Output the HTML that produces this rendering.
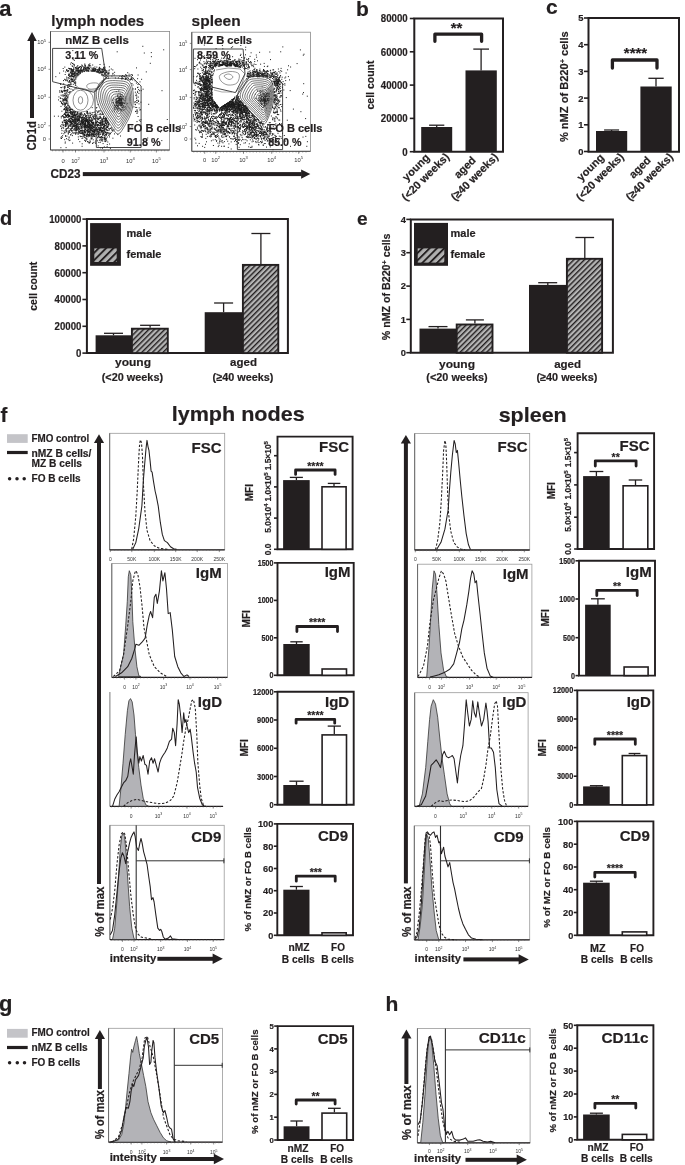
<!DOCTYPE html>
<html><head><meta charset="utf-8"><title>Figure</title>
<style>html,body{margin:0;padding:0;background:#fff;}svg{display:block;}text{stroke:#231f20;stroke-width:0.2px;stroke-linejoin:round;}text[font-weight=normal]{stroke:none;}</style>
</head><body>
<svg width="685" height="1165" viewBox="0 0 685 1165">
<defs><pattern id="hatch" patternUnits="userSpaceOnUse" width="3.75" height="3.75" patternTransform="rotate(45)"><rect width="3.75" height="3.75" fill="#b4b4b4"/><rect x="0" y="0" width="1.4" height="3.75" fill="#231f20"/></pattern><pattern id="hatchL" patternUnits="userSpaceOnUse" width="5.2" height="5.2" patternTransform="rotate(45)"><rect width="5.2" height="5.2" fill="#b0b0b0"/><rect x="0" y="0" width="1.9" height="5.2" fill="#231f20"/></pattern></defs>
<rect width="685" height="1165" fill="#fff"/>
<g font-family="Liberation Sans, Arial, Helvetica, sans-serif" font-weight="bold" fill="#231f20">
<text x="-0.8" y="16" font-size="22">a</text>
<text x="51.2" y="25.9" font-size="15" textLength="93" lengthAdjust="spacingAndGlyphs">lymph nodes</text>
<text x="191.6" y="25.9" font-size="15.5" textLength="49" lengthAdjust="spacingAndGlyphs">spleen</text>
<rect x="30" y="40.5" width="4" height="77.5" fill="#231f20"/>
<path d="M32 32 L36.8 41 L27.2 41Z" fill="#231f20"/>
<text x="36.5" y="150.6" font-size="12" textLength="29.5" lengthAdjust="spacingAndGlyphs" transform="rotate(-90 36.5 150.6)">CD1d</text>
<rect x="82.8" y="172.1" width="218.8" height="4" fill="#231f20"/>
<path d="M310.3 174.1 L301.1 169.5 L301.1 178.7Z" fill="#231f20"/>
<text x="50.6" y="177.6" font-size="12.5" textLength="30" lengthAdjust="spacingAndGlyphs">CD23</text>
<rect x="50.5" y="31.5" width="119.1" height="118.5" fill="none" stroke="#8a8a8a" stroke-width="0.8"/>
<line x1="50.5" y1="31.5" x2="50.5" y2="150" stroke="#333" stroke-width="0.8"/>
<line x1="50.5" y1="150" x2="169.6" y2="150" stroke="#333" stroke-width="0.8"/>
<line x1="52.5" y1="150" x2="52.5" y2="151.3" stroke="#555" stroke-width="0.5"/>
<line x1="55.8" y1="150" x2="55.8" y2="151.3" stroke="#555" stroke-width="0.5"/>
<line x1="59.1" y1="150" x2="59.1" y2="151.3" stroke="#555" stroke-width="0.5"/>
<line x1="62.4" y1="150" x2="62.4" y2="151.3" stroke="#555" stroke-width="0.5"/>
<line x1="65.7" y1="150" x2="65.7" y2="151.3" stroke="#555" stroke-width="0.5"/>
<line x1="69" y1="150" x2="69" y2="151.3" stroke="#555" stroke-width="0.5"/>
<line x1="72.3" y1="150" x2="72.3" y2="151.3" stroke="#555" stroke-width="0.5"/>
<line x1="75.6" y1="150" x2="75.6" y2="151.3" stroke="#555" stroke-width="0.5"/>
<line x1="78.9" y1="150" x2="78.9" y2="151.3" stroke="#555" stroke-width="0.5"/>
<line x1="82.2" y1="150" x2="82.2" y2="151.3" stroke="#555" stroke-width="0.5"/>
<line x1="85.5" y1="150" x2="85.5" y2="151.3" stroke="#555" stroke-width="0.5"/>
<line x1="88.8" y1="150" x2="88.8" y2="151.3" stroke="#555" stroke-width="0.5"/>
<line x1="92.1" y1="150" x2="92.1" y2="151.3" stroke="#555" stroke-width="0.5"/>
<line x1="95.4" y1="150" x2="95.4" y2="151.3" stroke="#555" stroke-width="0.5"/>
<line x1="98.7" y1="150" x2="98.7" y2="151.3" stroke="#555" stroke-width="0.5"/>
<line x1="102" y1="150" x2="102" y2="151.3" stroke="#555" stroke-width="0.5"/>
<line x1="105.3" y1="150" x2="105.3" y2="151.3" stroke="#555" stroke-width="0.5"/>
<line x1="108.6" y1="150" x2="108.6" y2="151.3" stroke="#555" stroke-width="0.5"/>
<line x1="111.9" y1="150" x2="111.9" y2="151.3" stroke="#555" stroke-width="0.5"/>
<line x1="115.2" y1="150" x2="115.2" y2="151.3" stroke="#555" stroke-width="0.5"/>
<line x1="118.5" y1="150" x2="118.5" y2="151.3" stroke="#555" stroke-width="0.5"/>
<line x1="121.8" y1="150" x2="121.8" y2="151.3" stroke="#555" stroke-width="0.5"/>
<line x1="125.1" y1="150" x2="125.1" y2="151.3" stroke="#555" stroke-width="0.5"/>
<line x1="128.4" y1="150" x2="128.4" y2="151.3" stroke="#555" stroke-width="0.5"/>
<line x1="131.7" y1="150" x2="131.7" y2="151.3" stroke="#555" stroke-width="0.5"/>
<line x1="135" y1="150" x2="135" y2="151.3" stroke="#555" stroke-width="0.5"/>
<line x1="138.3" y1="150" x2="138.3" y2="151.3" stroke="#555" stroke-width="0.5"/>
<line x1="141.6" y1="150" x2="141.6" y2="151.3" stroke="#555" stroke-width="0.5"/>
<line x1="144.9" y1="150" x2="144.9" y2="151.3" stroke="#555" stroke-width="0.5"/>
<line x1="148.2" y1="150" x2="148.2" y2="151.3" stroke="#555" stroke-width="0.5"/>
<line x1="151.5" y1="150" x2="151.5" y2="151.3" stroke="#555" stroke-width="0.5"/>
<line x1="154.8" y1="150" x2="154.8" y2="151.3" stroke="#555" stroke-width="0.5"/>
<line x1="158.1" y1="150" x2="158.1" y2="151.3" stroke="#555" stroke-width="0.5"/>
<line x1="161.4" y1="150" x2="161.4" y2="151.3" stroke="#555" stroke-width="0.5"/>
<line x1="164.7" y1="150" x2="164.7" y2="151.3" stroke="#555" stroke-width="0.5"/>
<line x1="168" y1="150" x2="168" y2="151.3" stroke="#555" stroke-width="0.5"/>
<line x1="48.5" y1="42.3" x2="50.5" y2="42.3" stroke="#444" stroke-width="0.6"/>
<text x="46.1" y="44.4" font-size="5.8" text-anchor="end" font-weight="normal" fill="#333">10<tspan font-size="4.1" dy="-2.6">5</tspan></text>
<line x1="48.5" y1="69.3" x2="50.5" y2="69.3" stroke="#444" stroke-width="0.6"/>
<text x="46.1" y="71.4" font-size="5.8" text-anchor="end" font-weight="normal" fill="#333">10<tspan font-size="4.1" dy="-2.6">4</tspan></text>
<line x1="48.5" y1="97.3" x2="50.5" y2="97.3" stroke="#444" stroke-width="0.6"/>
<text x="46.1" y="99.4" font-size="5.8" text-anchor="end" font-weight="normal" fill="#333">10<tspan font-size="4.1" dy="-2.6">3</tspan></text>
<line x1="48.5" y1="125.8" x2="50.5" y2="125.8" stroke="#444" stroke-width="0.6"/>
<text x="46.1" y="127.9" font-size="5.8" text-anchor="end" font-weight="normal" fill="#333">10<tspan font-size="4.1" dy="-2.6">2</tspan></text>
<line x1="48.5" y1="139" x2="50.5" y2="139" stroke="#444" stroke-width="0.6"/>
<text x="46.1" y="141.1" font-size="5.8" text-anchor="end" font-weight="normal" fill="#333">0</text>
<line x1="63" y1="150" x2="63" y2="152.5" stroke="#444" stroke-width="0.6"/>
<text x="63" y="163" font-size="5.8" text-anchor="middle" font-weight="normal" fill="#333">0</text>
<line x1="75.5" y1="150" x2="75.5" y2="152.5" stroke="#444" stroke-width="0.6"/>
<text x="75.5" y="163" font-size="5.8" text-anchor="middle" font-weight="normal" fill="#333">10<tspan font-size="4.1" dy="-2.6">2</tspan></text>
<line x1="104" y1="150" x2="104" y2="152.5" stroke="#444" stroke-width="0.6"/>
<text x="104" y="163" font-size="5.8" text-anchor="middle" font-weight="normal" fill="#333">10<tspan font-size="4.1" dy="-2.6">3</tspan></text>
<line x1="130.3" y1="150" x2="130.3" y2="152.5" stroke="#444" stroke-width="0.6"/>
<text x="130.3" y="163" font-size="5.8" text-anchor="middle" font-weight="normal" fill="#333">10<tspan font-size="4.1" dy="-2.6">4</tspan></text>
<line x1="156.4" y1="150" x2="156.4" y2="152.5" stroke="#444" stroke-width="0.6"/>
<text x="156.4" y="163" font-size="5.8" text-anchor="middle" font-weight="normal" fill="#333">10<tspan font-size="4.1" dy="-2.6">5</tspan></text>
<path d="M94.1 126.1h1.0M64.6 91.1h1.0M98.1 69.2h1.0M85.4 126.3h1.0M63.2 99.7h1.0M72.6 121.0h1.0M83.0 115.1h1.0M67.6 77.6h1.0M84.3 64.0h1.0M65.8 128.8h1.0M78.7 117.6h1.0M99.4 122.3h1.0M94.0 69.0h1.0M66.3 100.6h1.0M104.4 139.2h1.0M93.7 70.8h1.0M114.0 133.9h1.0M74.4 75.6h1.0M88.8 128.9h1.0M77.9 122.7h1.0M96.3 67.1h1.0M96.5 114.1h1.0M91.3 136.8h1.0M136.2 95.2h1.0M77.3 73.4h1.0M84.5 123.2h1.0M84.2 127.9h1.0M77.8 119.9h1.0M107.3 123.9h1.0M72.0 119.5h1.0M122.6 76.3h1.0M97.7 118.6h1.0M83.4 127.2h1.0M80.6 128.6h1.0M68.4 75.5h1.0M84.6 129.8h1.0M88.8 125.3h1.0M87.9 127.2h1.0M84.1 130.5h1.0M61.4 111.2h1.0M62.1 135.7h1.0M81.6 118.8h1.0M60.9 136.8h1.0M88.8 124.1h1.0M102.4 122.0h1.0M102.2 125.4h1.0M65.1 111.2h1.0M64.0 90.5h1.0M69.3 84.4h1.0M90.5 123.6h1.0M130.9 78.9h1.0M86.7 131.2h1.0M71.3 109.4h1.0M101.3 124.5h1.0M103.8 123.0h1.0M68.5 125.9h1.0M102.9 71.0h1.0M88.6 130.3h1.0M88.4 121.0h1.0M83.3 134.0h1.0M98.3 111.8h1.0M66.9 115.9h1.0M95.8 108.0h1.0M104.2 124.8h1.0M99.7 113.4h1.0M85.2 116.5h1.0M91.6 130.8h1.0M100.7 118.0h1.0M105.0 120.0h1.0M88.2 123.4h1.0M61.7 95.9h1.0M71.7 76.5h1.0M100.1 127.8h1.0M63.9 95.2h1.0M86.4 67.5h1.0M77.7 116.9h1.0M71.8 76.2h1.0M91.0 71.1h1.0M74.6 111.9h1.0M65.4 126.3h1.0M88.8 133.4h1.0M73.7 129.8h1.0M82.6 117.0h1.0M65.5 110.7h1.0M66.0 138.7h1.0M160.0 132.0h1.0M104.6 128.9h1.0M100.0 72.6h1.0M95.9 127.6h1.0M77.6 134.4h1.0M82.5 121.7h1.0M91.5 134.1h1.0M65.1 126.5h1.0M80.8 126.4h1.0M98.2 122.6h1.0M67.2 85.1h1.0M74.1 72.4h1.0M82.0 117.5h1.0M74.1 126.2h1.0M76.6 71.3h1.0M66.5 123.7h1.0M89.6 133.9h1.0M106.8 144.6h1.0M69.0 107.9h1.0M92.4 130.2h1.0M99.7 122.5h1.0M90.6 129.5h1.0M65.1 99.6h1.0M81.4 127.3h1.0M107.0 127.5h1.0M73.4 64.3h1.0M68.6 106.4h1.0M70.0 121.6h1.0M79.0 67.5h1.0M103.1 116.6h1.0M83.9 135.8h1.0M99.6 124.7h1.0M100.3 71.5h1.0M60.8 117.9h1.0M136.5 102.8h1.0M70.4 68.5h1.0M106.0 123.6h1.0M93.5 119.5h1.0M87.6 127.0h1.0M110.7 132.4h1.0M64.8 97.3h1.0M108.8 70.0h1.0M89.3 134.9h1.0M95.7 71.4h1.0M135.7 94.0h1.0M88.2 122.2h1.0M74.8 115.6h1.0M87.5 121.2h1.0M101.4 140.5h1.0M105.9 125.0h1.0M74.9 115.1h1.0M91.7 120.4h1.0M92.4 134.7h1.0M98.6 110.7h1.0M74.4 119.2h1.0M94.7 122.3h1.0M103.9 70.5h1.0M75.2 116.1h1.0M81.3 114.1h1.0M103.8 128.4h1.0M76.9 67.0h1.0M87.7 117.8h1.0M79.5 133.0h1.0M66.6 114.3h1.0M77.2 74.1h1.0M79.2 118.3h1.0M64.8 99.7h1.0M91.3 120.1h1.0M81.7 132.4h1.0M123.9 76.7h1.0M64.2 93.3h1.0M98.8 132.5h1.0M72.9 74.9h1.0M75.4 122.5h1.0M93.6 128.0h1.0M93.1 126.9h1.0M99.1 70.0h1.0M81.0 70.7h1.0M83.6 124.9h1.0M64.7 105.0h1.0M95.2 129.7h1.0M105.9 121.1h1.0M68.5 131.0h1.0M81.4 131.8h1.0M75.3 75.1h1.0M87.6 136.9h1.0M83.9 135.4h1.0M71.5 114.6h1.0M87.1 131.0h1.0M104.6 136.0h1.0M77.4 118.4h1.0M67.1 91.0h1.0M106.9 126.5h1.0M95.5 123.7h1.0M91.9 133.3h1.0M71.6 79.3h1.0M93.9 131.4h1.0M66.9 107.1h1.0M71.8 121.4h1.0M103.2 126.6h1.0M101.4 127.8h1.0M85.2 126.7h1.0M71.3 130.8h1.0M74.5 113.1h1.0M65.3 109.9h1.0M78.3 71.0h1.0M96.7 129.8h1.0M82.5 121.7h1.0M72.7 81.5h1.0M101.8 137.9h1.0M92.7 123.2h1.0M70.5 114.7h1.0M68.2 115.2h1.0M74.2 74.0h1.0M117.9 77.9h1.0M77.7 115.8h1.0M79.5 122.6h1.0M93.0 69.8h1.0M113.7 75.0h1.0M74.5 88.3h1.0M70.2 123.3h1.0M86.7 120.7h1.0M64.9 79.8h1.0M67.7 132.8h1.0M83.0 68.9h1.0M65.8 131.9h1.0M75.9 87.9h1.0M79.4 121.7h1.0M69.5 116.5h1.0M91.2 125.8h1.0M70.1 72.3h1.0M65.9 116.6h1.0M78.6 120.2h1.0M99.0 70.4h1.0M65.1 100.8h1.0M71.6 109.5h1.0M83.4 115.6h1.0M73.9 80.2h1.0M136.5 111.9h1.0M82.9 134.1h1.0M92.6 124.4h1.0M65.2 72.0h1.0M138.7 107.9h1.0M81.0 133.3h1.0M77.3 127.5h1.0M77.5 125.4h1.0M100.8 130.3h1.0M72.3 126.6h1.0M76.7 118.0h1.0M74.2 112.1h1.0M81.2 126.3h1.0M74.2 76.2h1.0M85.0 126.5h1.0M61.6 98.5h1.0M71.0 75.5h1.0M72.5 112.2h1.0M68.4 115.8h1.0M69.1 80.7h1.0M121.1 78.9h1.0M96.2 71.3h1.0M81.9 125.1h1.0M84.3 65.9h1.0M97.6 131.9h1.0M78.0 72.1h1.0M75.5 68.4h1.0M88.6 120.1h1.0M108.4 72.5h1.0M65.7 130.3h1.0M86.1 70.8h1.0M73.1 80.9h1.0M76.3 128.6h1.0M105.3 128.4h1.0M85.5 127.2h1.0M87.2 121.2h1.0M90.1 128.8h1.0M61.4 127.9h1.0M85.2 126.3h1.0M74.5 125.2h1.0M109.7 147.8h1.0M102.9 133.7h1.0M82.7 134.1h1.0M106.3 72.4h1.0M104.9 120.9h1.0M81.3 65.0h1.0M86.9 125.0h1.0M89.3 121.0h1.0M100.3 123.5h1.0M89.5 134.5h1.0M77.5 126.3h1.0M64.4 95.6h1.0M72.1 112.6h1.0M99.8 129.5h1.0M134.6 80.8h1.0M99.9 134.3h1.0M81.3 126.2h1.0M85.2 132.7h1.0M107.7 126.4h1.0M75.3 115.5h1.0M76.2 132.4h1.0M132.7 78.3h1.0M105.9 118.8h1.0M90.9 135.2h1.0M89.3 124.1h1.0M74.0 82.4h1.0M71.1 75.0h1.0M68.8 82.2h1.0M85.2 118.6h1.0M94.7 125.1h1.0M84.6 135.6h1.0M87.4 125.3h1.0M72.3 116.3h1.0M79.3 126.4h1.0M55.3 76.7h1.0M60.8 90.4h1.0M75.2 134.3h1.0M70.9 75.6h1.0M94.3 125.3h1.0M75.2 127.8h1.0M97.8 127.7h1.0M134.8 89.2h1.0M70.2 111.2h1.0M82.3 128.8h1.0M64.8 109.0h1.0M87.2 134.2h1.0M122.0 75.6h1.0M87.1 112.4h1.0M80.3 71.8h1.0M81.2 113.6h1.0M105.8 75.7h1.0M90.4 129.2h1.0M70.9 122.8h1.0M72.0 71.7h1.0M72.8 70.5h1.0M87.5 126.3h1.0M104.4 76.5h1.0M84.1 140.3h1.0M98.1 129.0h1.0M101.3 125.1h1.0M97.2 125.2h1.0M66.0 115.7h1.0M136.5 113.5h1.0M74.5 118.1h1.0M81.1 122.0h1.0M66.6 124.0h1.0M100.3 122.6h1.0M83.1 119.3h1.0M62.0 115.8h1.0M96.5 118.6h1.0M94.5 126.1h1.0M70.2 82.3h1.0M110.5 128.3h1.0M91.6 68.9h1.0M125.4 76.2h1.0M72.3 90.0h1.0M66.8 70.9h1.0M71.2 118.6h1.0M101.5 119.6h1.0M75.5 127.5h1.0M74.9 121.6h1.0M67.5 94.7h1.0M132.5 85.0h1.0M66.3 69.6h1.0M64.5 122.3h1.0M66.0 99.3h1.0M123.8 76.4h1.0M93.6 132.5h1.0M88.5 134.5h1.0M77.7 124.3h1.0M71.4 81.0h1.0M83.5 120.6h1.0M60.8 92.0h1.0M75.1 81.9h1.0M84.3 68.3h1.0M90.3 132.2h1.0M80.6 123.8h1.0M86.0 117.8h1.0M97.7 71.1h1.0M74.3 83.6h1.0M135.3 95.6h1.0M86.5 131.7h1.0M100.3 137.5h1.0M81.3 127.1h1.0M102.1 135.2h1.0M75.5 133.4h1.0M93.5 134.5h1.0M78.8 117.6h1.0M76.2 73.1h1.0M93.7 131.0h1.0M87.5 120.8h1.0M94.3 127.3h1.0M100.5 139.5h1.0M65.6 106.5h1.0M107.3 73.4h1.0M101.3 131.6h1.0M101.8 130.9h1.0M92.6 125.1h1.0M62.5 87.1h1.0M86.1 136.6h1.0M94.0 130.5h1.0M103.0 127.8h1.0M64.4 99.7h1.0M63.5 117.6h1.0M93.3 133.9h1.0M87.8 132.4h1.0M62.7 68.5h1.0M79.8 117.7h1.0M60.3 138.0h1.0M92.2 126.5h1.0M101.4 119.4h1.0M105.4 134.9h1.0M84.7 119.1h1.0M92.4 123.0h1.0M97.7 122.6h1.0M97.3 112.3h1.0M94.9 142.0h1.0M87.2 134.4h1.0M70.4 126.3h1.0M73.9 115.4h1.0M94.1 118.4h1.0M103.7 74.0h1.0M104.1 74.0h1.0M65.1 103.7h1.0M107.9 78.2h1.0M108.9 66.8h1.0M84.1 134.7h1.0M76.9 116.9h1.0M75.1 111.7h1.0M101.8 128.6h1.0M99.4 140.2h1.0M84.4 64.8h1.0M86.8 67.9h1.0M81.2 136.5h1.0M71.8 123.3h1.0M70.3 121.5h1.0M77.7 71.5h1.0M85.7 120.0h1.0M68.4 120.2h1.0M74.8 77.7h1.0M91.5 69.0h1.0M92.4 71.4h1.0M81.0 117.8h1.0M67.4 87.2h1.0M75.4 128.9h1.0M143.8 53.0h1.0M71.4 133.7h1.0M84.8 129.2h1.0M74.3 117.3h1.0M93.8 114.6h1.0M76.6 70.3h1.0M65.8 90.6h1.0M88.4 124.6h1.0M107.3 121.8h1.0M73.4 115.4h1.0M117.3 134.6h1.0M84.5 68.3h1.0M102.6 121.7h1.0M70.0 113.4h1.0M82.4 70.0h1.0M103.5 131.5h1.0M131.4 83.5h1.0M87.0 141.6h1.0M75.8 123.7h1.0M106.1 119.0h1.0M100.8 125.7h1.0M67.4 86.9h1.0M109.9 133.7h1.0M80.0 133.3h1.0M94.5 136.2h1.0M81.2 133.1h1.0M72.8 125.0h1.0M70.5 76.7h1.0M93.1 117.9h1.0M58.0 99.9h1.0M101.7 141.2h1.0M66.6 124.9h1.0M100.3 71.4h1.0M103.7 138.4h1.0M66.0 100.5h1.0M77.8 136.9h1.0M75.7 120.0h1.0M68.6 116.1h1.0M82.6 133.7h1.0M105.9 138.3h1.0M92.1 143.3h1.0M102.2 133.8h1.0M68.9 76.5h1.0M59.9 98.4h1.0M81.9 66.1h1.0M103.8 127.9h1.0M89.7 121.4h1.0M83.6 131.0h1.0M86.0 120.8h1.0M78.1 68.3h1.0M63.3 101.1h1.0M76.8 124.9h1.0M73.7 112.1h1.0M77.8 68.1h1.0M93.9 68.3h1.0M90.0 120.7h1.0M61.8 122.1h1.0M97.2 121.3h1.0M88.1 126.8h1.0M93.3 142.4h1.0M92.1 125.8h1.0M71.9 123.2h1.0M65.3 80.6h1.0M64.8 96.1h1.0M90.4 130.8h1.0M102.1 121.8h1.0M103.7 137.6h1.0M92.7 129.5h1.0M73.0 121.3h1.0M70.2 76.6h1.0M67.5 87.2h1.0M98.9 69.5h1.0M63.0 99.9h1.0M95.9 121.0h1.0M75.6 126.9h1.0M102.7 75.2h1.0M100.7 127.3h1.0M72.6 76.5h1.0M136.3 110.1h1.0M66.1 70.2h1.0M68.2 116.5h1.0M86.7 119.7h1.0M79.1 132.8h1.0M142.6 89.2h1.0M64.9 120.8h1.0M101.5 68.7h1.0M69.5 110.0h1.0M70.6 121.9h1.0M73.5 66.8h1.0M64.0 120.5h1.0M80.2 72.6h1.0M90.4 67.3h1.0M76.8 73.0h1.0M99.1 129.0h1.0M64.9 93.2h1.0M66.4 136.1h1.0M81.1 130.8h1.0M74.3 122.2h1.0M75.3 130.0h1.0M93.2 136.2h1.0M102.5 114.4h1.0M83.9 125.5h1.0M65.9 128.9h1.0M74.5 128.4h1.0M72.2 75.3h1.0M73.2 117.2h1.0M88.8 135.1h1.0M113.5 129.9h1.0M83.2 118.2h1.0M97.1 119.7h1.0M163.2 49.8h1.0M137.4 100.2h1.0M102.0 124.5h1.0M97.9 132.3h1.0M64.0 87.7h1.0M71.0 69.5h1.0M84.2 131.3h1.0M100.4 133.9h1.0M85.5 126.6h1.0M66.7 108.9h1.0M101.6 70.2h1.0M103.5 124.8h1.0M83.2 67.2h1.0M64.7 143.1h1.0M68.7 140.6h1.0M138.5 103.9h1.0M81.9 122.3h1.0M86.2 127.5h1.0M65.3 124.9h1.0M69.1 112.7h1.0M76.1 114.6h1.0M103.6 127.0h1.0M92.9 126.9h1.0M105.7 118.9h1.0M65.8 124.0h1.0M87.7 142.0h1.0M85.1 123.7h1.0M94.3 127.4h1.0M105.5 139.7h1.0M96.7 118.3h1.0M71.8 81.5h1.0M74.2 121.7h1.0M126.1 78.7h1.0M63.3 125.3h1.0M67.6 113.6h1.0M91.2 125.1h1.0M67.2 115.1h1.0M128.0 78.3h1.0M86.2 125.9h1.0M76.9 123.3h1.0M69.3 85.3h1.0M76.8 116.3h1.0M78.5 113.7h1.0M83.0 119.5h1.0M97.6 72.3h1.0M108.1 124.0h1.0M67.9 126.5h1.0M74.3 124.0h1.0M95.4 140.8h1.0M69.3 115.5h1.0M83.7 125.0h1.0M72.3 63.4h1.0M64.9 103.1h1.0M78.0 72.5h1.0M78.5 115.0h1.0M104.3 68.3h1.0M92.5 69.5h1.0M75.9 73.9h1.0M93.6 115.7h1.0M68.9 115.4h1.0M100.7 123.7h1.0M92.0 131.0h1.0M98.6 137.3h1.0M82.5 130.5h1.0M65.4 129.3h1.0M88.7 142.8h1.0M68.2 116.6h1.0M76.7 126.5h1.0M64.2 139.7h1.0M97.6 131.7h1.0M79.3 115.9h1.0M68.7 74.5h1.0M102.3 131.7h1.0M87.4 128.0h1.0M76.8 116.3h1.0M69.9 124.7h1.0M77.4 117.4h1.0M86.2 121.6h1.0M99.3 140.1h1.0M79.9 130.8h1.0M104.0 69.0h1.0M97.7 145.9h1.0M66.5 123.2h1.0M105.4 125.6h1.0M96.2 139.1h1.0M82.5 124.2h1.0M66.7 110.5h1.0M82.3 136.2h1.0M103.5 120.1h1.0M67.9 133.2h1.0M88.9 120.4h1.0M66.5 80.6h1.0M89.1 136.1h1.0M57.9 116.2h1.0M89.5 140.2h1.0M86.7 69.8h1.0M68.6 137.0h1.0M87.1 124.8h1.0M90.0 115.6h1.0M68.4 131.9h1.0M85.9 135.7h1.0M97.5 69.8h1.0M77.3 65.6h1.0M79.8 71.8h1.0M149.8 63.3h1.0M87.0 122.5h1.0M78.2 124.0h1.0M64.9 114.4h1.0M110.8 69.0h1.0M79.8 113.4h1.0M63.6 120.4h1.0M86.6 68.9h1.0M98.6 68.7h1.0M68.0 121.2h1.0M84.1 118.3h1.0M85.3 140.7h1.0M88.7 125.6h1.0M136.3 97.0h1.0M84.3 120.2h1.0M98.1 129.1h1.0M104.5 67.2h1.0M83.4 121.9h1.0M82.1 127.2h1.0M87.9 134.8h1.0M84.8 65.5h1.0M66.3 93.7h1.0M103.0 67.4h1.0M100.0 137.8h1.0M73.2 71.7h1.0M69.2 91.8h1.0M79.1 116.4h1.0M138.9 120.2h1.0M96.6 69.5h1.0M82.7 122.6h1.0M61.2 91.5h1.0M64.4 99.3h1.0M84.4 121.1h1.0M65.0 90.4h1.0M89.9 128.9h1.0M87.3 125.2h1.0M161.3 140.6h1.0M102.0 123.3h1.0M88.8 124.4h1.0M87.6 67.5h1.0M77.0 112.6h1.0M100.3 137.1h1.0M86.4 125.4h1.0M87.7 71.0h1.0M64.3 67.1h1.0M78.7 129.7h1.0M127.2 77.8h1.0M71.5 72.7h1.0M99.4 137.7h1.0M76.8 114.5h1.0M71.4 78.8h1.0M105.2 120.9h1.0M103.6 126.0h1.0M71.9 135.6h1.0M102.0 148.2h1.0M74.7 115.0h1.0M72.7 126.6h1.0M83.8 67.5h1.0M102.4 113.9h1.0M100.1 147.8h1.0M98.0 70.2h1.0M102.1 121.6h1.0M105.1 132.9h1.0M62.8 95.9h1.0M80.1 123.8h1.0M73.6 125.1h1.0M66.2 98.3h1.0M70.6 81.1h1.0M79.9 123.3h1.0M76.1 114.4h1.0M64.4 117.6h1.0M98.7 133.1h1.0M66.2 70.3h1.0M99.9 116.4h1.0M102.8 130.5h1.0M105.5 120.2h1.0M106.9 127.4h1.0M74.4 125.1h1.0M65.0 122.6h1.0M75.9 125.9h1.0M89.4 63.8h1.0M77.1 133.0h1.0M68.1 114.7h1.0M92.1 124.1h1.0M97.2 125.0h1.0M73.9 132.9h1.0M90.3 130.6h1.0M86.5 113.3h1.0M77.8 128.5h1.0M63.6 120.1h1.0M98.0 136.3h1.0M94.9 134.5h1.0M77.9 118.6h1.0M91.3 117.8h1.0M106.9 126.4h1.0M69.0 68.5h1.0M137.1 92.4h1.0M85.5 70.5h1.0M97.0 124.7h1.0M67.3 110.1h1.0M83.1 124.3h1.0M106.1 75.0h1.0M93.9 70.8h1.0M125.9 75.5h1.0M68.9 88.6h1.0M93.0 117.0h1.0M92.8 127.6h1.0M78.0 139.3h1.0M71.1 122.6h1.0M77.9 128.6h1.0M63.1 128.2h1.0M101.0 130.0h1.0M72.5 120.8h1.0M92.5 135.9h1.0M74.5 119.6h1.0M88.1 68.0h1.0M85.2 124.1h1.0M104.6 120.1h1.0M84.9 68.4h1.0M87.1 120.1h1.0M83.3 69.7h1.0M76.7 121.1h1.0M65.2 114.5h1.0M105.9 135.0h1.0M91.1 121.3h1.0M59.1 73.1h1.0M76.0 121.9h1.0M65.9 108.4h1.0M70.2 122.3h1.0M72.7 126.3h1.0M63.5 103.9h1.0M81.0 120.2h1.0M64.4 117.3h1.0M68.6 119.4h1.0M67.9 82.0h1.0M94.6 123.7h1.0M66.3 107.5h1.0M82.8 123.0h1.0M145.8 71.9h1.0M103.0 68.8h1.0M106.2 129.6h1.0M66.0 107.0h1.0M85.2 137.8h1.0M68.9 80.8h1.0M81.6 146.3h1.0M97.0 131.9h1.0M94.0 136.5h1.0M82.3 138.0h1.0M95.6 129.6h1.0M63.9 113.8h1.0M95.5 130.6h1.0M106.5 133.7h1.0M106.6 146.7h1.0M91.1 134.2h1.0M96.4 116.7h1.0M73.7 118.6h1.0M102.5 134.3h1.0M68.8 120.7h1.0M67.5 112.1h1.0M69.3 109.4h1.0M80.5 117.5h1.0M96.7 117.9h1.0M104.7 72.7h1.0M64.0 122.1h1.0M85.0 141.3h1.0M105.9 120.3h1.0M95.0 69.0h1.0M76.4 124.9h1.0M96.2 115.4h1.0M85.9 121.2h1.0M60.9 87.7h1.0M70.8 69.2h1.0M79.8 114.0h1.0M71.4 131.2h1.0M80.5 66.5h1.0M121.2 78.3h1.0M74.8 117.3h1.0M63.0 80.6h1.0M75.3 119.8h1.0M83.3 120.2h1.0M104.6 121.1h1.0M102.9 117.8h1.0M105.2 123.3h1.0M141.1 79.3h1.0M71.2 79.6h1.0M71.1 123.7h1.0M74.7 129.2h1.0M99.7 120.5h1.0M150.9 56.7h1.0M83.5 122.2h1.0M87.0 135.9h1.0M68.4 121.2h1.0M69.0 92.9h1.0M77.2 112.1h1.0M88.0 68.7h1.0M81.0 128.0h1.0M87.1 129.1h1.0M71.8 112.2h1.0M101.8 112.2h1.0M86.8 134.2h1.0M68.0 108.0h1.0M81.5 122.6h1.0M100.9 136.5h1.0M97.2 137.8h1.0M97.3 125.1h1.0M87.4 134.8h1.0M70.8 114.0h1.0M88.9 68.3h1.0M105.3 127.1h1.0M147.2 138.0h1.0M84.5 123.5h1.0M100.5 114.7h1.0M63.5 91.2h1.0M105.3 132.5h1.0M105.8 134.9h1.0M97.0 129.1h1.0M103.5 126.4h1.0M84.8 120.7h1.0M87.2 113.0h1.0M86.8 113.3h1.0M65.6 147.6h1.0M88.4 122.6h1.0M75.7 129.3h1.0M80.1 130.5h1.0M102.2 128.5h1.0M90.2 126.2h1.0M85.6 68.5h1.0M92.5 123.0h1.0M63.9 108.8h1.0M66.2 119.5h1.0M106.8 137.0h1.0M70.9 118.3h1.0M102.2 134.6h1.0M65.1 136.3h1.0M64.9 124.8h1.0M131.9 75.4h1.0M79.3 72.4h1.0M81.7 130.2h1.0M71.9 128.3h1.0M129.8 79.4h1.0M88.8 131.2h1.0M89.4 127.3h1.0M103.3 69.3h1.0M94.8 125.6h1.0M73.2 73.8h1.0M60.5 106.4h1.0M85.6 69.9h1.0M86.2 119.4h1.0M81.1 122.3h1.0M88.6 142.1h1.0M60.9 102.5h1.0M67.4 89.9h1.0M69.3 69.2h1.0M103.9 135.4h1.0M98.3 118.2h1.0M81.3 120.8h1.0M91.7 107.6h1.0M108.1 128.2h1.0M97.1 140.8h1.0M66.3 98.3h1.0M72.8 120.0h1.0M137.1 91.3h1.0M84.7 70.1h1.0M103.0 127.1h1.0M99.7 122.8h1.0M71.9 117.5h1.0M64.3 100.4h1.0M60.8 116.4h1.0M74.6 115.1h1.0M89.4 142.6h1.0M104.4 131.3h1.0M96.6 71.6h1.0M83.2 132.8h1.0M85.0 123.6h1.0M80.4 69.5h1.0M83.6 71.6h1.0M120.0 136.0h1.0M66.5 117.3h1.0M81.5 114.5h1.0M76.7 120.2h1.0M109.0 136.9h1.0M82.5 118.3h1.0M104.6 72.8h1.0M82.2 124.2h1.0M64.2 88.3h1.0M70.6 111.6h1.0M131.1 78.3h1.0M70.5 109.4h1.0M103.3 134.9h1.0M61.8 91.5h1.0M67.4 127.3h1.0M109.0 129.9h1.0M89.1 126.2h1.0M94.3 70.7h1.0M99.4 68.8h1.0M92.4 134.1h1.0M87.2 67.9h1.0M106.1 71.2h1.0M122.7 78.4h1.0M87.0 130.9h1.0M101.0 72.1h1.0M99.9 68.8h1.0M86.0 134.7h1.0M103.7 133.1h1.0M88.1 71.0h1.0M88.5 119.4h1.0M114.1 72.3h1.0M63.2 117.9h1.0M104.3 129.7h1.0M99.6 118.2h1.0M107.1 130.6h1.0M73.7 123.5h1.0M85.2 126.1h1.0M74.6 115.5h1.0M99.3 69.8h1.0M88.3 65.2h1.0M64.5 119.9h1.0M67.2 123.6h1.0M65.9 109.5h1.0M72.9 81.9h1.0M137.5 84.5h1.0M78.8 131.8h1.0M108.6 73.8h1.0M64.7 117.6h1.0M71.7 73.5h1.0M79.0 119.3h1.0M108.1 73.4h1.0M102.9 118.4h1.0M100.9 138.9h1.0M99.2 123.5h1.0M74.2 120.1h1.0M69.6 112.1h1.0M84.8 127.2h1.0M111.3 129.8h1.0M99.0 67.3h1.0M61.5 130.6h1.0M86.4 125.3h1.0M67.2 110.5h1.0M63.2 125.0h1.0M82.3 123.5h1.0M103.4 127.0h1.0M80.8 130.5h1.0M87.6 70.4h1.0M99.9 117.5h1.0M63.9 90.4h1.0M73.8 65.4h1.0M125.3 78.7h1.0M92.5 123.8h1.0M68.2 75.4h1.0M76.4 70.2h1.0M98.8 118.2h1.0M91.9 70.7h1.0M138.0 101.4h1.0M66.8 104.0h1.0M89.1 126.7h1.0M84.3 127.1h1.0M89.2 128.7h1.0M72.1 143.1h1.0M103.0 71.9h1.0M138.1 101.0h1.0M87.1 67.9h1.0M68.4 119.2h1.0M75.8 75.9h1.0M66.8 128.5h1.0M67.8 71.3h1.0M100.4 114.2h1.0M70.3 134.7h1.0M66.3 95.2h1.0M102.3 133.0h1.0M75.3 73.8h1.0M70.7 78.1h1.0M73.3 77.2h1.0M67.4 115.4h1.0M103.6 64.3h1.0M67.7 139.4h1.0M96.1 135.8h1.0M70.8 62.7h1.0M65.4 110.1h1.0M70.7 73.3h1.0M102.0 69.5h1.0M125.0 78.7h1.0M78.6 122.0h1.0M89.0 68.4h1.0M65.6 111.8h1.0M69.2 78.2h1.0M74.7 118.4h1.0M74.5 126.8h1.0M81.7 121.3h1.0M74.6 115.4h1.0M94.8 130.1h1.0M87.6 115.6h1.0M101.3 130.5h1.0M97.0 71.0h1.0M63.2 83.8h1.0M137.2 111.9h1.0M77.6 126.3h1.0M129.9 79.9h1.0M92.0 128.4h1.0M89.5 112.3h1.0M96.1 122.9h1.0M67.2 120.6h1.0M89.8 141.7h1.0M74.3 115.1h1.0M103.8 130.7h1.0M102.7 75.7h1.0M80.9 121.2h1.0M85.9 119.8h1.0M72.5 110.9h1.0M86.5 125.5h1.0M93.4 124.7h1.0M70.7 113.4h1.0M87.0 123.7h1.0M85.2 123.7h1.0M85.0 119.2h1.0M76.2 77.1h1.0M103.3 124.2h1.0M93.6 54.4h1.0M107.7 133.3h1.0M68.0 74.8h1.0M93.1 122.6h1.0M77.5 73.1h1.0M70.9 130.3h1.0M66.3 115.9h1.0M80.9 128.0h1.0M70.1 134.9h1.0M78.2 120.8h1.0M106.0 133.9h1.0M133.4 106.9h1.0M80.0 114.4h1.0M86.9 127.7h1.0M72.2 76.7h1.0M80.4 68.3h1.0M58.4 96.9h1.0M69.8 121.1h1.0M104.7 119.4h1.0M75.2 82.8h1.0M66.5 122.5h1.0M90.2 130.3h1.0M93.0 70.5h1.0M68.6 119.1h1.0M88.7 131.3h1.0M85.6 128.1h1.0M101.5 140.1h1.0M83.4 66.9h1.0M68.6 137.9h1.0M85.7 138.2h1.0M82.4 116.3h1.0M79.8 114.3h1.0M89.3 117.0h1.0M105.6 77.9h1.0M86.9 122.5h1.0M64.8 122.2h1.0M63.1 71.0h1.0M86.0 116.0h1.0M66.1 115.6h1.0M95.5 130.7h1.0M100.8 127.9h1.0M86.2 120.2h1.0M63.2 109.7h1.0M69.5 140.2h1.0M93.0 68.1h1.0M86.5 134.0h1.0M112.6 73.3h1.0M99.0 128.1h1.0M84.7 134.9h1.0M67.5 87.2h1.0M66.9 121.1h1.0M70.5 83.1h1.0M72.3 113.1h1.0M84.2 126.8h1.0M96.0 122.4h1.0M82.0 119.6h1.0M71.1 128.8h1.0M60.1 84.4h1.0M101.6 130.5h1.0M70.1 109.6h1.0M66.6 91.6h1.0M69.2 107.6h1.0M121.7 77.4h1.0M74.1 126.8h1.0M94.6 124.5h1.0M72.7 59.6h1.0M91.6 134.8h1.0M99.7 70.8h1.0M98.8 70.9h1.0M106.8 122.2h1.0M107.1 120.7h1.0M84.6 131.8h1.0M80.8 70.1h1.0M112.4 131.0h1.0M89.8 113.7h1.0M72.5 116.8h1.0M106.4 71.1h1.0M94.1 130.0h1.0M94.7 128.5h1.0M73.2 125.4h1.0M95.2 68.6h1.0M138.4 93.4h1.0M105.1 71.0h1.0M79.0 124.3h1.0M103.9 137.7h1.0M78.0 120.1h1.0M80.6 70.1h1.0M68.1 121.6h1.0M79.5 120.9h1.0M97.1 137.2h1.0M70.2 84.0h1.0M66.0 131.1h1.0M68.1 115.4h1.0M136.1 98.3h1.0M79.1 120.6h1.0M83.8 120.2h1.0M64.8 124.5h1.0M90.6 121.2h1.0M101.8 122.6h1.0M65.6 116.5h1.0M77.7 69.9h1.0M69.3 132.4h1.0M61.1 103.3h1.0M84.8 114.7h1.0M61.4 124.6h1.0M88.9 122.3h1.0M77.2 120.7h1.0M67.1 105.2h1.0M74.0 121.1h1.0M135.0 111.4h1.0M102.4 137.3h1.0M71.3 71.0h1.0M62.0 92.3h1.0M64.0 109.6h1.0M92.2 143.4h1.0M72.1 120.0h1.0M101.1 75.0h1.0M73.3 73.9h1.0M69.0 121.6h1.0M84.0 134.5h1.0M98.7 73.1h1.0M103.9 126.1h1.0M93.4 130.9h1.0M67.1 71.3h1.0M76.9 129.8h1.0M94.0 132.6h1.0M62.6 125.7h1.0M80.9 118.7h1.0M85.8 130.6h1.0M66.2 109.4h1.0M72.8 111.9h1.0M91.1 133.3h1.0M75.1 132.2h1.0M74.8 122.9h1.0M69.0 116.0h1.0M63.4 96.0h1.0M87.7 66.2h1.0M79.9 127.1h1.0M75.1 83.8h1.0M71.9 109.8h1.0M82.0 123.0h1.0M81.1 67.8h1.0M74.1 114.7h1.0M107.9 122.7h1.0M66.8 89.6h1.0M96.1 128.8h1.0M80.9 121.3h1.0M94.2 71.4h1.0M78.7 114.1h1.0M83.9 117.6h1.0M78.3 130.2h1.0M77.8 130.0h1.0M97.0 121.4h1.0M69.1 86.3h1.0M91.9 119.8h1.0M84.7 128.8h1.0M72.6 116.6h1.0M77.4 128.5h1.0M101.7 74.5h1.0M89.3 132.3h1.0M105.1 141.1h1.0M76.2 124.8h1.0M86.1 118.4h1.0M67.2 108.7h1.0M64.7 126.6h1.0M98.4 71.6h1.0M102.5 71.4h1.0M96.6 134.8h1.0M71.3 116.1h1.0M72.6 115.0h1.0M79.6 73.5h1.0M67.8 125.2h1.0M95.1 69.5h1.0M73.2 71.3h1.0M60.4 87.5h1.0M82.1 123.5h1.0M74.5 73.2h1.0M74.8 76.0h1.0M90.8 138.2h1.0M63.5 100.0h1.0M93.8 135.7h1.0M65.0 87.0h1.0M80.9 120.1h1.0M75.6 120.7h1.0M69.1 116.3h1.0M72.1 121.4h1.0M71.7 71.8h1.0M85.0 117.0h1.0M89.3 122.9h1.0M85.7 121.7h1.0M88.9 125.1h1.0M93.9 112.1h1.0M75.9 130.8h1.0M91.8 128.9h1.0M102.5 130.6h1.0M93.1 123.5h1.0M64.8 98.7h1.0M101.6 137.1h1.0M66.9 97.3h1.0M60.1 83.6h1.0M87.0 111.5h1.0M95.2 122.5h1.0M63.9 108.8h1.0M98.4 134.9h1.0M75.6 68.0h1.0M65.0 107.8h1.0M74.4 69.2h1.0M77.6 71.2h1.0M142.3 46.3h1.0M69.7 70.9h1.0M92.2 136.8h1.0M96.9 126.7h1.0M74.4 74.5h1.0M81.7 65.8h1.0M63.5 131.1h1.0M69.7 109.9h1.0M107.3 122.5h1.0M62.5 100.6h1.0M70.2 72.8h1.0M101.7 71.9h1.0M103.5 124.0h1.0M81.9 71.4h1.0M97.7 125.0h1.0M91.3 126.8h1.0M69.9 122.4h1.0M70.7 120.1h1.0M136.5 121.6h1.0M90.6 70.5h1.0M88.0 127.6h1.0M105.3 139.4h1.0M111.4 76.0h1.0M76.1 127.3h1.0M80.2 71.1h1.0M71.7 114.6h1.0M90.9 122.5h1.0M68.7 115.6h1.0M127.3 79.8h1.0M73.0 69.0h1.0M101.8 70.1h1.0M98.9 118.7h1.0M68.1 68.3h1.0M76.8 70.0h1.0M77.2 120.5h1.0M95.7 124.4h1.0M78.2 119.7h1.0M97.8 127.6h1.0M97.7 71.7h1.0M95.4 129.5h1.0M89.3 131.2h1.0M75.9 68.0h1.0M79.6 70.9h1.0M86.4 119.9h1.0M83.4 117.7h1.0M71.6 65.9h1.0M71.8 125.0h1.0M106.1 130.0h1.0M70.5 126.2h1.0M103.2 117.7h1.0M68.9 122.8h1.0M85.0 129.6h1.0M128.7 79.8h1.0M73.9 75.6h1.0M102.3 123.2h1.0M67.6 112.7h1.0M66.4 103.0h1.0M134.9 92.2h1.0M98.8 116.8h1.0M108.4 132.7h1.0M71.1 123.5h1.0M87.0 122.1h1.0M71.3 112.1h1.0M95.6 117.9h1.0M102.2 120.1h1.0M108.8 128.7h1.0M105.5 118.1h1.0M65.8 96.0h1.0M95.3 129.3h1.0M125.3 74.5h1.0M96.6 134.3h1.0M102.4 128.8h1.0M65.5 116.0h1.0M85.9 111.9h1.0M101.8 147.5h1.0M64.7 98.0h1.0M108.3 135.4h1.0M104.2 130.0h1.0M72.2 126.0h1.0M100.7 122.3h1.0M69.0 81.7h1.0M63.4 102.6h1.0M65.0 104.2h1.0M78.5 72.7h1.0M81.7 72.3h1.0M93.9 132.0h1.0M72.5 72.2h1.0M75.8 126.0h1.0M80.1 136.6h1.0M75.2 116.8h1.0M92.2 131.2h1.0M77.6 119.2h1.0M73.5 111.2h1.0M84.2 124.5h1.0M67.4 79.1h1.0M79.6 136.1h1.0M105.2 117.9h1.0M77.2 121.6h1.0M68.2 78.0h1.0M80.9 67.5h1.0M81.8 70.9h1.0M99.8 130.4h1.0M96.7 130.6h1.0M82.0 120.4h1.0M94.0 70.4h1.0M64.1 114.3h1.0M76.3 66.9h1.0M70.1 69.1h1.0M76.5 70.5h1.0M74.4 73.0h1.0M65.9 121.8h1.0M68.9 132.0h1.0M73.0 69.3h1.0M101.2 69.7h1.0M132.7 88.9h1.0M61.0 138.5h1.0M77.7 120.1h1.0M61.6 103.6h1.0M105.5 129.0h1.0M70.3 111.5h1.0M79.3 132.7h1.0M81.2 124.7h1.0M100.2 121.8h1.0M70.3 130.0h1.0M84.4 69.5h1.0M82.3 122.4h1.0M72.4 119.2h1.0M74.4 120.5h1.0M61.3 133.3h1.0M78.1 132.8h1.0M88.5 122.3h1.0M101.2 131.7h1.0M79.3 66.7h1.0M97.6 130.9h1.0M75.8 68.9h1.0M73.5 122.6h1.0M62.1 103.4h1.0M98.0 119.6h1.0M69.8 112.5h1.0M83.1 131.0h1.0M87.6 126.9h1.0M73.3 67.8h1.0M70.5 130.2h1.0M71.1 119.0h1.0M100.2 124.9h1.0M102.6 143.6h1.0M75.2 121.6h1.0M124.8 79.5h1.0M62.6 121.9h1.0M79.3 70.0h1.0M92.1 134.8h1.0M90.9 121.3h1.0M67.1 110.8h1.0M77.3 116.1h1.0M96.5 132.7h1.0M59.9 97.9h1.0M83.0 126.2h1.0M70.2 91.8h1.0M139.9 109.7h1.0M73.2 78.1h1.0M77.9 69.1h1.0M75.0 125.4h1.0M84.5 124.3h1.0M99.2 68.7h1.0M79.8 116.0h1.0M148.2 104.3h1.0M70.1 120.4h1.0M88.7 143.0h1.0M65.3 120.2h1.0M104.1 73.9h1.0M86.9 132.7h1.0M102.2 124.5h1.0M72.7 111.9h1.0M73.1 133.1h1.0M110.0 148.2h1.0M73.2 115.6h1.0M72.2 124.1h1.0M60.4 147.7h1.0M70.5 84.5h1.0M128.7 76.0h1.0M90.8 125.3h1.0M88.2 135.5h1.0M100.5 132.1h1.0M90.9 134.1h1.0M112.3 69.9h1.0M109.7 133.7h1.0M70.8 118.6h1.0M69.1 125.9h1.0M97.9 133.4h1.0M78.0 68.5h1.0M93.3 134.5h1.0M91.1 128.2h1.0M87.7 130.1h1.0M89.1 65.2h1.0M121.9 78.7h1.0M106.3 124.6h1.0M106.2 127.9h1.0M73.3 114.0h1.0M82.2 117.8h1.0M76.6 74.6h1.0M91.1 128.2h1.0M72.2 71.2h1.0M79.8 73.2h1.0M150.8 52.6h1.0M87.3 130.6h1.0M92.5 112.5h1.0M68.8 119.2h1.0M63.4 114.5h1.0M103.6 121.2h1.0M78.3 74.8h1.0M87.9 121.6h1.0M93.0 122.3h1.0M92.0 122.7h1.0M83.9 131.6h1.0M107.1 75.0h1.0M108.5 125.0h1.0M99.2 127.9h1.0M86.5 125.1h1.0M72.3 50.6h1.0M106.2 140.8h1.0M70.8 124.9h1.0M70.6 122.7h1.0M85.0 122.3h1.0M70.8 116.4h1.0M74.1 114.3h1.0M67.2 85.5h1.0M97.1 72.0h1.0M71.1 70.8h1.0M98.4 142.5h1.0M102.1 127.9h1.0M103.8 141.1h1.0M88.0 131.4h1.0M101.4 72.3h1.0M76.1 129.4h1.0M84.0 71.1h1.0M96.3 72.1h1.0M70.5 89.1h1.0M134.7 101.5h1.0M104.4 69.8h1.0M77.2 112.9h1.0M88.9 65.8h1.0M105.8 132.3h1.0M76.8 120.3h1.0M86.8 70.9h1.0M104.2 125.9h1.0M66.3 92.4h1.0M89.3 134.1h1.0M71.3 73.3h1.0M99.5 64.5h1.0M100.9 122.1h1.0M84.4 131.7h1.0M72.8 84.3h1.0M107.8 74.2h1.0M53.9 116.2h1.0M110.8 127.8h1.0M78.1 70.7h1.0M79.9 124.6h1.0M101.7 120.3h1.0M161.5 90.7h1.0M99.5 129.7h1.0M112.1 74.0h1.0M93.1 52.7h1.0M75.0 120.2h1.0M66.4 109.1h1.0M119.3 76.2h1.0M92.8 131.9h1.0M81.1 70.6h1.0M63.3 133.8h1.0M92.2 70.0h1.0M104.3 125.3h1.0M99.6 127.2h1.0M78.9 71.6h1.0M87.2 126.5h1.0M70.1 64.1h1.0M92.6 132.0h1.0M99.1 137.0h1.0M78.3 116.4h1.0M104.3 138.3h1.0M88.8 127.5h1.0M99.1 69.6h1.0M59.8 101.3h1.0M84.1 129.1h1.0M130.8 79.4h1.0M90.4 127.5h1.0M112.1 130.8h1.0M63.8 98.3h1.0M84.3 123.6h1.0M132.1 79.9h1.0M92.7 139.8h1.0M112.4 138.2h1.0M88.2 123.2h1.0M102.7 118.8h1.0M60.2 126.0h1.0M67.5 131.1h1.0M91.6 112.9h1.0M72.2 112.9h1.0M104.5 121.4h1.0M85.5 125.4h1.0M91.4 120.7h1.0M78.6 115.2h1.0M64.8 107.6h1.0M79.6 124.1h1.0M92.5 68.0h1.0M72.6 73.2h1.0M89.2 131.3h1.0M72.7 90.1h1.0M96.6 129.2h1.0M91.0 122.6h1.0M71.8 73.6h1.0M98.3 133.7h1.0M101.3 73.8h1.0M140.8 90.7h1.0M102.4 72.1h1.0M85.0 121.0h1.0M70.9 68.9h1.0M72.4 114.8h1.0M78.2 127.4h1.0M77.7 74.6h1.0M92.9 69.0h1.0M73.7 122.4h1.0M97.9 136.1h1.0M66.0 79.0h1.0M65.0 125.7h1.0M110.0 128.4h1.0M91.7 125.3h1.0M88.3 69.7h1.0M76.6 118.9h1.0M135.0 88.9h1.0M139.1 90.7h1.0M66.0 95.9h1.0M64.7 105.0h1.0M86.1 70.8h1.0M96.5 121.8h1.0M69.7 125.6h1.0M80.2 131.7h1.0M111.6 130.0h1.0M68.8 106.8h1.0M93.9 134.1h1.0M85.5 69.9h1.0M98.9 130.7h1.0M75.4 119.4h1.0M92.7 70.9h1.0M70.5 86.5h1.0M91.1 138.8h1.0M74.0 119.7h1.0M95.0 70.6h1.0M95.0 130.9h1.0M105.1 123.2h1.0M75.1 111.7h1.0M121.1 76.4h1.0M71.5 79.3h1.0M64.1 79.3h1.0M89.6 113.9h1.0M84.2 126.8h1.0M65.9 121.3h1.0M78.8 118.9h1.0M75.0 72.2h1.0M68.1 84.6h1.0M64.8 94.7h1.0M68.5 128.7h1.0M90.8 118.3h1.0M88.2 132.0h1.0M92.6 69.4h1.0M59.1 90.9h1.0M96.4 133.6h1.0M72.3 70.5h1.0M72.9 115.4h1.0M88.5 129.3h1.0M78.3 70.4h1.0M100.0 128.0h1.0M71.0 124.0h1.0M60.6 95.2h1.0M74.9 125.8h1.0M72.2 121.2h1.0M71.8 127.3h1.0M73.9 60.3h1.0M67.2 97.2h1.0M87.4 114.7h1.0M72.9 74.1h1.0M136.8 110.1h1.0M75.2 70.2h1.0M78.7 131.5h1.0M134.5 104.2h1.0M77.5 75.7h1.0M79.9 66.7h1.0M83.7 127.3h1.0M73.6 112.9h1.0M87.8 123.6h1.0M69.6 118.9h1.0M104.3 129.8h1.0M74.6 71.4h1.0M71.6 127.6h1.0M85.1 116.7h1.0M81.5 138.4h1.0M83.9 137.4h1.0M84.2 131.7h1.0M74.5 126.2h1.0M99.2 123.0h1.0M137.6 75.0h1.0M79.8 124.0h1.0M108.1 124.3h1.0M72.1 80.9h1.0M88.4 113.6h1.0M88.7 125.7h1.0M64.4 91.0h1.0M65.1 123.6h1.0M136.2 107.5h1.0M72.1 63.6h1.0M84.9 67.3h1.0M106.1 119.7h1.0M64.3 132.4h1.0M72.4 70.3h1.0M86.6 121.1h1.0M88.0 131.6h1.0M99.3 131.2h1.0M90.3 125.5h1.0M88.2 67.6h1.0M105.8 122.0h1.0M78.9 70.6h1.0M92.5 127.9h1.0M99.3 72.8h1.0M98.7 67.9h1.0M102.8 129.1h1.0M75.1 133.3h1.0M93.2 70.8h1.0M106.1 72.5h1.0M85.2 123.9h1.0M106.3 123.4h1.0M64.0 86.6h1.0M98.5 72.5h1.0M70.2 124.8h1.0M84.7 124.5h1.0M60.4 101.4h1.0M91.2 122.4h1.0M90.9 122.0h1.0M86.3 121.6h1.0M72.8 119.9h1.0M74.8 130.3h1.0M76.9 68.5h1.0M82.7 70.6h1.0M92.9 117.3h1.0M108.7 134.8h1.0M94.5 133.4h1.0M71.0 86.4h1.0M68.3 116.6h1.0M85.8 136.0h1.0M74.1 116.9h1.0M74.8 111.8h1.0M87.1 119.3h1.0M70.1 112.4h1.0M109.1 144.0h1.0M69.1 110.3h1.0M71.4 113.3h1.0M80.1 116.0h1.0M71.9 116.6h1.0M130.8 77.2h1.0M80.7 112.5h1.0M92.3 121.0h1.0M104.9 134.6h1.0M96.4 122.9h1.0M135.9 83.1h1.0M108.2 124.2h1.0M80.1 70.9h1.0M70.0 108.8h1.0M86.9 130.1h1.0M89.5 135.9h1.0M91.5 118.8h1.0M67.1 122.2h1.0M65.2 113.2h1.0M90.6 137.0h1.0M89.6 127.1h1.0M62.3 101.1h1.0M70.6 72.9h1.0M90.3 125.0h1.0M61.9 115.8h1.0M94.0 130.1h1.0M71.8 79.5h1.0M84.0 71.3h1.0M77.7 127.3h1.0M67.9 114.8h1.0M70.5 121.3h1.0M75.6 122.2h1.0M92.6 127.3h1.0M95.3 119.7h1.0M97.9 72.1h1.0M86.2 139.8h1.0M70.9 74.7h1.0M60.4 126.3h1.0M107.1 121.9h1.0M104.8 69.9h1.0M62.6 99.6h1.0M101.6 72.4h1.0M69.1 130.7h1.0M136.1 100.4h1.0M88.7 117.8h1.0M82.8 122.6h1.0M97.5 131.4h1.0M96.9 129.6h1.0M95.6 116.2h1.0M97.8 135.0h1.0M100.1 128.6h1.0M99.9 129.6h1.0M92.9 135.4h1.0M84.0 114.2h1.0M83.1 136.0h1.0M81.7 132.1h1.0M66.1 101.9h1.0M75.5 78.9h1.0M98.6 129.4h1.0M64.2 90.9h1.0M96.3 107.5h1.0M87.6 126.5h1.0M84.7 122.9h1.0M64.4 132.8h1.0M108.8 133.8h1.0M67.3 114.5h1.0M72.0 74.4h1.0M88.1 129.6h1.0M135.2 107.4h1.0M65.2 112.6h1.0M76.8 73.9h1.0M139.5 81.9h1.0M105.0 138.2h1.0M75.8 71.0h1.0M82.0 132.3h1.0M81.6 121.9h1.0M77.5 120.0h1.0M93.4 116.0h1.0M137.6 116.5h1.0M89.9 124.3h1.0M90.9 127.5h1.0M64.5 104.7h1.0M65.5 120.7h1.0M92.6 122.7h1.0M93.0 131.5h1.0M71.0 75.7h1.0M100.5 137.4h1.0M84.9 66.3h1.0M98.4 125.7h1.0M140.4 102.2h1.0M89.7 132.2h1.0M102.2 119.0h1.0M72.7 122.3h1.0M104.9 141.6h1.0M91.3 130.7h1.0M98.9 130.8h1.0M99.2 67.7h1.0M84.1 133.1h1.0M81.3 117.3h1.0M69.9 109.9h1.0M103.0 127.0h1.0M99.7 130.5h1.0M65.4 123.9h1.0M95.0 114.8h1.0M99.3 125.5h1.0M75.9 117.2h1.0M73.0 126.2h1.0M74.5 79.2h1.0M105.3 70.5h1.0M64.8 142.0h1.0M62.7 90.7h1.0M102.0 72.7h1.0M93.7 129.4h1.0M65.8 103.2h1.0M76.3 113.1h1.0M86.8 130.4h1.0M70.6 79.1h1.0M62.8 116.3h1.0M65.4 112.5h1.0M68.3 92.4h1.0M80.6 117.3h1.0M73.2 124.3h1.0M98.4 111.2h1.0M76.1 130.6h1.0M72.9 76.5h1.0M92.0 122.9h1.0M106.5 126.5h1.0M100.7 121.2h1.0M88.0 70.9h1.0M86.6 67.1h1.0M72.0 66.3h1.0M73.8 128.3h1.0M102.6 71.3h1.0M96.3 131.4h1.0M76.0 127.1h1.0M73.5 115.4h1.0M70.9 70.8h1.0M104.8 118.5h1.0M88.9 120.6h1.0M89.2 124.2h1.0M84.6 131.1h1.0M85.0 124.5h1.0M62.1 122.6h1.0M96.9 71.2h1.0M98.5 72.7h1.0M59.3 92.2h1.0M96.2 110.9h1.0M62.8 116.2h1.0M83.1 121.8h1.0M86.6 139.0h1.0M97.4 125.6h1.0M71.5 116.7h1.0M93.5 131.8h1.0M93.0 133.8h1.0M83.1 69.2h1.0M66.2 112.5h1.0M94.4 116.6h1.0M79.3 141.7h1.0M87.6 136.2h1.0M85.6 119.1h1.0M76.1 124.4h1.0M63.9 104.1h1.0M78.6 128.8h1.0M100.3 110.8h1.0M128.6 74.2h1.0M87.8 116.8h1.0M95.8 125.3h1.0M67.4 117.5h1.0M88.4 64.7h1.0M137.0 87.6h1.0M95.1 143.3h1.0M137.1 78.7h1.0M82.3 125.8h1.0M89.0 117.8h1.0M96.8 125.7h1.0M85.0 132.8h1.0M75.8 115.0h1.0M96.0 127.9h1.0M79.4 128.5h1.0M91.6 138.3h1.0M98.8 134.9h1.0M85.6 138.8h1.0M65.7 125.6h1.0M64.0 106.2h1.0M101.9 114.1h1.0M81.2 123.2h1.0M107.8 130.2h1.0M97.0 112.0h1.0M92.2 128.5h1.0M70.0 129.2h1.0M64.1 103.2h1.0M78.2 133.2h1.0M98.7 114.6h1.0M76.0 127.7h1.0M77.1 113.4h1.0M77.9 120.0h1.0M84.0 126.7h1.0M92.2 116.4h1.0M74.9 85.4h1.0M64.7 130.8h1.0M138.1 89.6h1.0M88.4 119.0h1.0M106.3 129.8h1.0M66.1 123.1h1.0M95.6 69.9h1.0M88.3 135.4h1.0M85.1 68.8h1.0M66.6 96.2h1.0M86.1 69.1h1.0M107.3 142.0h1.0M92.5 70.7h1.0M130.3 79.1h1.0M91.6 122.9h1.0M104.3 75.7h1.0M67.2 112.0h1.0M79.3 116.5h1.0M105.1 122.5h1.0M88.8 132.2h1.0M92.1 131.9h1.0M76.0 125.3h1.0M90.1 129.2h1.0M75.3 119.4h1.0M77.4 123.8h1.0M89.3 128.7h1.0M106.2 134.1h1.0M65.0 135.7h1.0M84.7 125.8h1.0M67.0 80.9h1.0M92.9 130.1h1.0M72.0 113.7h1.0M88.3 124.1h1.0M99.3 129.7h1.0M104.7 125.5h1.0M76.4 126.6h1.0M61.8 137.3h1.0M87.1 133.1h1.0M92.2 65.0h1.0M63.7 116.9h1.0M68.1 121.4h1.0M88.2 124.3h1.0M71.0 128.4h1.0M67.6 124.0h1.0M84.9 122.3h1.0M78.3 131.5h1.0M86.2 120.7h1.0M84.8 125.9h1.0M82.5 71.2h1.0M137.8 97.1h1.0M71.2 112.3h1.0M89.4 69.2h1.0M99.4 128.8h1.0M76.8 129.7h1.0M99.9 126.0h1.0M105.2 132.5h1.0M102.5 124.6h1.0M64.7 74.5h1.0M140.4 119.7h1.0M97.5 124.5h1.0M90.5 132.1h1.0M80.6 71.6h1.0M103.8 146.9h1.0M83.8 119.0h1.0M67.2 115.1h1.0M81.4 130.1h1.0M83.7 123.9h1.0M104.5 132.0h1.0M85.4 115.5h1.0M76.6 74.0h1.0M102.8 132.3h1.0M100.5 132.2h1.0M78.2 120.2h1.0M86.6 117.3h1.0M73.6 64.6h1.0M80.3 125.5h1.0M76.0 128.1h1.0M107.2 126.0h1.0M86.4 120.5h1.0M135.4 111.6h1.0M75.1 123.4h1.0M69.2 116.4h1.0M79.7 124.7h1.0M85.2 120.5h1.0M81.3 115.3h1.0M88.5 118.0h1.0M82.0 130.9h1.0M126.3 75.9h1.0M90.8 124.8h1.0M108.4 70.9h1.0M101.4 72.4h1.0M107.7 76.9h1.0M89.7 126.3h1.0M84.5 120.9h1.0M104.4 136.9h1.0M74.3 125.9h1.0M85.5 125.7h1.0M103.2 133.1h1.0M93.1 118.1h1.0M84.1 113.6h1.0M87.3 122.3h1.0M68.6 110.8h1.0M72.2 132.3h1.0M103.8 124.7h1.0M136.0 67.9h1.0M62.7 99.3h1.0M71.9 109.4h1.0M85.3 121.4h1.0M72.5 79.6h1.0M71.2 117.1h1.0M99.9 142.2h1.0M92.5 71.0h1.0M131.5 126.1h1.0M61.0 128.7h1.0M85.3 115.9h1.0M91.1 114.7h1.0M70.4 128.7h1.0M76.8 119.5h1.0M67.8 105.5h1.0M72.9 117.4h1.0M80.5 68.7h1.0M65.2 115.6h1.0M82.3 123.2h1.0M68.4 117.0h1.0M65.1 123.4h1.0M81.4 119.9h1.0M91.4 127.3h1.0M68.6 73.3h1.0M101.8 131.9h1.0M74.4 123.8h1.0M135.0 104.7h1.0M93.8 69.7h1.0M84.0 127.1h1.0M69.9 118.5h1.0M84.1 127.8h1.0M74.6 130.6h1.0M85.8 127.8h1.0M107.0 132.6h1.0M72.4 130.4h1.0M65.9 122.3h1.0M75.4 123.8h1.0M73.8 114.1h1.0M72.0 109.6h1.0M96.3 133.6h1.0M81.7 143.8h1.0M102.6 69.8h1.0M137.5 87.2h1.0M66.3 103.2h1.0M75.5 118.7h1.0M89.9 125.8h1.0M104.9 139.9h1.0M74.8 123.7h1.0M101.1 127.1h1.0M84.6 125.4h1.0M98.1 133.7h1.0M79.3 129.7h1.0M63.8 89.0h1.0M100.2 123.5h1.0M79.2 74.0h1.0M97.8 124.4h1.0M72.8 120.8h1.0M83.0 68.9h1.0M92.5 122.9h1.0M73.8 80.0h1.0M136.5 102.3h1.0M75.9 118.8h1.0M127.2 72.7h1.0M90.5 119.7h1.0M81.8 133.5h1.0M114.9 78.0h1.0M70.8 121.8h1.0M102.6 75.2h1.0M69.1 75.0h1.0M74.2 113.3h1.0M97.8 134.3h1.0M90.6 138.9h1.0M78.1 119.5h1.0M62.4 124.1h1.0M70.4 79.7h1.0M65.9 112.7h1.0M87.1 70.4h1.0M95.7 122.3h1.0M166.8 119.5h1.0M64.1 113.3h1.0M107.9 125.1h1.0M131.9 75.0h1.0M88.0 121.3h1.0M66.7 90.4h1.0M89.9 117.2h1.0M73.4 76.7h1.0M75.7 127.7h1.0M104.2 139.7h1.0M76.9 75.8h1.0M68.2 109.0h1.0M70.3 75.6h1.0M81.5 70.5h1.0M73.4 129.3h1.0M62.5 94.7h1.0M62.5 104.6h1.0M76.5 69.7h1.0M82.6 69.5h1.0M85.0 126.7h1.0M134.4 102.4h1.0M139.4 110.0h1.0M104.9 119.0h1.0M89.7 127.6h1.0M103.6 68.8h1.0M91.8 114.9h1.0M97.6 104.6h1.0M101.9 137.7h1.0M90.9 126.0h1.0M86.3 130.0h1.0M90.1 117.0h1.0M94.2 118.8h1.0M74.4 75.2h1.0M130.7 74.5h1.0M67.8 134.1h1.0M78.5 127.3h1.0M139.9 121.3h1.0M79.2 117.0h1.0M74.0 73.5h1.0M71.5 81.1h1.0M83.7 121.0h1.0M103.2 133.2h1.0M90.6 135.6h1.0M76.1 124.7h1.0M72.2 114.8h1.0M100.0 125.0h1.0M101.4 130.9h1.0M77.9 67.4h1.0M66.1 77.1h1.0M70.2 117.3h1.0M104.6 132.1h1.0M94.4 67.0h1.0M83.1 122.0h1.0M87.9 123.3h1.0M102.3 139.5h1.0M62.2 104.8h1.0M89.2 135.6h1.0M101.4 120.3h1.0M87.6 128.7h1.0M86.5 112.1h1.0M89.4 120.0h1.0M88.7 66.1h1.0M77.2 124.2h1.0M95.2 69.6h1.0M70.6 71.7h1.0M106.4 72.9h1.0M88.5 119.0h1.0M103.8 118.5h1.0M84.4 132.4h1.0M80.0 70.2h1.0M75.0 67.5h1.0M90.1 65.8h1.0M106.1 127.3h1.0M88.6 115.7h1.0M66.7 101.2h1.0M95.1 122.8h1.0M88.1 127.3h1.0M80.6 123.8h1.0M62.6 127.3h1.0M71.6 119.1h1.0M87.9 127.5h1.0M91.0 130.2h1.0M88.4 135.6h1.0M69.5 124.6h1.0M103.4 72.2h1.0M83.6 132.4h1.0M72.1 69.6h1.0M103.3 71.2h1.0M92.1 131.5h1.0M116.7 51.8h1.0M83.7 135.8h1.0M93.0 123.5h1.0M97.1 70.0h1.0M72.1 116.3h1.0M86.2 115.7h1.0M76.6 70.8h1.0M81.9 133.9h1.0M68.0 127.7h1.0M67.3 110.0h1.0M80.6 121.5h1.0M100.5 118.3h1.0M125.4 77.6h1.0M65.2 115.4h1.0M67.9 70.5h1.0" stroke="#1c1c1c" stroke-width="1.0" fill="none"/>
<path d="M76.0 77.0C76.8 75.2 78.0 73.0 80.0 72.0C82.0 71.0 85.2 71.0 88.0 71.0C90.8 71.0 94.5 71.2 97.0 72.0C99.5 72.8 102.0 74.2 103.0 76.0C104.0 77.8 103.7 80.8 103.0 83.0C102.3 85.2 101.2 87.8 99.0 89.0C96.8 90.2 93.3 90.2 90.0 90.0C86.7 89.8 81.5 89.2 79.0 88.0C76.5 86.8 75.5 84.8 75.0 83.0C74.5 81.2 75.2 78.8 76.0 77.0Z" fill="none" stroke="#444" stroke-width="0.55"/>
<path d="M87.0 85.0C87.7 84.1 90.2 83.2 92.0 83.0C93.8 82.8 96.8 82.8 98.0 83.5C99.2 84.2 99.8 86.1 99.0 87.0C98.2 87.9 94.8 88.8 93.0 89.0C91.2 89.2 89.0 89.2 88.0 88.5C87.0 87.8 86.3 85.9 87.0 85.0Z" fill="none" stroke="#444" stroke-width="0.55"/>
<ellipse cx="80.5" cy="100.2" rx="2.2" ry="3.6" fill="none" stroke="#444" stroke-width="0.6"/>
<ellipse cx="80.5" cy="100.2" rx="7.5" ry="10" fill="none" stroke="#444" stroke-width="0.6"/>
<ellipse cx="80.5" cy="100.2" rx="13" ry="12" fill="none" stroke="#444" stroke-width="0.6"/>
<path d="M117.9 100.4C118.2 100.3 118.7 100.3 119.1 100.3C119.5 100.4 119.9 100.4 120.1 100.6C120.4 100.7 120.5 101.1 120.5 101.4C120.6 101.8 120.6 102.2 120.6 102.6C120.6 103.0 120.5 103.4 120.4 103.8C120.2 104.2 120.0 104.6 119.8 105.0C119.6 105.3 119.3 105.9 119.1 105.9C118.8 105.9 118.6 105.4 118.3 105.0C118.1 104.7 117.7 104.2 117.5 103.8C117.3 103.4 117.1 103.1 117.0 102.7C116.9 102.4 116.9 102.0 116.9 101.7C116.9 101.4 117.1 101.1 117.2 100.9C117.4 100.7 117.6 100.5 117.9 100.4Z" fill="none" stroke="#262626" stroke-width="0.65"/>
<path d="M116.8 98.5C117.4 98.3 118.3 98.3 119.0 98.4C119.7 98.4 120.4 98.5 120.9 98.8C121.3 99.1 121.5 99.7 121.6 100.3C121.7 100.9 121.8 101.8 121.7 102.5C121.7 103.2 121.6 103.9 121.3 104.6C121.1 105.3 120.7 106.1 120.3 106.7C119.9 107.3 119.4 108.4 119.0 108.4C118.5 108.4 118.1 107.4 117.6 106.8C117.2 106.2 116.6 105.3 116.2 104.6C115.8 103.9 115.5 103.3 115.3 102.7C115.1 102.0 115.0 101.4 115.1 100.9C115.1 100.3 115.4 99.7 115.7 99.3C115.9 98.9 116.3 98.6 116.8 98.5Z" fill="none" stroke="#262626" stroke-width="0.65"/>
<path d="M115.6 96.3C116.5 96.1 117.9 96.1 118.9 96.2C119.9 96.3 121.1 96.3 121.7 96.8C122.4 97.3 122.6 98.2 122.8 99.1C123.0 100.0 123.1 101.2 123.0 102.3C122.9 103.4 122.7 104.5 122.4 105.6C122.0 106.6 121.5 107.7 120.9 108.7C120.3 109.6 119.6 111.2 118.9 111.2C118.2 111.2 117.5 109.7 116.9 108.8C116.2 107.8 115.3 106.6 114.7 105.6C114.1 104.5 113.6 103.5 113.3 102.6C113.1 101.6 112.9 100.7 113.0 99.9C113.1 99.1 113.4 98.2 113.9 97.6C114.3 97.0 114.8 96.6 115.6 96.3Z" fill="none" stroke="#262626" stroke-width="0.65"/>
<path d="M114.4 94.2C115.6 93.8 117.4 93.9 118.8 94.0C120.1 94.1 121.7 94.1 122.5 94.8C123.4 95.4 123.7 96.6 124.0 97.8C124.3 99.1 124.4 100.7 124.3 102.2C124.2 103.6 123.9 105.1 123.4 106.5C123.0 107.9 122.2 109.4 121.5 110.6C120.7 111.9 119.7 114.0 118.8 114.0C117.9 114.1 117.0 112.1 116.1 110.8C115.1 109.5 114.0 107.9 113.2 106.5C112.4 105.1 111.8 103.8 111.4 102.5C111.0 101.3 110.8 100.0 111.0 98.9C111.1 97.8 111.5 96.6 112.1 95.9C112.7 95.1 113.3 94.5 114.4 94.2Z" fill="none" stroke="#262626" stroke-width="0.65"/>
<path d="M113.3 92.0C114.6 91.6 117.0 91.6 118.7 91.8C120.3 91.9 122.3 92.0 123.4 92.8C124.5 93.6 124.8 95.1 125.2 96.6C125.5 98.1 125.7 100.2 125.5 102.0C125.4 103.8 125.1 105.6 124.5 107.4C123.9 109.2 123.0 111.0 122.0 112.6C121.1 114.1 119.8 116.8 118.7 116.8C117.5 116.9 116.4 114.4 115.3 112.8C114.1 111.2 112.7 109.1 111.7 107.4C110.7 105.7 109.9 104.0 109.4 102.4C109.0 100.9 108.7 99.3 108.9 97.9C109.0 96.6 109.6 95.1 110.3 94.1C111.1 93.1 111.9 92.4 113.3 92.0Z" fill="none" stroke="#262626" stroke-width="0.65"/>
<path d="M112.1 89.8C113.7 89.4 116.5 89.4 118.6 89.6C120.6 89.7 122.9 89.8 124.2 90.8C125.5 91.7 126.0 93.5 126.4 95.3C126.8 97.2 126.9 99.7 126.8 101.8C126.7 104.0 126.3 106.2 125.6 108.3C124.9 110.4 123.8 112.6 122.6 114.5C121.4 116.4 119.9 119.6 118.6 119.6C117.2 119.7 115.9 116.7 114.5 114.8C113.1 112.9 111.4 110.4 110.2 108.3C109.0 106.2 108.0 104.3 107.5 102.4C106.9 100.5 106.7 98.6 106.8 97.0C107.0 95.3 107.7 93.6 108.6 92.4C109.4 91.2 110.4 90.3 112.1 89.8Z" fill="none" stroke="#262626" stroke-width="0.65"/>
<path d="M110.9 87.7C112.8 87.1 116.1 87.2 118.4 87.4C120.8 87.5 123.5 87.6 125.1 88.8C126.6 89.9 127.1 92.0 127.6 94.1C128.1 96.3 128.2 99.1 128.1 101.7C127.9 104.2 127.5 106.8 126.6 109.2C125.8 111.7 124.5 114.3 123.2 116.5C121.8 118.7 120.0 122.4 118.4 122.5C116.9 122.5 115.3 119.0 113.7 116.8C112.1 114.6 110.0 111.6 108.7 109.2C107.3 106.8 106.2 104.5 105.5 102.3C104.9 100.1 104.6 97.9 104.8 96.0C105.0 94.1 105.8 92.0 106.8 90.6C107.8 89.3 108.9 88.2 110.9 87.7Z" fill="none" stroke="#262626" stroke-width="0.65"/>
<path d="M109.7 85.5C111.9 84.9 115.6 85.0 118.3 85.2C121.0 85.4 124.2 85.5 125.9 86.7C127.6 88.0 128.2 90.4 128.8 92.9C129.4 95.3 129.5 98.6 129.4 101.5C129.2 104.4 128.6 107.3 127.7 110.1C126.8 113.0 125.3 115.9 123.7 118.4C122.2 120.9 120.1 125.2 118.3 125.3C116.5 125.3 114.8 121.3 112.9 118.8C111.1 116.3 108.7 112.9 107.2 110.1C105.6 107.4 104.3 104.7 103.6 102.2C102.8 99.7 102.5 97.2 102.7 95.0C103.0 92.8 103.9 90.5 105.0 88.9C106.2 87.3 107.5 86.1 109.7 85.5Z" fill="none" stroke="#262626" stroke-width="0.65"/>
<path d="M108.5 83.4C111.0 82.7 115.2 82.7 118.2 83.0C121.3 83.2 124.8 83.3 126.7 84.7C128.7 86.2 129.3 88.9 130.0 91.6C130.6 94.4 130.8 98.1 130.6 101.3C130.4 104.6 129.8 107.9 128.8 111.1C127.7 114.2 126.1 117.5 124.3 120.4C122.5 123.2 120.3 128.0 118.2 128.1C116.2 128.1 114.2 123.6 112.2 120.8C110.1 117.9 107.4 114.2 105.7 111.1C103.9 108.0 102.5 105.0 101.6 102.2C100.8 99.3 100.4 96.5 100.7 94.1C100.9 91.6 101.9 88.9 103.2 87.2C104.6 85.4 106.0 84.1 108.5 83.4Z" fill="none" stroke="#262626" stroke-width="0.65"/>
<path d="M107.3 81.2C110.1 80.4 114.7 80.5 118.1 80.8C121.5 81.0 125.4 81.1 127.6 82.7C129.7 84.3 130.4 87.3 131.2 90.4C131.9 93.5 132.1 97.6 131.9 101.2C131.7 104.8 131.0 108.5 129.8 112.0C128.6 115.5 126.8 119.2 124.9 122.3C122.9 125.5 120.4 130.8 118.1 130.9C115.9 131.0 113.7 125.9 111.4 122.8C109.0 119.6 106.1 115.4 104.2 112.0C102.2 108.5 100.6 105.2 99.7 102.1C98.7 98.9 98.3 95.9 98.6 93.1C98.9 90.3 100.0 87.4 101.5 85.4C102.9 83.5 104.5 82.0 107.3 81.2Z" fill="none" stroke="#262626" stroke-width="0.65"/>
<path d="M106.0 78.8C109.1 77.9 114.2 78.0 118.0 78.3C121.8 78.6 126.1 78.7 128.5 80.5C130.9 82.3 131.7 85.6 132.5 89.0C133.3 92.4 133.6 97.0 133.3 101.0C133.1 105.0 132.3 109.1 131.0 113.0C129.7 116.9 127.7 121.0 125.5 124.5C123.3 128.0 120.5 133.9 118.0 134.0C115.5 134.1 113.1 128.5 110.5 125.0C107.9 121.5 104.7 116.8 102.5 113.0C100.3 109.2 98.5 105.5 97.5 102.0C96.5 98.5 96.0 95.1 96.3 92.0C96.6 88.9 97.9 85.7 99.5 83.5C101.1 81.3 102.9 79.7 106.0 78.8Z" fill="none" stroke="#262626" stroke-width="0.65"/>
<path d="M118.9 102.8h.8M114.2 107.5h.8M118.8 101.8h.8M114.3 104.3h.8M118.7 108.6h.8M117.7 96.0h.8M119.3 97.6h.8M120.1 96.7h.8M118.5 100.9h.8M118.8 99.5h.8M116.5 101.7h.8M117.2 102.8h.8M118.1 91.1h.8M118.7 108.8h.8M119.8 104.9h.8M120.2 99.7h.8M115.0 105.9h.8M122.0 104.8h.8M120.1 103.9h.8M118.8 103.3h.8M118.9 103.6h.8M116.2 99.0h.8M120.6 100.4h.8M111.9 102.6h.8M112.3 111.2h.8M121.0 105.3h.8M117.0 96.6h.8M118.3 102.1h.8M116.7 102.8h.8M120.9 104.9h.8M115.9 91.6h.8M118.9 98.9h.8M120.2 109.9h.8M123.7 103.4h.8M122.1 109.9h.8M119.1 103.4h.8M121.4 101.9h.8M117.5 98.5h.8M119.0 99.1h.8M121.2 100.5h.8M123.1 107.9h.8M115.4 107.3h.8M117.8 108.6h.8M120.4 101.9h.8M120.9 99.4h.8M119.9 104.0h.8M118.5 104.0h.8M116.1 104.8h.8M115.5 105.1h.8M120.3 105.5h.8M117.4 116.6h.8M118.3 102.9h.8M116.8 109.0h.8M117.7 106.9h.8M116.3 103.7h.8M118.0 106.6h.8M118.2 98.1h.8M120.3 96.5h.8M116.3 105.9h.8M113.7 105.8h.8M117.9 97.9h.8M119.7 105.2h.8M117.4 101.4h.8M121.3 105.8h.8M118.9 98.6h.8M116.4 99.5h.8M121.0 105.0h.8M119.9 108.9h.8M118.2 100.5h.8M118.0 111.3h.8M113.3 103.7h.8M120.4 102.6h.8M125.7 107.9h.8M121.3 98.1h.8M120.5 100.6h.8M119.2 103.3h.8M117.8 105.3h.8M123.7 107.3h.8M119.7 93.3h.8M122.2 107.5h.8M118.6 100.2h.8M121.0 98.6h.8M121.4 97.3h.8M116.6 102.5h.8M115.0 102.4h.8M120.7 96.2h.8M121.8 99.8h.8M120.7 103.4h.8M117.9 100.0h.8M114.4 99.2h.8M117.0 110.2h.8M122.0 96.0h.8M121.4 103.5h.8M118.1 104.6h.8M121.4 99.8h.8M118.4 103.2h.8M116.4 103.3h.8M119.0 99.3h.8M116.8 103.9h.8M121.6 104.0h.8M116.8 106.0h.8M119.7 105.3h.8M122.5 98.3h.8M118.8 99.7h.8M116.7 111.9h.8M121.8 94.2h.8M120.4 99.9h.8M122.4 102.9h.8M118.7 103.2h.8M120.3 102.6h.8M118.6 101.8h.8M120.6 97.2h.8M119.2 101.9h.8M117.8 105.9h.8M115.6 100.8h.8M116.8 105.0h.8M117.9 102.7h.8M120.3 95.0h.8M120.5 99.0h.8M118.5 102.0h.8M121.5 105.9h.8M124.1 103.3h.8M117.9 100.2h.8M121.0 110.0h.8M120.2 99.8h.8M120.0 103.7h.8M119.3 99.0h.8M112.1 100.0h.8M122.1 103.5h.8M113.0 102.5h.8M114.0 111.8h.8M119.7 96.9h.8M121.4 98.8h.8M120.8 102.6h.8M115.9 105.6h.8M115.4 108.8h.8M119.4 97.7h.8M114.1 110.0h.8M123.3 96.6h.8M123.8 103.3h.8M118.6 102.1h.8M118.4 109.2h.8M119.6 93.9h.8M125.1 106.6h.8M116.1 100.8h.8M116.7 102.7h.8M120.3 103.6h.8M117.5 98.8h.8M121.6 102.0h.8M125.5 98.7h.8M121.4 102.7h.8M117.1 108.9h.8M119.5 98.3h.8M118.3 107.3h.8M115.8 108.9h.8M121.1 101.2h.8M123.0 110.7h.8M120.9 103.3h.8M124.4 109.5h.8M116.6 101.5h.8M118.6 100.6h.8M115.0 106.7h.8M119.4 103.0h.8M123.2 99.9h.8M119.0 103.8h.8M118.0 102.0h.8M121.4 102.5h.8M122.9 99.0h.8M119.8 95.8h.8M118.9 99.2h.8M123.0 106.0h.8M120.6 111.2h.8M123.3 105.9h.8M117.3 95.7h.8M119.1 100.8h.8M117.4 101.1h.8M114.5 109.5h.8M116.0 99.3h.8M120.8 94.8h.8M121.8 106.9h.8M118.3 97.4h.8M117.9 93.8h.8M123.1 102.8h.8M117.1 98.2h.8M120.8 109.6h.8M115.6 99.8h.8M114.2 105.7h.8M119.6 113.2h.8M118.9 100.4h.8M117.2 106.5h.8M114.6 106.0h.8M119.9 100.1h.8M116.6 107.5h.8M124.5 100.4h.8M120.7 110.8h.8M117.4 101.3h.8M115.7 101.8h.8M119.0 100.5h.8M117.1 95.0h.8M115.4 97.9h.8M121.0 100.1h.8M116.8 105.6h.8M120.8 98.9h.8M117.4 105.6h.8M120.2 98.5h.8M119.9 102.4h.8M122.4 98.4h.8M121.7 104.6h.8M116.3 107.5h.8M121.8 96.2h.8M124.9 97.0h.8M116.6 101.0h.8M121.4 105.3h.8M118.9 109.0h.8M120.4 109.2h.8M127.3 103.4h.8M111.8 100.3h.8M116.1 102.9h.8M119.5 96.6h.8M115.9 101.2h.8M118.6 90.0h.8M122.0 102.6h.8M119.2 103.9h.8M116.2 102.3h.8M122.2 107.7h.8M120.5 101.2h.8M116.8 108.9h.8M120.7 100.5h.8M112.9 98.3h.8M113.6 108.5h.8" stroke="#222" stroke-width="0.8" fill="none"/>
<path d="M52.6 48.4 L101.7 48.4 L106 77.3 L93.8 92.2 L52.6 81.7Z" fill="none" stroke="#333" stroke-width="0.9" stroke-linejoin="round"/>
<path d="M94.7 92.2 L107.8 75.9 L130.6 75.9 L141.1 86 L141.1 147.5 L96.4 147.5Z" fill="none" stroke="#333" stroke-width="0.9" stroke-linejoin="round"/>
<text x="65.3" y="44" font-size="10" textLength="63.5" lengthAdjust="spacingAndGlyphs">nMZ B cells</text>
<text x="65.3" y="58.6" font-size="11.5" textLength="33" lengthAdjust="spacingAndGlyphs">3.11 %</text>
<text x="127.1" y="131.8" font-size="11.5" textLength="54" lengthAdjust="spacingAndGlyphs">FO B cells</text>
<text x="126.8" y="146.2" font-size="11.5" textLength="33.8" lengthAdjust="spacingAndGlyphs">91.8 %</text>
<rect x="191.8" y="32.2" width="118.7" height="119.1" fill="none" stroke="#8a8a8a" stroke-width="0.8"/>
<line x1="191.8" y1="32.2" x2="191.8" y2="151.3" stroke="#333" stroke-width="0.8"/>
<line x1="191.8" y1="151.3" x2="310.5" y2="151.3" stroke="#333" stroke-width="0.8"/>
<line x1="193.8" y1="151.3" x2="193.8" y2="152.6" stroke="#555" stroke-width="0.5"/>
<line x1="197.1" y1="151.3" x2="197.1" y2="152.6" stroke="#555" stroke-width="0.5"/>
<line x1="200.4" y1="151.3" x2="200.4" y2="152.6" stroke="#555" stroke-width="0.5"/>
<line x1="203.7" y1="151.3" x2="203.7" y2="152.6" stroke="#555" stroke-width="0.5"/>
<line x1="207" y1="151.3" x2="207" y2="152.6" stroke="#555" stroke-width="0.5"/>
<line x1="210.3" y1="151.3" x2="210.3" y2="152.6" stroke="#555" stroke-width="0.5"/>
<line x1="213.6" y1="151.3" x2="213.6" y2="152.6" stroke="#555" stroke-width="0.5"/>
<line x1="216.9" y1="151.3" x2="216.9" y2="152.6" stroke="#555" stroke-width="0.5"/>
<line x1="220.2" y1="151.3" x2="220.2" y2="152.6" stroke="#555" stroke-width="0.5"/>
<line x1="223.5" y1="151.3" x2="223.5" y2="152.6" stroke="#555" stroke-width="0.5"/>
<line x1="226.8" y1="151.3" x2="226.8" y2="152.6" stroke="#555" stroke-width="0.5"/>
<line x1="230.1" y1="151.3" x2="230.1" y2="152.6" stroke="#555" stroke-width="0.5"/>
<line x1="233.4" y1="151.3" x2="233.4" y2="152.6" stroke="#555" stroke-width="0.5"/>
<line x1="236.7" y1="151.3" x2="236.7" y2="152.6" stroke="#555" stroke-width="0.5"/>
<line x1="240" y1="151.3" x2="240" y2="152.6" stroke="#555" stroke-width="0.5"/>
<line x1="243.3" y1="151.3" x2="243.3" y2="152.6" stroke="#555" stroke-width="0.5"/>
<line x1="246.6" y1="151.3" x2="246.6" y2="152.6" stroke="#555" stroke-width="0.5"/>
<line x1="249.9" y1="151.3" x2="249.9" y2="152.6" stroke="#555" stroke-width="0.5"/>
<line x1="253.2" y1="151.3" x2="253.2" y2="152.6" stroke="#555" stroke-width="0.5"/>
<line x1="256.5" y1="151.3" x2="256.5" y2="152.6" stroke="#555" stroke-width="0.5"/>
<line x1="259.8" y1="151.3" x2="259.8" y2="152.6" stroke="#555" stroke-width="0.5"/>
<line x1="263.1" y1="151.3" x2="263.1" y2="152.6" stroke="#555" stroke-width="0.5"/>
<line x1="266.4" y1="151.3" x2="266.4" y2="152.6" stroke="#555" stroke-width="0.5"/>
<line x1="269.7" y1="151.3" x2="269.7" y2="152.6" stroke="#555" stroke-width="0.5"/>
<line x1="273" y1="151.3" x2="273" y2="152.6" stroke="#555" stroke-width="0.5"/>
<line x1="276.3" y1="151.3" x2="276.3" y2="152.6" stroke="#555" stroke-width="0.5"/>
<line x1="279.6" y1="151.3" x2="279.6" y2="152.6" stroke="#555" stroke-width="0.5"/>
<line x1="282.9" y1="151.3" x2="282.9" y2="152.6" stroke="#555" stroke-width="0.5"/>
<line x1="286.2" y1="151.3" x2="286.2" y2="152.6" stroke="#555" stroke-width="0.5"/>
<line x1="289.5" y1="151.3" x2="289.5" y2="152.6" stroke="#555" stroke-width="0.5"/>
<line x1="292.8" y1="151.3" x2="292.8" y2="152.6" stroke="#555" stroke-width="0.5"/>
<line x1="296.1" y1="151.3" x2="296.1" y2="152.6" stroke="#555" stroke-width="0.5"/>
<line x1="299.4" y1="151.3" x2="299.4" y2="152.6" stroke="#555" stroke-width="0.5"/>
<line x1="302.7" y1="151.3" x2="302.7" y2="152.6" stroke="#555" stroke-width="0.5"/>
<line x1="306" y1="151.3" x2="306" y2="152.6" stroke="#555" stroke-width="0.5"/>
<line x1="189.8" y1="43.4" x2="191.8" y2="43.4" stroke="#444" stroke-width="0.6"/>
<text x="187.4" y="45.5" font-size="5.8" text-anchor="end" font-weight="normal" fill="#333">10<tspan font-size="4.1" dy="-2.6">5</tspan></text>
<line x1="189.8" y1="69.6" x2="191.8" y2="69.6" stroke="#444" stroke-width="0.6"/>
<text x="187.4" y="71.7" font-size="5.8" text-anchor="end" font-weight="normal" fill="#333">10<tspan font-size="4.1" dy="-2.6">4</tspan></text>
<line x1="189.8" y1="97.4" x2="191.8" y2="97.4" stroke="#444" stroke-width="0.6"/>
<text x="187.4" y="99.5" font-size="5.8" text-anchor="end" font-weight="normal" fill="#333">10<tspan font-size="4.1" dy="-2.6">3</tspan></text>
<line x1="189.8" y1="126.5" x2="191.8" y2="126.5" stroke="#444" stroke-width="0.6"/>
<text x="187.4" y="128.6" font-size="5.8" text-anchor="end" font-weight="normal" fill="#333">10<tspan font-size="4.1" dy="-2.6">2</tspan></text>
<line x1="189.8" y1="139" x2="191.8" y2="139" stroke="#444" stroke-width="0.6"/>
<text x="187.4" y="141.1" font-size="5.8" text-anchor="end" font-weight="normal" fill="#333">0</text>
<line x1="204.7" y1="151.3" x2="204.7" y2="153.8" stroke="#444" stroke-width="0.6"/>
<text x="204.7" y="161.5" font-size="5.8" text-anchor="middle" font-weight="normal" fill="#333">0</text>
<line x1="215.7" y1="151.3" x2="215.7" y2="153.8" stroke="#444" stroke-width="0.6"/>
<text x="215.7" y="161.5" font-size="5.8" text-anchor="middle" font-weight="normal" fill="#333">10<tspan font-size="4.1" dy="-2.6">2</tspan></text>
<line x1="243.5" y1="151.3" x2="243.5" y2="153.8" stroke="#444" stroke-width="0.6"/>
<text x="243.5" y="161.5" font-size="5.8" text-anchor="middle" font-weight="normal" fill="#333">10<tspan font-size="4.1" dy="-2.6">3</tspan></text>
<line x1="271.7" y1="151.3" x2="271.7" y2="153.8" stroke="#444" stroke-width="0.6"/>
<text x="271.7" y="161.5" font-size="5.8" text-anchor="middle" font-weight="normal" fill="#333">10<tspan font-size="4.1" dy="-2.6">4</tspan></text>
<line x1="298.7" y1="151.3" x2="298.7" y2="153.8" stroke="#444" stroke-width="0.6"/>
<text x="298.7" y="161.5" font-size="5.8" text-anchor="middle" font-weight="normal" fill="#333">10<tspan font-size="4.1" dy="-2.6">5</tspan></text>
<path d="M203.7 82.8h1.0M238.2 112.2h1.0M214.8 60.1h1.0M205.3 88.4h1.0M212.3 59.7h1.0M251.6 136.2h1.0M241.4 118.6h1.0M234.2 108.0h1.0M226.1 109.5h1.0M201.4 96.3h1.0M237.6 65.8h1.0M210.2 108.0h1.0M209.2 83.1h1.0M274.7 96.9h1.0M202.5 104.2h1.0M246.8 75.1h1.0M248.3 113.2h1.0M246.0 121.1h1.0M209.0 100.5h1.0M198.2 73.4h1.0M220.5 107.6h1.0M231.7 119.0h1.0M219.7 114.9h1.0M247.2 123.1h1.0M215.2 111.9h1.0M226.9 108.9h1.0M248.8 76.4h1.0M243.9 111.0h1.0M261.3 130.3h1.0M197.1 115.5h1.0M256.8 73.1h1.0M197.7 99.3h1.0M205.9 76.1h1.0M195.6 117.1h1.0M243.7 134.7h1.0M242.8 133.6h1.0M255.0 129.2h1.0M204.7 99.0h1.0M243.8 130.3h1.0M211.0 89.4h1.0M271.3 140.3h1.0M211.2 103.2h1.0M209.6 132.4h1.0M268.0 124.7h1.0M207.7 95.1h1.0M237.3 126.6h1.0M274.4 135.4h1.0M264.3 137.8h1.0M245.9 108.3h1.0M208.7 102.0h1.0M203.3 126.1h1.0M204.4 89.4h1.0M254.3 133.8h1.0M216.3 112.1h1.0M305.7 131.7h1.0M241.7 117.3h1.0M204.7 86.0h1.0M251.0 132.9h1.0M204.6 90.0h1.0M246.4 118.8h1.0M204.1 106.8h1.0M276.4 112.3h1.0M249.2 128.1h1.0M227.2 64.5h1.0M205.7 80.7h1.0M262.6 73.4h1.0M240.7 121.4h1.0M246.7 114.2h1.0M220.8 120.8h1.0M197.0 128.8h1.0M213.3 123.8h1.0M228.9 120.9h1.0M196.5 108.4h1.0M206.1 95.0h1.0M236.9 105.5h1.0M219.6 124.0h1.0M255.8 134.5h1.0M266.0 132.9h1.0M197.7 113.7h1.0M241.9 105.1h1.0M233.4 107.6h1.0M235.5 127.1h1.0M207.5 117.5h1.0M211.7 81.8h1.0M281.6 104.4h1.0M208.1 92.1h1.0M255.1 126.9h1.0M250.7 74.1h1.0M226.4 103.6h1.0M259.7 133.4h1.0M229.5 106.7h1.0M213.0 106.1h1.0M274.4 120.1h1.0M240.0 110.8h1.0M251.8 122.0h1.0M241.1 140.8h1.0M303.5 54.2h1.0M231.4 122.4h1.0M250.3 117.8h1.0M245.6 116.3h1.0M205.0 87.9h1.0M229.4 65.6h1.0M251.9 127.1h1.0M255.9 132.5h1.0M230.2 107.0h1.0M276.4 88.0h1.0M205.8 96.7h1.0M222.5 62.2h1.0M241.6 105.1h1.0M206.9 97.6h1.0M265.2 76.3h1.0M264.4 136.0h1.0M209.9 76.6h1.0M216.3 128.0h1.0M224.1 106.3h1.0M265.1 75.1h1.0M206.2 115.5h1.0M276.9 111.7h1.0M238.3 102.6h1.0M273.6 82.1h1.0M233.4 136.5h1.0M245.0 126.4h1.0M280.2 70.7h1.0M197.6 73.2h1.0M258.0 74.4h1.0M238.7 66.2h1.0M268.1 71.3h1.0M251.0 128.3h1.0M205.6 77.4h1.0M212.1 104.6h1.0M221.2 58.1h1.0M203.0 84.7h1.0M220.7 107.6h1.0M204.3 83.5h1.0M200.7 89.5h1.0M276.9 85.5h1.0M227.2 126.5h1.0M221.7 109.9h1.0M236.7 104.8h1.0M225.0 105.8h1.0M227.1 61.3h1.0M237.2 132.9h1.0M204.7 122.4h1.0M231.4 104.6h1.0M229.8 65.1h1.0M277.9 93.4h1.0M203.1 102.4h1.0M198.1 95.2h1.0M206.5 91.3h1.0M216.0 141.3h1.0M235.2 139.7h1.0M199.1 95.3h1.0M234.5 116.4h1.0M202.1 146.3h1.0M197.8 106.4h1.0M201.8 110.7h1.0M249.1 111.5h1.0M206.4 84.1h1.0M201.8 76.2h1.0M239.3 104.8h1.0M203.7 100.2h1.0M259.7 128.7h1.0M244.5 129.7h1.0M203.0 69.4h1.0M209.6 61.7h1.0M223.8 112.4h1.0M226.7 106.6h1.0M249.6 73.2h1.0M257.7 73.6h1.0M232.5 63.7h1.0M276.8 80.3h1.0M240.1 127.8h1.0M224.8 105.8h1.0M281.9 83.8h1.0M235.0 109.4h1.0M265.4 76.0h1.0M200.6 77.8h1.0M198.8 91.7h1.0M206.3 63.6h1.0M278.1 81.9h1.0M202.1 124.3h1.0M242.4 103.8h1.0M196.3 65.4h1.0M225.8 123.2h1.0M241.9 113.5h1.0M275.7 82.0h1.0M193.1 76.6h1.0M212.1 75.3h1.0M223.7 65.2h1.0M221.1 122.9h1.0M259.9 73.6h1.0M226.9 103.8h1.0M203.0 104.1h1.0M247.3 118.1h1.0M236.1 102.0h1.0M224.3 106.1h1.0M235.0 115.2h1.0M209.8 97.1h1.0M230.1 65.8h1.0M204.9 125.7h1.0M223.0 114.0h1.0M211.7 107.6h1.0M273.5 101.8h1.0M197.5 84.0h1.0M205.5 122.3h1.0M206.6 57.6h1.0M204.5 87.3h1.0M208.7 99.1h1.0M235.6 61.9h1.0M254.2 130.4h1.0M280.7 96.0h1.0M281.3 79.3h1.0M199.3 78.0h1.0M249.2 111.2h1.0M207.3 129.5h1.0M253.9 118.1h1.0M272.2 134.5h1.0M239.0 115.8h1.0M273.9 112.8h1.0M276.4 81.9h1.0M247.6 113.2h1.0M248.1 137.7h1.0M280.0 84.1h1.0M198.5 125.3h1.0M261.0 134.8h1.0M224.5 111.9h1.0M257.2 71.0h1.0M208.4 120.6h1.0M242.4 63.9h1.0M247.0 127.0h1.0M253.5 134.8h1.0M231.8 130.6h1.0M274.4 98.7h1.0M267.0 127.7h1.0M228.4 124.4h1.0M233.6 102.9h1.0M237.9 107.6h1.0M199.1 106.5h1.0M238.7 62.9h1.0M238.4 59.0h1.0M230.6 101.2h1.0M211.2 82.5h1.0M255.6 124.5h1.0M199.1 97.7h1.0M235.9 133.9h1.0M249.3 122.7h1.0M277.8 81.3h1.0M224.4 108.5h1.0M209.9 76.9h1.0M233.1 104.4h1.0M278.4 77.9h1.0M240.1 112.2h1.0M195.5 82.5h1.0M202.4 107.0h1.0M257.6 135.4h1.0M233.8 64.3h1.0M228.9 103.0h1.0M230.6 61.5h1.0M248.4 122.6h1.0M210.8 128.8h1.0M216.9 117.4h1.0M235.7 144.4h1.0M205.3 70.9h1.0M213.0 105.2h1.0M228.7 64.5h1.0M243.7 105.5h1.0M252.7 72.0h1.0M211.9 102.1h1.0M266.1 128.0h1.0M261.2 132.9h1.0M236.7 65.2h1.0M236.5 118.5h1.0M254.4 132.3h1.0M275.7 74.5h1.0M270.0 59.6h1.0M207.0 99.8h1.0M242.1 126.8h1.0M262.7 123.4h1.0M233.5 60.7h1.0M226.3 115.1h1.0M193.7 83.7h1.0M279.6 90.9h1.0M230.3 61.9h1.0M241.8 108.0h1.0M202.5 98.8h1.0M275.2 85.7h1.0M199.2 105.7h1.0M279.7 91.4h1.0M273.9 88.9h1.0M223.3 121.3h1.0M209.1 81.1h1.0M276.9 114.5h1.0M254.9 119.9h1.0M204.2 119.8h1.0M244.1 112.6h1.0M195.8 104.0h1.0M242.2 117.0h1.0M245.1 106.0h1.0M230.8 109.3h1.0M252.0 135.2h1.0M214.2 105.7h1.0M216.1 63.3h1.0M199.5 93.0h1.0M256.6 69.8h1.0M239.9 55.5h1.0M226.9 125.6h1.0M277.2 85.9h1.0M275.6 74.0h1.0M240.1 120.6h1.0M213.1 113.7h1.0M193.0 108.1h1.0M207.8 98.8h1.0M237.9 143.4h1.0M217.0 136.5h1.0M212.7 61.0h1.0M204.8 105.2h1.0M243.8 65.0h1.0M220.9 126.5h1.0M215.6 122.6h1.0M208.3 86.7h1.0M225.6 63.8h1.0M223.6 118.4h1.0M227.1 103.1h1.0M224.9 64.9h1.0M277.1 83.4h1.0M238.1 139.4h1.0M208.7 111.7h1.0M223.3 122.7h1.0M249.9 72.5h1.0M276.7 130.6h1.0M222.0 122.1h1.0M274.0 83.8h1.0M216.4 107.0h1.0M249.8 121.7h1.0M203.1 96.6h1.0M209.4 88.1h1.0M221.9 122.7h1.0M210.4 108.4h1.0M207.9 67.7h1.0M212.1 132.2h1.0M237.3 124.0h1.0M212.0 106.6h1.0M211.7 120.6h1.0M210.7 112.8h1.0M274.1 108.2h1.0M201.4 111.9h1.0M240.2 114.2h1.0M269.3 52.0h1.0M277.3 103.7h1.0M211.1 104.9h1.0M220.2 125.2h1.0M240.3 113.5h1.0M230.7 121.7h1.0M195.4 104.1h1.0M269.0 128.9h1.0M206.3 77.4h1.0M273.2 76.7h1.0M257.4 73.4h1.0M204.5 103.5h1.0M202.9 84.9h1.0M216.1 104.9h1.0M252.1 127.4h1.0M228.9 105.6h1.0M252.9 141.2h1.0M242.1 60.7h1.0M217.5 121.4h1.0M229.2 104.7h1.0M273.6 119.9h1.0M240.3 104.3h1.0M241.0 107.0h1.0M202.9 121.9h1.0M258.5 73.1h1.0M206.8 78.3h1.0M267.2 140.6h1.0M201.7 98.4h1.0M278.7 107.8h1.0M205.8 66.8h1.0M229.3 133.3h1.0M252.2 130.4h1.0M269.8 76.1h1.0M264.6 75.1h1.0M197.1 118.8h1.0M219.6 61.6h1.0M259.3 75.5h1.0M255.3 136.4h1.0M239.0 104.7h1.0M245.8 115.6h1.0M233.0 132.0h1.0M205.4 73.9h1.0M226.1 129.8h1.0M228.8 104.9h1.0M233.4 108.7h1.0M260.5 126.3h1.0M232.5 122.0h1.0M216.5 131.6h1.0M230.9 105.3h1.0M210.6 93.4h1.0M278.4 88.9h1.0M212.4 104.4h1.0M250.4 75.5h1.0M197.3 118.7h1.0M234.0 133.3h1.0M207.5 79.8h1.0M231.1 64.5h1.0M228.6 65.3h1.0M227.7 103.0h1.0M229.7 118.5h1.0M249.6 62.4h1.0M201.7 130.8h1.0M234.1 65.5h1.0M207.8 70.2h1.0M227.4 62.3h1.0M262.4 76.2h1.0M262.1 74.3h1.0M203.8 45.1h1.0M246.7 108.0h1.0M207.9 104.6h1.0M272.9 108.1h1.0M243.4 123.6h1.0M260.6 72.0h1.0M207.1 122.7h1.0M227.1 105.6h1.0M259.2 73.0h1.0M256.1 69.8h1.0M266.5 78.1h1.0M239.6 67.0h1.0M240.7 116.0h1.0M277.5 82.3h1.0M223.3 125.2h1.0M226.3 104.0h1.0M198.6 121.8h1.0M211.1 110.4h1.0M203.8 82.5h1.0M224.9 118.9h1.0M262.8 135.4h1.0M230.6 106.5h1.0M246.5 121.7h1.0M204.2 105.9h1.0M285.1 141.1h1.0M233.8 65.7h1.0M198.3 82.1h1.0M214.0 61.6h1.0M206.0 105.6h1.0M207.5 129.9h1.0M223.4 109.7h1.0M234.1 126.1h1.0M201.7 118.7h1.0M231.3 101.6h1.0M240.0 105.2h1.0M204.6 94.6h1.0M277.3 83.3h1.0M201.9 105.8h1.0M230.2 130.1h1.0M210.6 89.7h1.0M199.9 89.4h1.0M221.1 146.3h1.0M241.8 112.4h1.0M242.8 107.4h1.0M221.7 125.8h1.0M276.1 96.0h1.0M233.0 99.0h1.0M195.2 139.7h1.0M211.8 99.7h1.0M275.6 97.1h1.0M234.8 122.2h1.0M249.9 137.4h1.0M248.7 125.4h1.0M242.1 62.2h1.0M216.4 109.6h1.0M241.0 109.1h1.0M255.9 71.9h1.0M264.0 73.7h1.0M207.1 109.7h1.0M201.1 88.5h1.0M280.5 93.0h1.0M195.8 99.5h1.0M216.8 125.3h1.0M233.7 98.8h1.0M238.4 136.8h1.0M209.7 104.9h1.0M237.3 126.6h1.0M208.9 80.5h1.0M262.8 126.9h1.0M210.4 104.4h1.0M209.9 135.0h1.0M260.5 133.4h1.0M243.4 139.7h1.0M229.9 101.8h1.0M239.5 115.6h1.0M271.9 133.6h1.0M204.5 82.0h1.0M235.8 110.1h1.0M210.9 97.8h1.0M205.3 121.2h1.0M210.0 76.3h1.0M211.5 96.1h1.0M238.1 108.5h1.0M236.4 121.4h1.0M202.3 122.1h1.0M227.0 110.2h1.0M212.4 105.6h1.0M265.6 136.9h1.0M245.0 114.7h1.0M201.8 81.4h1.0M215.4 122.5h1.0M197.3 121.1h1.0M202.5 78.5h1.0M282.6 84.4h1.0M204.5 81.1h1.0M236.4 99.7h1.0M279.0 123.5h1.0M239.1 130.9h1.0M206.9 80.9h1.0M228.8 102.1h1.0M214.0 64.9h1.0M267.1 125.9h1.0M209.2 126.2h1.0M211.0 99.4h1.0M220.5 127.2h1.0M201.9 100.0h1.0M234.6 112.5h1.0M229.4 64.6h1.0M222.3 129.3h1.0M276.8 93.9h1.0M240.0 63.4h1.0M236.2 104.6h1.0M240.1 117.8h1.0M258.5 142.5h1.0M208.8 87.7h1.0M272.4 69.9h1.0M226.5 117.9h1.0M233.8 106.6h1.0M204.9 98.5h1.0M266.8 76.6h1.0M202.9 80.0h1.0M202.7 87.9h1.0M235.9 113.8h1.0M273.7 81.4h1.0M218.1 126.7h1.0M217.1 57.3h1.0M260.8 142.8h1.0M215.3 66.9h1.0M207.2 111.7h1.0M245.0 142.8h1.0M231.8 102.6h1.0M231.1 109.5h1.0M249.3 134.4h1.0M237.5 103.3h1.0M210.3 81.8h1.0M227.5 106.0h1.0M208.4 76.0h1.0M267.0 73.3h1.0M199.6 88.5h1.0M199.5 63.6h1.0M247.4 128.7h1.0M202.4 121.4h1.0M259.4 69.1h1.0M247.7 74.0h1.0M217.8 122.1h1.0M246.8 75.1h1.0M221.4 64.8h1.0M217.1 61.2h1.0M202.1 130.8h1.0M208.7 98.4h1.0M206.0 86.6h1.0M305.3 136.4h1.0M236.6 141.4h1.0M199.6 106.8h1.0M230.9 105.0h1.0M227.0 109.8h1.0M202.8 95.4h1.0M197.4 117.7h1.0M279.9 104.5h1.0M247.8 65.1h1.0M229.7 59.7h1.0M202.0 100.0h1.0M271.6 73.2h1.0M211.6 86.0h1.0M237.1 136.1h1.0M212.3 118.5h1.0M236.8 66.6h1.0M231.3 128.8h1.0M198.2 57.7h1.0M250.0 120.2h1.0M202.6 107.1h1.0M226.0 110.8h1.0M203.7 85.9h1.0M202.6 97.3h1.0M198.0 104.1h1.0M223.4 132.4h1.0M209.9 96.7h1.0M218.3 109.2h1.0M196.2 117.7h1.0M245.6 106.7h1.0M209.0 107.6h1.0M220.6 65.5h1.0M202.6 106.0h1.0M223.1 108.5h1.0M221.6 116.4h1.0M223.2 125.6h1.0M277.5 101.0h1.0M260.0 136.6h1.0M221.3 64.8h1.0M211.8 80.8h1.0M253.2 73.4h1.0M200.3 131.7h1.0M264.5 131.2h1.0M235.5 61.7h1.0M217.5 107.0h1.0M213.4 62.9h1.0M244.1 123.6h1.0M232.5 103.8h1.0M209.6 121.9h1.0M205.9 73.1h1.0M204.2 79.0h1.0M227.1 63.2h1.0M267.0 130.3h1.0M253.4 127.9h1.0M280.1 81.7h1.0M202.4 104.1h1.0M236.1 64.8h1.0M278.9 93.1h1.0M210.5 93.5h1.0M212.1 100.5h1.0M193.3 118.0h1.0M267.7 125.1h1.0M206.3 109.1h1.0M204.9 109.8h1.0M223.9 129.3h1.0M262.5 131.8h1.0M204.7 128.3h1.0M211.3 98.4h1.0M215.2 64.3h1.0M257.0 60.8h1.0M204.3 89.4h1.0M209.5 91.2h1.0M223.9 125.4h1.0M200.2 79.9h1.0M235.0 101.9h1.0M201.5 93.7h1.0M232.5 106.4h1.0M206.5 93.1h1.0M285.8 97.6h1.0M230.7 103.7h1.0M232.2 139.0h1.0M250.2 133.9h1.0M199.3 121.8h1.0M213.7 64.8h1.0M206.0 93.3h1.0M280.6 68.4h1.0M277.2 81.5h1.0M242.9 127.1h1.0M202.3 100.2h1.0M230.7 122.7h1.0M245.2 114.6h1.0M209.2 83.5h1.0M240.3 45.5h1.0M200.5 128.7h1.0M233.5 110.8h1.0M204.5 125.7h1.0M227.9 102.8h1.0M215.3 118.0h1.0M201.3 80.5h1.0M204.7 82.9h1.0M236.4 62.8h1.0M223.6 128.9h1.0M240.1 101.6h1.0M212.6 140.0h1.0M225.1 123.5h1.0M202.7 77.4h1.0M216.3 120.3h1.0M205.3 138.4h1.0M204.4 111.7h1.0M248.2 110.3h1.0M269.9 70.3h1.0M274.7 106.4h1.0M229.3 106.1h1.0M202.2 76.5h1.0M274.5 84.1h1.0M281.7 77.2h1.0M244.8 68.5h1.0M246.8 133.1h1.0M207.1 100.9h1.0M237.0 100.0h1.0M279.1 77.5h1.0M205.0 95.0h1.0M241.1 112.3h1.0M207.5 129.0h1.0M209.0 111.9h1.0M254.1 137.8h1.0M232.5 105.4h1.0M255.4 132.9h1.0M220.9 110.6h1.0M250.6 52.8h1.0M241.4 118.6h1.0M205.4 78.8h1.0M206.8 103.8h1.0M273.1 69.8h1.0M208.3 99.9h1.0M209.6 64.7h1.0M244.0 111.3h1.0M232.6 99.9h1.0M275.4 78.0h1.0M218.6 129.6h1.0M231.5 104.9h1.0M260.4 123.8h1.0M200.3 58.4h1.0M205.8 67.4h1.0M208.4 93.9h1.0M234.0 120.6h1.0M231.4 114.4h1.0M255.5 119.9h1.0M270.7 131.8h1.0M248.3 67.1h1.0M232.7 115.6h1.0M210.7 65.6h1.0M272.0 119.7h1.0M197.0 145.8h1.0M261.2 129.3h1.0M202.0 106.8h1.0M202.1 108.1h1.0M220.4 129.7h1.0M208.7 84.5h1.0M273.7 92.6h1.0M220.0 108.7h1.0M205.2 66.4h1.0M206.6 117.6h1.0M244.8 111.0h1.0M236.1 118.6h1.0M218.6 138.8h1.0M204.3 100.6h1.0M231.1 102.8h1.0M261.2 132.2h1.0M275.7 73.1h1.0M243.7 60.2h1.0M207.2 108.7h1.0M276.9 114.2h1.0M194.8 85.3h1.0M222.1 125.5h1.0M229.9 101.1h1.0M227.3 125.3h1.0M256.2 135.5h1.0M224.8 130.7h1.0M207.0 101.1h1.0M237.4 104.4h1.0M234.7 106.6h1.0M251.5 146.3h1.0M205.2 66.6h1.0M214.0 103.3h1.0M264.4 73.6h1.0M202.8 85.8h1.0M237.7 100.9h1.0M233.8 107.2h1.0M233.4 110.5h1.0M240.5 118.9h1.0M235.8 108.4h1.0M235.2 108.2h1.0M210.0 93.1h1.0M252.1 70.8h1.0M296.6 63.6h1.0M229.6 120.3h1.0M208.6 107.7h1.0M236.3 112.3h1.0M221.3 119.1h1.0M205.3 86.2h1.0M234.5 60.0h1.0M195.0 114.3h1.0M208.6 96.3h1.0M247.8 125.1h1.0M196.6 122.5h1.0M263.0 132.7h1.0M276.5 112.5h1.0M198.3 97.2h1.0M230.4 105.1h1.0M266.8 137.0h1.0M234.8 103.0h1.0M277.3 81.6h1.0M239.3 101.8h1.0M194.2 104.7h1.0M200.6 117.7h1.0M240.1 118.6h1.0M236.2 102.7h1.0M209.1 83.2h1.0M255.3 131.6h1.0M275.1 81.7h1.0M240.2 125.7h1.0M207.1 80.4h1.0M276.8 84.5h1.0M215.3 105.6h1.0M246.6 128.8h1.0M217.0 106.1h1.0M207.4 114.0h1.0M199.1 62.5h1.0M205.7 129.0h1.0M259.6 133.3h1.0M221.3 125.6h1.0M218.8 117.2h1.0M234.2 120.5h1.0M251.4 75.3h1.0M222.5 142.8h1.0M227.9 119.1h1.0M229.2 105.8h1.0M265.6 131.0h1.0M235.0 125.8h1.0M213.7 101.4h1.0M230.2 104.6h1.0M262.3 125.2h1.0M270.5 77.0h1.0M255.8 135.7h1.0M273.9 95.2h1.0M236.6 106.3h1.0M225.0 105.8h1.0M232.4 99.6h1.0M207.8 80.4h1.0M273.9 129.2h1.0M275.4 98.1h1.0M275.5 84.6h1.0M280.2 95.8h1.0M259.9 73.3h1.0M230.7 104.4h1.0M260.2 128.6h1.0M236.6 61.1h1.0M207.8 80.6h1.0M206.8 132.3h1.0M250.6 135.2h1.0M269.8 146.9h1.0M201.4 99.5h1.0M227.9 123.8h1.0M251.2 64.1h1.0M231.0 104.1h1.0M278.9 79.0h1.0M211.7 94.1h1.0M227.7 131.9h1.0M207.7 100.6h1.0M204.9 85.0h1.0M206.0 60.0h1.0M276.5 87.7h1.0M237.8 127.6h1.0M233.9 98.4h1.0M221.7 127.8h1.0M205.2 102.9h1.0M216.3 65.4h1.0M223.7 105.5h1.0M210.2 118.3h1.0M219.8 65.0h1.0M246.1 113.4h1.0M228.7 109.3h1.0M254.5 72.8h1.0M210.2 121.3h1.0M204.9 104.9h1.0M242.2 126.2h1.0M230.2 121.7h1.0M205.6 97.1h1.0M274.4 104.1h1.0M237.8 123.2h1.0M232.7 101.7h1.0M236.2 102.9h1.0M213.0 116.4h1.0M194.6 93.2h1.0M270.1 70.9h1.0M254.6 120.5h1.0M261.9 72.1h1.0M274.8 101.2h1.0M224.0 117.1h1.0M227.5 115.1h1.0M242.0 130.8h1.0M244.5 108.4h1.0M244.9 132.6h1.0M260.4 73.3h1.0M246.8 113.8h1.0M207.7 80.7h1.0M235.6 106.4h1.0M263.8 70.3h1.0M216.0 127.4h1.0M231.6 121.6h1.0M275.9 136.4h1.0M246.6 117.8h1.0M236.3 96.8h1.0M278.2 86.5h1.0M214.1 106.5h1.0M218.7 126.8h1.0M219.3 114.9h1.0M243.0 62.8h1.0M205.1 100.5h1.0M235.7 101.7h1.0M199.6 125.0h1.0M245.8 112.6h1.0M209.5 64.0h1.0M215.5 106.3h1.0M210.4 97.9h1.0M259.2 133.5h1.0M214.4 66.0h1.0M238.0 105.3h1.0M204.3 122.4h1.0M220.6 113.5h1.0M205.2 80.4h1.0M265.8 139.3h1.0M211.8 87.4h1.0M266.5 139.1h1.0M252.3 126.0h1.0M218.3 115.5h1.0M206.7 85.4h1.0M201.3 77.6h1.0M218.2 131.3h1.0M203.4 130.6h1.0M194.2 68.7h1.0M204.0 101.8h1.0M205.2 87.3h1.0M208.4 80.8h1.0M254.1 129.5h1.0M238.6 106.3h1.0M276.4 85.6h1.0M249.0 117.6h1.0M280.9 123.8h1.0M225.9 61.7h1.0M229.9 62.3h1.0M257.0 126.0h1.0M226.4 108.9h1.0M271.5 135.6h1.0M250.0 133.8h1.0M202.4 106.5h1.0M206.5 99.6h1.0M212.6 67.1h1.0M217.0 125.9h1.0M236.7 107.2h1.0M244.0 112.1h1.0M200.6 78.6h1.0M236.1 111.9h1.0M232.9 123.0h1.0M219.1 143.0h1.0M277.7 81.7h1.0M227.9 128.3h1.0M223.8 122.4h1.0M242.1 107.5h1.0M201.7 136.7h1.0M220.5 113.6h1.0M224.3 134.2h1.0M223.9 64.4h1.0M237.3 97.4h1.0M204.0 83.3h1.0M217.4 106.6h1.0M246.6 123.0h1.0M281.2 71.3h1.0M219.9 109.9h1.0M233.4 120.4h1.0M195.8 99.0h1.0M243.8 107.2h1.0M247.2 126.3h1.0M230.8 63.5h1.0M238.6 101.3h1.0M198.6 101.0h1.0M209.4 96.4h1.0M200.1 107.8h1.0M251.6 131.8h1.0M207.1 105.7h1.0M236.7 126.7h1.0M210.3 83.4h1.0M211.4 89.3h1.0M201.7 86.3h1.0M206.5 115.0h1.0M197.4 116.3h1.0M224.7 135.9h1.0M202.3 94.1h1.0M235.4 102.4h1.0M210.2 100.4h1.0M254.8 134.6h1.0M220.7 126.1h1.0M227.2 63.1h1.0M256.6 135.0h1.0M256.8 134.8h1.0M234.0 64.7h1.0M196.7 98.1h1.0M241.9 124.3h1.0M230.9 121.7h1.0M202.9 93.8h1.0M204.7 107.5h1.0M279.1 77.6h1.0M208.5 105.0h1.0M258.9 74.8h1.0M252.3 115.1h1.0M223.4 64.6h1.0M242.5 108.0h1.0M238.9 110.1h1.0M238.5 101.2h1.0M256.7 126.5h1.0M198.0 101.8h1.0M206.5 87.2h1.0M215.8 59.6h1.0M201.6 70.7h1.0M255.3 119.3h1.0M234.6 64.8h1.0M253.5 71.1h1.0M207.4 103.8h1.0M232.2 132.6h1.0M257.3 137.8h1.0M261.9 75.0h1.0M253.4 75.1h1.0M240.8 61.2h1.0M277.8 141.1h1.0M228.6 108.6h1.0M205.0 74.7h1.0M206.0 141.8h1.0M205.2 96.6h1.0M201.8 105.6h1.0M248.1 127.3h1.0M242.9 105.1h1.0M261.7 128.3h1.0M225.3 65.5h1.0M232.9 122.7h1.0M255.9 117.8h1.0M217.7 61.4h1.0M259.4 130.2h1.0M250.7 124.9h1.0M198.8 74.3h1.0M221.5 106.9h1.0M227.5 66.1h1.0M209.0 82.9h1.0M235.0 65.9h1.0M215.8 107.5h1.0M235.9 98.2h1.0M277.2 104.0h1.0M228.6 107.3h1.0M265.2 72.7h1.0M197.2 104.8h1.0M208.2 123.8h1.0M275.2 100.1h1.0M278.0 100.4h1.0M205.7 121.0h1.0M277.8 143.6h1.0M247.5 115.9h1.0M199.7 83.2h1.0M235.9 99.6h1.0M208.6 74.5h1.0M196.0 80.3h1.0M202.3 88.8h1.0M208.0 73.9h1.0M282.6 81.6h1.0M232.2 119.4h1.0M211.4 109.3h1.0M275.4 86.5h1.0M204.3 67.3h1.0M278.1 93.3h1.0M229.6 63.3h1.0M230.0 110.7h1.0M257.5 125.2h1.0M227.8 122.2h1.0M260.4 129.7h1.0M246.5 112.2h1.0M204.3 104.9h1.0M275.3 123.9h1.0M279.2 101.6h1.0M203.5 104.7h1.0M200.2 103.7h1.0M236.2 111.8h1.0M274.0 100.4h1.0M263.9 132.5h1.0M255.8 138.3h1.0M227.4 119.9h1.0M244.3 119.3h1.0M214.8 113.1h1.0M205.2 82.6h1.0M206.2 116.8h1.0M269.2 75.2h1.0M208.4 73.1h1.0M210.9 140.8h1.0M206.9 107.3h1.0M220.5 133.2h1.0M197.0 73.3h1.0M257.6 136.4h1.0M202.7 98.9h1.0M236.1 63.2h1.0M208.9 136.3h1.0M275.5 116.5h1.0M209.3 100.1h1.0M205.8 127.8h1.0M209.4 121.6h1.0M226.6 106.8h1.0M238.6 147.3h1.0M213.6 106.3h1.0M236.9 63.8h1.0M237.5 106.5h1.0M196.0 112.5h1.0M253.2 73.4h1.0M210.4 95.0h1.0M242.1 103.1h1.0M217.8 146.6h1.0M209.4 82.9h1.0M241.0 102.0h1.0M214.0 110.7h1.0M220.6 64.6h1.0M205.3 127.0h1.0M203.6 84.1h1.0M238.4 117.7h1.0M211.5 133.8h1.0M197.0 59.7h1.0M248.1 136.7h1.0M237.7 107.1h1.0M212.3 74.9h1.0M258.1 76.3h1.0M266.9 76.1h1.0M229.6 63.7h1.0M230.0 118.7h1.0M198.4 94.2h1.0M274.2 92.0h1.0M259.2 128.7h1.0M209.1 71.3h1.0M196.7 116.3h1.0M230.8 132.1h1.0M236.1 64.2h1.0M208.5 99.7h1.0M199.1 78.4h1.0M208.3 99.2h1.0M224.3 131.7h1.0M210.1 118.5h1.0M279.3 100.2h1.0M202.9 105.2h1.0M221.7 140.6h1.0M239.9 67.6h1.0M220.8 130.9h1.0M243.1 119.4h1.0M218.9 64.4h1.0M258.1 138.9h1.0M222.0 115.7h1.0M236.5 104.8h1.0M273.8 108.6h1.0M221.3 136.2h1.0M203.3 95.0h1.0M215.9 104.9h1.0M197.9 91.8h1.0M205.7 78.4h1.0M235.0 102.0h1.0M249.6 111.8h1.0M276.0 103.1h1.0M209.7 80.5h1.0M225.1 106.8h1.0M243.4 65.0h1.0M262.4 129.9h1.0M260.5 137.8h1.0M249.4 117.2h1.0M242.6 64.8h1.0M210.4 69.7h1.0M240.7 105.3h1.0M236.1 139.5h1.0M223.0 106.6h1.0M248.0 58.8h1.0M246.6 110.0h1.0M253.2 122.4h1.0M276.1 97.6h1.0M233.7 105.2h1.0M206.8 94.7h1.0M200.0 60.0h1.0M248.9 123.1h1.0M223.7 115.8h1.0M224.8 106.0h1.0M198.2 92.8h1.0M211.9 82.7h1.0M219.7 65.7h1.0M218.5 64.8h1.0M234.1 97.3h1.0M235.2 109.6h1.0M201.2 77.6h1.0M251.9 123.7h1.0M193.5 90.7h1.0M227.8 147.4h1.0M201.1 130.4h1.0M252.1 131.0h1.0M229.0 120.8h1.0M226.5 66.0h1.0M257.3 119.7h1.0M232.5 102.8h1.0M275.7 83.9h1.0M203.3 74.5h1.0M213.9 134.7h1.0M208.1 95.3h1.0M203.4 80.2h1.0M257.1 76.8h1.0M236.7 108.2h1.0M266.8 66.6h1.0M225.4 105.6h1.0M216.5 106.4h1.0M198.5 126.1h1.0M218.4 66.3h1.0M236.4 64.9h1.0M217.4 143.1h1.0M279.1 139.0h1.0M216.0 106.3h1.0M218.7 61.4h1.0M244.4 64.9h1.0M208.3 87.4h1.0M274.9 112.5h1.0M202.4 90.2h1.0M274.3 94.9h1.0M213.1 103.2h1.0M238.1 119.2h1.0M207.6 118.1h1.0M214.4 125.3h1.0M246.1 113.9h1.0M221.8 65.4h1.0M202.9 109.5h1.0M228.4 143.9h1.0M274.2 144.1h1.0M201.3 137.1h1.0M274.3 88.2h1.0M211.9 79.3h1.0M202.0 81.1h1.0M220.0 65.0h1.0M226.3 135.8h1.0M206.8 102.8h1.0M239.4 67.2h1.0M206.0 93.9h1.0M208.9 116.3h1.0M267.2 124.5h1.0M209.5 110.8h1.0M206.5 72.5h1.0M237.5 104.5h1.0M215.0 63.7h1.0M221.7 130.2h1.0M233.4 120.1h1.0M210.7 136.4h1.0M205.3 97.3h1.0M252.4 131.3h1.0M206.1 75.4h1.0M224.4 105.2h1.0M226.1 121.9h1.0M208.6 110.1h1.0M199.4 76.1h1.0M280.3 136.6h1.0M274.2 99.1h1.0M234.3 118.4h1.0M215.4 135.6h1.0M267.0 73.8h1.0M209.6 63.8h1.0M205.5 85.9h1.0M271.6 73.2h1.0M222.1 113.0h1.0M207.8 104.8h1.0M271.5 73.8h1.0M210.7 67.7h1.0M211.5 81.8h1.0M242.0 112.0h1.0M252.2 116.0h1.0M203.3 78.3h1.0M211.9 110.8h1.0M253.8 119.5h1.0M271.9 74.8h1.0M228.0 123.4h1.0M223.1 122.3h1.0M246.8 132.4h1.0M241.0 113.5h1.0M241.8 109.9h1.0M244.8 110.7h1.0M226.8 64.4h1.0M258.2 74.7h1.0M213.8 62.3h1.0M211.1 55.3h1.0M281.2 106.6h1.0M223.3 131.7h1.0M248.7 114.8h1.0M241.0 110.1h1.0M218.3 137.1h1.0M203.6 101.0h1.0M221.0 118.0h1.0M248.9 115.4h1.0M249.0 135.2h1.0M248.0 61.2h1.0M216.8 134.5h1.0M235.1 121.4h1.0M248.2 73.4h1.0M203.9 99.2h1.0M225.7 65.1h1.0M231.8 107.5h1.0M229.2 101.9h1.0M203.0 89.2h1.0M233.0 62.1h1.0M215.2 103.4h1.0M250.4 127.6h1.0M222.3 106.9h1.0M240.6 65.7h1.0M224.9 113.7h1.0M239.7 124.7h1.0M269.3 79.5h1.0M245.6 123.2h1.0M254.5 129.0h1.0M275.0 83.0h1.0M240.7 65.8h1.0M219.1 109.8h1.0M200.0 95.4h1.0M221.6 106.5h1.0M206.8 90.6h1.0M227.4 63.1h1.0M263.1 76.0h1.0M204.0 91.4h1.0M253.4 74.9h1.0M242.0 114.7h1.0M202.7 90.2h1.0M199.7 116.6h1.0M237.1 110.1h1.0M255.6 127.5h1.0M198.7 102.5h1.0M215.6 111.0h1.0M272.7 139.4h1.0M249.8 139.8h1.0M233.7 136.1h1.0M228.4 104.4h1.0M239.6 118.5h1.0M239.5 66.7h1.0M203.1 74.0h1.0M275.0 136.1h1.0M276.1 80.8h1.0M206.9 93.9h1.0M199.7 88.9h1.0M213.9 103.0h1.0M240.2 66.1h1.0M212.2 116.1h1.0M235.0 65.4h1.0M210.7 104.0h1.0M258.3 138.9h1.0M227.1 105.1h1.0M246.4 122.3h1.0M200.7 91.1h1.0M239.8 112.1h1.0M239.2 66.7h1.0M256.3 124.0h1.0M247.7 119.1h1.0M235.7 61.7h1.0M223.5 114.7h1.0M235.1 118.3h1.0M230.2 102.0h1.0M200.8 113.5h1.0M199.4 100.2h1.0M232.1 56.7h1.0M223.3 137.1h1.0M202.4 109.7h1.0M238.8 110.6h1.0M199.6 126.2h1.0M234.7 66.7h1.0M245.8 108.0h1.0M278.7 83.1h1.0M261.3 75.4h1.0M203.2 77.6h1.0M266.0 147.1h1.0M280.4 111.2h1.0M207.4 85.7h1.0M238.3 104.0h1.0M277.3 77.7h1.0M221.2 124.4h1.0M200.4 112.2h1.0M228.9 109.4h1.0M236.1 107.7h1.0M201.2 94.7h1.0M197.4 87.3h1.0M228.1 125.8h1.0M244.2 106.6h1.0M204.1 88.6h1.0M278.2 78.6h1.0M275.4 91.2h1.0M262.1 123.7h1.0M205.6 105.0h1.0M204.7 89.6h1.0M239.6 100.7h1.0M201.7 100.7h1.0M206.4 110.0h1.0M248.7 66.6h1.0M206.8 89.2h1.0M242.7 115.5h1.0M231.5 133.9h1.0M285.6 73.0h1.0M231.2 117.5h1.0M212.9 73.8h1.0M238.9 108.0h1.0M255.4 119.6h1.0M235.7 103.4h1.0M226.2 118.7h1.0M200.2 67.2h1.0M215.3 106.4h1.0M210.6 100.7h1.0M273.7 96.0h1.0M227.5 103.7h1.0M207.5 105.0h1.0M199.1 83.4h1.0M236.1 116.2h1.0M240.4 122.2h1.0M203.3 81.2h1.0M231.7 122.8h1.0M203.0 83.3h1.0M207.8 110.0h1.0M204.5 103.1h1.0M205.1 119.2h1.0M226.9 110.0h1.0M228.1 110.0h1.0M275.4 95.5h1.0M198.2 92.9h1.0M233.3 62.9h1.0M202.7 103.8h1.0M223.3 114.4h1.0M212.6 107.6h1.0M205.9 64.1h1.0M201.3 103.6h1.0M199.9 90.9h1.0M240.3 59.9h1.0M224.7 108.7h1.0M231.7 121.6h1.0M225.7 122.5h1.0M222.1 110.1h1.0M235.1 109.1h1.0M231.3 64.4h1.0M253.8 133.9h1.0M200.7 95.0h1.0M222.2 127.4h1.0M230.8 105.2h1.0M213.6 116.8h1.0M200.7 81.3h1.0M224.4 133.9h1.0M231.1 124.7h1.0M227.5 119.5h1.0M203.2 85.0h1.0M245.2 128.5h1.0M232.7 119.5h1.0M227.8 115.1h1.0M276.6 109.1h1.0M209.7 108.3h1.0M230.0 65.5h1.0M221.3 107.8h1.0M239.8 103.7h1.0M205.0 79.7h1.0M225.4 63.3h1.0M227.1 120.8h1.0M217.2 123.7h1.0M274.2 81.4h1.0M232.5 104.0h1.0M230.5 65.2h1.0M253.6 120.5h1.0M275.9 103.8h1.0M233.3 99.6h1.0M266.5 129.5h1.0M253.9 118.9h1.0M196.5 112.9h1.0M212.8 61.8h1.0M205.1 81.4h1.0M197.4 83.8h1.0M200.3 113.1h1.0M199.8 127.7h1.0M229.0 129.2h1.0M272.0 83.8h1.0M278.3 120.0h1.0M216.9 63.1h1.0M259.9 71.1h1.0M275.1 137.3h1.0M214.9 104.0h1.0M196.3 97.4h1.0M233.9 101.8h1.0M201.9 125.2h1.0M237.5 65.7h1.0M277.2 83.6h1.0M248.0 65.0h1.0M200.6 78.5h1.0M225.7 63.2h1.0M213.2 103.9h1.0M195.9 99.7h1.0M243.6 106.2h1.0M253.8 75.8h1.0M210.5 102.2h1.0M242.8 105.9h1.0M241.5 135.0h1.0M269.4 139.6h1.0M248.9 128.1h1.0M228.2 122.9h1.0M239.8 134.4h1.0M207.9 91.1h1.0M202.2 119.0h1.0M208.3 86.6h1.0M276.8 73.1h1.0M228.1 107.3h1.0M225.0 111.8h1.0M205.6 95.5h1.0M238.4 60.3h1.0M238.9 61.6h1.0M237.5 109.8h1.0M222.3 64.8h1.0M230.8 125.1h1.0M257.7 131.1h1.0M276.7 110.3h1.0M261.1 122.1h1.0M254.7 71.6h1.0M209.0 89.5h1.0M205.5 76.4h1.0M225.4 107.6h1.0M249.7 127.1h1.0M257.1 125.1h1.0M247.3 121.1h1.0M211.2 117.0h1.0M208.4 124.3h1.0M226.0 124.1h1.0M202.9 79.9h1.0M284.4 85.1h1.0M217.9 122.3h1.0M253.7 137.7h1.0M221.7 137.4h1.0M277.4 114.6h1.0M255.5 126.6h1.0M209.6 78.5h1.0M198.7 143.4h1.0M203.1 125.1h1.0M222.6 64.3h1.0M240.5 101.0h1.0M241.4 117.1h1.0M200.6 112.3h1.0M237.2 101.1h1.0M233.8 107.5h1.0M243.7 117.3h1.0M252.7 129.3h1.0M239.1 101.8h1.0M252.2 74.7h1.0M238.4 112.0h1.0M238.1 108.2h1.0M274.0 82.4h1.0M239.4 131.6h1.0M238.5 108.3h1.0M200.4 108.4h1.0M210.9 91.0h1.0M195.4 119.1h1.0M220.8 64.4h1.0M209.5 84.1h1.0M195.2 91.3h1.0M273.2 141.2h1.0M236.9 123.6h1.0M199.5 113.7h1.0M277.5 82.2h1.0M213.0 101.2h1.0M207.2 87.0h1.0M203.8 122.4h1.0M222.0 133.0h1.0M210.2 100.5h1.0M207.2 111.3h1.0M205.0 71.2h1.0M255.5 127.3h1.0M231.2 99.7h1.0M211.0 105.9h1.0M198.7 101.3h1.0M250.1 77.0h1.0M238.6 116.5h1.0M205.0 83.0h1.0M207.0 86.9h1.0M245.0 106.3h1.0M225.8 132.3h1.0M207.1 88.4h1.0M278.8 81.5h1.0M237.5 64.9h1.0M277.4 85.7h1.0M215.6 110.7h1.0M216.1 104.7h1.0M237.3 106.6h1.0M231.6 108.9h1.0M276.7 81.0h1.0M193.0 107.7h1.0M204.4 80.2h1.0M208.2 82.0h1.0M213.0 120.0h1.0M289.7 90.6h1.0M223.6 134.5h1.0M246.5 107.9h1.0M203.8 55.9h1.0M200.4 136.6h1.0M203.2 90.0h1.0M228.7 104.6h1.0M238.6 128.5h1.0M220.4 118.4h1.0M263.9 66.4h1.0M223.0 128.0h1.0M201.2 112.2h1.0M262.3 124.8h1.0M222.8 105.8h1.0M197.8 108.7h1.0M234.3 105.7h1.0M220.3 108.0h1.0M241.8 103.9h1.0M228.6 64.5h1.0M200.7 111.1h1.0M204.3 84.6h1.0M256.4 123.7h1.0M276.0 90.3h1.0M249.1 73.9h1.0M224.4 60.4h1.0M214.0 63.1h1.0M199.6 96.3h1.0M245.1 106.4h1.0M208.6 100.9h1.0M205.2 69.8h1.0M241.4 113.3h1.0M200.0 98.5h1.0M239.4 112.1h1.0M221.3 132.0h1.0M237.4 64.6h1.0M234.8 66.5h1.0M217.4 121.8h1.0M237.5 120.5h1.0M248.7 130.9h1.0M275.8 82.2h1.0M274.9 99.1h1.0M236.1 65.3h1.0M219.9 125.5h1.0M260.1 135.7h1.0M218.5 145.3h1.0M260.0 131.5h1.0M242.6 111.1h1.0M249.4 74.7h1.0M253.1 132.5h1.0M242.9 127.3h1.0M201.9 72.8h1.0M244.6 112.5h1.0M249.7 132.5h1.0M254.1 124.5h1.0M221.4 125.3h1.0M254.4 126.5h1.0M236.4 110.3h1.0M267.1 137.7h1.0M256.7 119.4h1.0M274.6 99.5h1.0M200.2 79.2h1.0M233.4 103.6h1.0M261.0 138.8h1.0M198.2 117.5h1.0M237.4 126.4h1.0M202.7 82.4h1.0M239.8 104.3h1.0M276.3 100.4h1.0M200.2 92.6h1.0M232.3 107.4h1.0M222.3 63.1h1.0M251.6 72.7h1.0M203.3 76.9h1.0M209.7 74.6h1.0M278.2 114.6h1.0M239.5 110.6h1.0M273.1 81.4h1.0M253.3 135.8h1.0M217.0 106.2h1.0M229.8 107.6h1.0M266.8 75.4h1.0M273.2 112.4h1.0M244.1 125.5h1.0M233.6 123.8h1.0M269.5 128.4h1.0M267.5 135.0h1.0M234.9 107.0h1.0M232.9 64.2h1.0M269.1 142.1h1.0M261.8 135.0h1.0M200.7 98.3h1.0M247.5 69.1h1.0M228.8 122.1h1.0M239.5 106.0h1.0M215.9 106.0h1.0M277.3 103.2h1.0M207.7 77.6h1.0M207.9 85.5h1.0M237.9 61.3h1.0M203.8 100.2h1.0M232.9 117.9h1.0M254.4 68.3h1.0M244.2 57.4h1.0M195.7 104.6h1.0M244.8 106.0h1.0M250.7 131.2h1.0M234.0 108.1h1.0M233.1 110.0h1.0M235.2 124.2h1.0M207.5 110.5h1.0M213.1 105.9h1.0M248.3 112.5h1.0M236.4 109.1h1.0M236.8 106.9h1.0M205.9 80.9h1.0M237.4 126.8h1.0M217.5 59.6h1.0M222.5 131.2h1.0M238.6 137.8h1.0M207.6 77.3h1.0M253.3 72.1h1.0M226.9 131.8h1.0M238.1 127.4h1.0M203.8 73.6h1.0M233.2 98.5h1.0M206.0 79.5h1.0M221.4 107.7h1.0M228.3 61.1h1.0M246.3 115.3h1.0M235.3 126.4h1.0M193.0 93.5h1.0M224.3 123.5h1.0M236.8 95.7h1.0M275.5 108.2h1.0M225.2 129.3h1.0M229.3 105.4h1.0M225.8 110.3h1.0M223.1 122.3h1.0M205.2 107.3h1.0M250.8 115.9h1.0M198.8 98.7h1.0M201.3 93.7h1.0M202.6 102.3h1.0M261.4 74.2h1.0M245.6 111.3h1.0M276.0 89.3h1.0M275.8 80.3h1.0M234.7 106.7h1.0M235.8 107.7h1.0M277.8 81.2h1.0M234.4 104.8h1.0M215.6 48.6h1.0M223.7 146.2h1.0M206.0 100.7h1.0M242.2 107.2h1.0M276.7 84.8h1.0M250.7 129.6h1.0M233.9 106.4h1.0M243.4 120.2h1.0M205.8 77.9h1.0M262.3 74.6h1.0M261.5 129.5h1.0M250.6 119.4h1.0M251.1 138.0h1.0M232.9 104.9h1.0M207.0 100.9h1.0M221.0 65.3h1.0M208.1 119.5h1.0M211.7 100.8h1.0M221.4 117.4h1.0M267.2 73.4h1.0M206.0 85.6h1.0M199.9 81.0h1.0M224.5 130.0h1.0M237.4 107.5h1.0M247.5 125.7h1.0M203.7 97.8h1.0M238.7 99.1h1.0M266.0 72.1h1.0M200.4 76.3h1.0M235.2 100.9h1.0M237.0 109.4h1.0M199.2 101.2h1.0M246.0 127.4h1.0M247.0 113.1h1.0M247.5 64.1h1.0M241.2 111.0h1.0M220.5 128.8h1.0M246.1 130.7h1.0M207.3 92.7h1.0M256.7 135.1h1.0M238.8 60.0h1.0M211.3 108.2h1.0M200.8 123.7h1.0M212.4 103.6h1.0M207.3 78.6h1.0M273.2 112.7h1.0M194.0 119.5h1.0M242.3 107.1h1.0M245.2 47.2h1.0M206.3 82.8h1.0M213.5 65.3h1.0M215.5 61.8h1.0M232.9 112.4h1.0M214.0 69.9h1.0M215.8 105.3h1.0M237.0 123.0h1.0M197.2 110.2h1.0M277.2 99.0h1.0M245.9 108.1h1.0M239.2 106.0h1.0M257.3 72.4h1.0M263.7 75.4h1.0M237.3 99.4h1.0M264.3 136.2h1.0M229.4 104.1h1.0M209.4 125.7h1.0M278.1 89.9h1.0M277.8 102.8h1.0M234.9 112.3h1.0M262.9 145.2h1.0M273.7 82.6h1.0M205.5 100.7h1.0M209.9 88.4h1.0M195.0 115.2h1.0M274.3 81.2h1.0M211.5 86.7h1.0M257.7 125.3h1.0M204.0 104.0h1.0M213.6 128.0h1.0M240.5 118.9h1.0M201.3 99.1h1.0M207.7 63.6h1.0M269.4 74.8h1.0M209.2 86.9h1.0M233.9 110.8h1.0M237.2 102.3h1.0M277.3 74.8h1.0M211.8 92.7h1.0M220.3 65.8h1.0M224.5 60.6h1.0M241.0 102.7h1.0M210.6 68.3h1.0M202.4 75.5h1.0M297.5 141.6h1.0M221.1 109.6h1.0M218.0 116.6h1.0M212.3 102.5h1.0M262.7 134.0h1.0M252.2 116.1h1.0M208.5 124.3h1.0M229.1 132.4h1.0M224.6 107.0h1.0M248.9 62.6h1.0M233.4 132.7h1.0M239.1 61.8h1.0M265.5 75.5h1.0M208.5 69.9h1.0M224.1 104.8h1.0M244.0 111.2h1.0M207.2 105.5h1.0M231.5 115.6h1.0M242.6 112.7h1.0M210.3 74.1h1.0M231.3 62.3h1.0M227.5 124.3h1.0M212.6 105.1h1.0M228.0 104.9h1.0M207.3 81.0h1.0M253.0 116.2h1.0M248.5 126.3h1.0M205.7 91.9h1.0M210.6 135.7h1.0M305.1 118.6h1.0M258.5 127.6h1.0M199.5 76.1h1.0M273.7 78.9h1.0M210.7 103.7h1.0M208.4 96.6h1.0M243.2 105.4h1.0M268.8 122.7h1.0M254.6 130.5h1.0M207.3 92.4h1.0M215.8 105.7h1.0M201.6 125.5h1.0M204.9 87.9h1.0M205.5 99.0h1.0M248.5 134.2h1.0M197.2 104.0h1.0M233.9 138.3h1.0M215.4 105.0h1.0M208.0 105.8h1.0M205.3 83.8h1.0M199.0 81.5h1.0M210.4 63.5h1.0M221.0 65.2h1.0M267.1 73.5h1.0M229.0 119.5h1.0M236.6 135.6h1.0M234.3 110.1h1.0M206.4 83.4h1.0M224.5 109.0h1.0M246.0 107.9h1.0M214.8 66.0h1.0M233.4 123.6h1.0M225.1 105.8h1.0M212.3 101.3h1.0M306.8 96.2h1.0M238.0 100.4h1.0M244.1 111.8h1.0M239.1 113.8h1.0M212.4 124.8h1.0M204.5 74.5h1.0M199.7 103.7h1.0M231.2 65.5h1.0M223.1 131.5h1.0M244.6 108.6h1.0M231.9 99.6h1.0M234.1 64.1h1.0M243.8 109.6h1.0M246.4 126.9h1.0M202.7 87.5h1.0M275.4 104.2h1.0M235.8 102.0h1.0M216.1 105.5h1.0M276.4 99.6h1.0M232.9 102.5h1.0M234.8 114.6h1.0M242.1 124.4h1.0M250.9 133.1h1.0M203.9 105.4h1.0M205.8 86.8h1.0M222.7 113.4h1.0M215.4 135.6h1.0M221.5 142.0h1.0M255.7 71.9h1.0M247.8 113.4h1.0M234.5 97.1h1.0M235.3 103.7h1.0M232.6 128.3h1.0M254.2 61.6h1.0M200.8 112.8h1.0M196.0 91.8h1.0M222.4 64.6h1.0M201.1 106.4h1.0M206.4 63.8h1.0M200.8 120.9h1.0M247.1 67.8h1.0M237.4 111.1h1.0M217.5 121.9h1.0M206.1 83.0h1.0M270.1 77.8h1.0M276.4 85.3h1.0M208.0 65.4h1.0M253.2 121.7h1.0M257.3 72.2h1.0M238.8 106.2h1.0M222.6 123.4h1.0M264.6 140.6h1.0M272.1 78.5h1.0M256.8 125.7h1.0M202.6 90.3h1.0M227.8 116.5h1.0M240.4 112.6h1.0M227.6 104.3h1.0M276.7 88.2h1.0M278.1 89.2h1.0M279.1 97.1h1.0M233.4 63.6h1.0M201.8 105.7h1.0M201.7 107.3h1.0M199.1 84.0h1.0M211.0 98.9h1.0M233.7 60.8h1.0M208.3 106.1h1.0M203.5 101.0h1.0M266.6 135.1h1.0M263.4 70.9h1.0M200.7 132.3h1.0M229.1 132.7h1.0M229.0 59.3h1.0M204.6 102.5h1.0M265.7 134.4h1.0M251.5 65.9h1.0M198.4 104.1h1.0M236.9 110.9h1.0M206.5 79.6h1.0M194.5 58.3h1.0M213.9 103.2h1.0M234.4 59.7h1.0M211.2 88.5h1.0M252.7 124.6h1.0M235.6 66.2h1.0M199.9 97.1h1.0M199.5 75.8h1.0M274.4 92.2h1.0M263.2 134.0h1.0M205.5 105.3h1.0M210.1 136.9h1.0M222.1 64.6h1.0M232.6 99.1h1.0M245.9 118.2h1.0M253.8 118.6h1.0M223.9 133.9h1.0M252.9 120.2h1.0M240.1 103.0h1.0M278.9 80.6h1.0M260.8 73.1h1.0M216.1 107.5h1.0M196.9 118.3h1.0M206.0 123.1h1.0M246.0 121.4h1.0M232.6 132.8h1.0M207.5 123.1h1.0M219.0 117.5h1.0M234.7 133.1h1.0M198.8 113.8h1.0M224.9 104.9h1.0M229.4 128.9h1.0M225.9 64.9h1.0M217.5 130.3h1.0M220.1 132.0h1.0M206.3 90.8h1.0M210.9 88.6h1.0M217.0 107.3h1.0M272.1 106.8h1.0M203.3 124.5h1.0M204.4 107.8h1.0M251.8 120.8h1.0M273.4 137.4h1.0M257.4 73.9h1.0M248.2 124.0h1.0M255.6 139.6h1.0M211.5 103.0h1.0M236.0 141.7h1.0M240.9 107.3h1.0M273.1 72.3h1.0M202.3 95.1h1.0M224.4 122.4h1.0M274.9 125.2h1.0M203.0 56.7h1.0M208.2 87.1h1.0M200.7 64.1h1.0M273.9 72.7h1.0M239.1 128.3h1.0M218.8 63.4h1.0M252.5 132.0h1.0M238.1 103.8h1.0M205.3 78.3h1.0M235.7 99.9h1.0M241.8 67.1h1.0M306.9 141.7h1.0M259.1 52.3h1.0M207.6 93.4h1.0M227.2 64.5h1.0M248.5 119.8h1.0M235.1 108.3h1.0M239.3 113.0h1.0M276.7 84.1h1.0M256.5 132.9h1.0M206.4 75.8h1.0M226.9 65.0h1.0M230.3 107.4h1.0M247.6 118.6h1.0M234.8 114.2h1.0M204.4 84.3h1.0M259.1 72.0h1.0M280.1 75.5h1.0M277.2 101.2h1.0M274.1 83.6h1.0M226.4 108.4h1.0M202.0 81.4h1.0M242.6 123.1h1.0M225.5 124.0h1.0M277.9 69.0h1.0M233.9 106.2h1.0M203.0 83.0h1.0M209.2 73.6h1.0M237.2 113.5h1.0M239.1 125.5h1.0M262.1 74.7h1.0M218.9 127.5h1.0M255.4 64.5h1.0M229.9 101.9h1.0M222.9 117.5h1.0M225.1 133.8h1.0M210.6 99.0h1.0M206.2 86.7h1.0M212.1 104.9h1.0M219.1 111.2h1.0M246.3 113.3h1.0M193.5 103.0h1.0M195.1 129.7h1.0M253.6 135.6h1.0M255.6 128.9h1.0M236.7 106.9h1.0M239.5 107.8h1.0M278.9 93.2h1.0M238.3 110.0h1.0M210.7 90.1h1.0M205.1 114.3h1.0M207.3 107.2h1.0M196.9 104.0h1.0M211.4 101.7h1.0M231.9 104.1h1.0M197.5 115.5h1.0M224.5 113.9h1.0M249.0 76.3h1.0M218.9 109.9h1.0M230.2 104.4h1.0M230.0 105.8h1.0M206.5 88.5h1.0M205.5 73.6h1.0M256.9 73.4h1.0M209.0 99.7h1.0M222.7 116.4h1.0M222.3 108.5h1.0M251.2 125.7h1.0M274.0 72.2h1.0M214.6 64.6h1.0M247.3 122.4h1.0M234.0 64.3h1.0M219.9 108.1h1.0M227.1 61.7h1.0M209.4 85.7h1.0M206.7 114.0h1.0M201.9 65.1h1.0M234.3 63.9h1.0M207.8 81.0h1.0M253.8 121.0h1.0M263.0 74.1h1.0M257.8 126.5h1.0M220.8 114.5h1.0M279.9 109.9h1.0M206.4 108.4h1.0M230.7 103.3h1.0M210.2 76.4h1.0M207.4 88.8h1.0M268.5 141.2h1.0M231.1 120.2h1.0M230.7 101.3h1.0M273.2 76.8h1.0M237.0 118.1h1.0M240.7 108.3h1.0M257.8 128.6h1.0M242.9 108.3h1.0M234.8 64.8h1.0M211.8 127.7h1.0M240.4 114.7h1.0M209.2 122.8h1.0M281.9 87.5h1.0M244.5 105.7h1.0M209.6 128.9h1.0M198.0 84.3h1.0M241.4 103.1h1.0M219.3 131.9h1.0M222.3 134.9h1.0M226.7 112.7h1.0M251.5 123.2h1.0M208.9 84.7h1.0M232.4 102.8h1.0M210.8 92.5h1.0M201.6 137.4h1.0M205.4 93.4h1.0M209.7 110.8h1.0M209.4 87.2h1.0M204.9 112.3h1.0M205.4 103.1h1.0M208.4 84.1h1.0M223.6 146.3h1.0M204.2 147.4h1.0M202.3 123.7h1.0M210.0 108.0h1.0M230.9 47.7h1.0M247.7 131.8h1.0M226.8 63.0h1.0M211.0 75.3h1.0M229.1 128.4h1.0M234.7 138.3h1.0M198.6 102.5h1.0M195.0 103.5h1.0M273.0 77.5h1.0M206.8 116.0h1.0M246.4 119.0h1.0M223.3 105.9h1.0M245.3 106.9h1.0M219.5 61.1h1.0M251.1 123.2h1.0M205.6 84.8h1.0M208.3 57.0h1.0M200.0 85.6h1.0M247.3 59.6h1.0M236.2 66.6h1.0M240.4 62.2h1.0M246.3 128.4h1.0M258.1 144.4h1.0M212.7 106.3h1.0M194.8 106.3h1.0M202.8 85.7h1.0M213.1 134.1h1.0M222.3 127.1h1.0M203.0 126.6h1.0M252.1 76.7h1.0M200.6 90.8h1.0M225.1 110.5h1.0M226.5 105.2h1.0M276.3 99.9h1.0M242.0 103.6h1.0M216.0 109.0h1.0M205.6 89.5h1.0M209.5 103.3h1.0M244.0 111.9h1.0M206.2 117.7h1.0M253.0 128.4h1.0M205.9 83.6h1.0M235.2 61.7h1.0M205.8 122.1h1.0M205.5 118.6h1.0M207.2 124.3h1.0M214.7 132.4h1.0M240.7 105.2h1.0M242.6 131.7h1.0M199.9 79.3h1.0M247.3 76.6h1.0M213.2 56.6h1.0M231.7 101.0h1.0M240.4 54.3h1.0M205.1 76.8h1.0M225.3 122.5h1.0M240.9 102.7h1.0M205.0 121.9h1.0M211.4 123.9h1.0M211.7 65.7h1.0M208.4 94.3h1.0M231.4 108.0h1.0M257.6 122.1h1.0M253.6 126.8h1.0M246.0 59.2h1.0M206.7 97.7h1.0M267.0 128.8h1.0M209.9 100.3h1.0M238.9 103.9h1.0M236.9 111.9h1.0M226.5 60.8h1.0M208.1 105.1h1.0M204.5 123.1h1.0M212.3 61.6h1.0M201.0 101.8h1.0M278.5 85.9h1.0M196.6 82.1h1.0M255.1 72.6h1.0M250.1 126.5h1.0M232.8 126.4h1.0M249.6 56.4h1.0M215.7 130.5h1.0M210.4 67.6h1.0M230.5 122.6h1.0M223.3 110.2h1.0M241.8 125.5h1.0M226.4 103.7h1.0M290.1 67.0h1.0M251.3 127.3h1.0M230.4 117.7h1.0M256.5 128.3h1.0M249.0 113.5h1.0M199.6 117.0h1.0M210.6 102.5h1.0M248.6 126.1h1.0M232.9 106.7h1.0M229.3 118.3h1.0M212.7 109.0h1.0M205.2 68.4h1.0M274.1 83.6h1.0M237.1 108.6h1.0M241.8 119.3h1.0M275.4 94.6h1.0M204.2 87.5h1.0M225.8 58.3h1.0M248.1 112.4h1.0M205.3 77.4h1.0M255.8 121.3h1.0M212.3 61.9h1.0M207.6 117.0h1.0M196.1 130.0h1.0M206.9 128.2h1.0M255.8 55.0h1.0M227.8 59.6h1.0M212.9 67.9h1.0M279.4 72.9h1.0M283.3 90.0h1.0M249.3 129.8h1.0M217.8 107.1h1.0M234.9 104.8h1.0M208.7 105.3h1.0M194.8 101.7h1.0M231.0 123.8h1.0M205.3 120.9h1.0M247.9 120.2h1.0M250.2 127.2h1.0M262.8 131.3h1.0M226.1 106.8h1.0M276.2 105.6h1.0M270.7 73.2h1.0M207.9 95.3h1.0M193.7 98.9h1.0M232.0 114.5h1.0M208.8 130.0h1.0M264.5 71.3h1.0M262.8 70.6h1.0M253.1 66.7h1.0M264.0 72.1h1.0M245.3 129.9h1.0M277.0 88.0h1.0M245.9 122.2h1.0M235.1 117.4h1.0M250.1 61.6h1.0M204.6 74.7h1.0M261.4 142.5h1.0M276.4 79.6h1.0M261.6 132.9h1.0M193.0 116.2h1.0M274.9 107.4h1.0M209.9 129.3h1.0M227.7 104.1h1.0M203.9 84.7h1.0M205.5 110.2h1.0M247.1 128.1h1.0M256.7 75.3h1.0M239.9 124.4h1.0M270.0 72.9h1.0M204.9 80.8h1.0M222.1 108.7h1.0M237.1 63.1h1.0M252.7 121.2h1.0M261.1 139.2h1.0M206.6 123.3h1.0M208.6 86.4h1.0M236.8 135.2h1.0M243.8 106.3h1.0M223.9 119.1h1.0M260.9 122.0h1.0M274.5 76.3h1.0M246.9 121.8h1.0M205.0 103.5h1.0M215.2 60.8h1.0M225.5 62.8h1.0M244.5 67.8h1.0M210.5 105.0h1.0M212.9 121.8h1.0M229.6 64.6h1.0M246.3 112.9h1.0M206.7 127.7h1.0M229.5 118.2h1.0M230.7 149.0h1.0M199.1 117.0h1.0M234.2 119.0h1.0M214.7 129.2h1.0M242.5 65.8h1.0M244.8 106.0h1.0M225.9 104.0h1.0M235.7 98.6h1.0M211.6 95.2h1.0M207.4 103.3h1.0M222.3 125.2h1.0M233.1 65.0h1.0M239.8 144.7h1.0M278.8 136.2h1.0M280.6 90.6h1.0M223.1 63.9h1.0M268.5 138.5h1.0M211.3 106.6h1.0M202.5 103.7h1.0M267.0 71.1h1.0M227.8 131.9h1.0M249.5 120.6h1.0M232.4 103.6h1.0M249.4 75.1h1.0M252.1 115.1h1.0M268.8 128.2h1.0M206.8 93.9h1.0M236.4 110.8h1.0M211.0 77.1h1.0M228.0 106.6h1.0M201.1 90.0h1.0M201.8 88.6h1.0M234.5 112.1h1.0M196.7 107.5h1.0M254.7 116.9h1.0M228.8 106.6h1.0M229.3 63.0h1.0M217.6 135.6h1.0M208.5 91.4h1.0M233.2 113.0h1.0M198.1 111.8h1.0M226.7 126.4h1.0M251.7 124.0h1.0M208.0 85.5h1.0M258.9 122.4h1.0M209.9 61.7h1.0M223.0 127.8h1.0M214.4 106.0h1.0M227.6 127.0h1.0M200.9 94.6h1.0M203.2 76.8h1.0M260.5 128.9h1.0M258.4 145.0h1.0M246.5 76.3h1.0M233.7 105.4h1.0M237.2 118.7h1.0M237.2 113.1h1.0M226.0 104.1h1.0M263.7 71.0h1.0M213.1 103.2h1.0M202.7 100.3h1.0M205.1 102.8h1.0M210.6 101.7h1.0M275.9 140.6h1.0M214.1 133.1h1.0M202.0 118.4h1.0M227.6 62.1h1.0M244.9 106.3h1.0M245.4 107.8h1.0M209.1 123.6h1.0M223.1 62.8h1.0M226.4 65.8h1.0M210.0 97.7h1.0M201.3 80.4h1.0M206.2 102.0h1.0M222.9 62.7h1.0M205.4 123.2h1.0M227.6 105.5h1.0M210.9 104.7h1.0M207.1 102.7h1.0M280.8 95.6h1.0M275.2 85.2h1.0M245.6 62.1h1.0M224.3 64.2h1.0M210.0 86.9h1.0M245.4 139.7h1.0M226.7 66.1h1.0M207.8 100.6h1.0M254.5 74.4h1.0M249.3 122.2h1.0M253.5 135.0h1.0M209.0 126.8h1.0M209.3 99.7h1.0M259.9 122.8h1.0M275.7 76.6h1.0M263.7 129.6h1.0M234.4 109.8h1.0M223.7 63.8h1.0M242.6 111.0h1.0M271.1 141.2h1.0M231.0 63.6h1.0M222.0 110.3h1.0M231.3 63.2h1.0M230.1 102.0h1.0M216.5 105.3h1.0M203.0 84.3h1.0M240.1 109.9h1.0M249.9 147.4h1.0M266.0 75.4h1.0M239.4 108.1h1.0M231.7 108.9h1.0M236.7 106.0h1.0M202.4 77.3h1.0M208.8 99.8h1.0M196.8 64.7h1.0M207.7 51.5h1.0M205.7 100.3h1.0M253.0 76.6h1.0M203.0 82.8h1.0M278.0 91.6h1.0M235.1 65.7h1.0M237.3 127.0h1.0M231.8 61.8h1.0M203.6 79.8h1.0M195.6 101.4h1.0M201.6 112.6h1.0M224.0 121.0h1.0M252.8 73.4h1.0M261.1 123.2h1.0M279.8 88.6h1.0M247.2 134.9h1.0M206.5 80.4h1.0M240.6 109.6h1.0M279.6 80.5h1.0M200.0 101.2h1.0M236.7 111.5h1.0M227.2 60.9h1.0M230.0 109.7h1.0M203.6 90.0h1.0M257.5 75.1h1.0M240.4 107.1h1.0M236.7 117.7h1.0M228.3 124.1h1.0M222.1 117.4h1.0M201.7 122.9h1.0M220.5 118.0h1.0M204.4 63.6h1.0M243.7 117.5h1.0M234.9 65.3h1.0M246.1 136.8h1.0M210.7 93.9h1.0M280.9 82.4h1.0M245.0 112.0h1.0M208.8 97.8h1.0M287.1 69.8h1.0M238.6 98.9h1.0M224.7 104.7h1.0M252.5 73.6h1.0M219.1 62.4h1.0M207.0 109.5h1.0M205.7 134.3h1.0M279.0 84.4h1.0M245.7 62.2h1.0M199.6 85.3h1.0M239.9 110.3h1.0M237.9 123.6h1.0M243.6 124.5h1.0M226.1 130.6h1.0M202.1 90.0h1.0M232.8 64.1h1.0M216.3 125.6h1.0M195.1 94.8h1.0M254.2 123.7h1.0M206.0 89.5h1.0M257.2 126.5h1.0M276.9 118.7h1.0M219.7 128.7h1.0M273.2 79.8h1.0M221.1 107.0h1.0M249.4 122.3h1.0M204.0 93.1h1.0M251.2 127.9h1.0M272.4 72.8h1.0M199.7 84.5h1.0M208.8 103.5h1.0M208.0 82.0h1.0M213.9 102.4h1.0M201.6 80.1h1.0M251.6 141.8h1.0M233.7 123.9h1.0M271.0 75.7h1.0M238.9 109.7h1.0M241.6 113.0h1.0M203.4 71.7h1.0M244.0 109.9h1.0M258.5 121.9h1.0M204.0 122.1h1.0M224.1 63.1h1.0M245.0 113.1h1.0M265.5 133.5h1.0M205.7 100.9h1.0M214.6 65.5h1.0M276.2 127.2h1.0M241.1 109.5h1.0M256.0 73.9h1.0M255.5 74.8h1.0M280.2 86.3h1.0M269.7 77.3h1.0M198.7 92.3h1.0M281.0 126.6h1.0M206.2 100.3h1.0M205.2 131.7h1.0M250.6 115.1h1.0M201.1 114.5h1.0M210.0 66.4h1.0M229.6 122.1h1.0M229.4 64.6h1.0M246.5 111.2h1.0M254.0 135.1h1.0M241.6 109.7h1.0M243.1 65.6h1.0M284.4 78.0h1.0M249.1 127.6h1.0M214.3 102.5h1.0M243.8 108.9h1.0M209.2 65.3h1.0M202.7 109.5h1.0M206.4 73.4h1.0M259.2 132.4h1.0M277.4 83.1h1.0M213.0 133.0h1.0M254.1 123.7h1.0M200.4 90.1h1.0M241.1 111.7h1.0M202.5 113.2h1.0M223.4 107.8h1.0M219.2 114.8h1.0M199.2 100.0h1.0M211.9 100.1h1.0M203.9 116.9h1.0M254.1 72.0h1.0M227.1 108.7h1.0M216.8 121.3h1.0M274.2 118.4h1.0M253.3 75.4h1.0M278.0 79.6h1.0M216.8 105.8h1.0M198.2 130.3h1.0M206.8 96.3h1.0M216.6 129.9h1.0M204.8 113.8h1.0M274.8 95.2h1.0M232.9 111.3h1.0M194.4 138.2h1.0M206.1 80.4h1.0M209.9 120.8h1.0M207.6 84.6h1.0M248.6 71.7h1.0M210.2 109.7h1.0M214.8 139.7h1.0M231.7 100.1h1.0M228.5 63.9h1.0M206.7 92.2h1.0M194.9 101.3h1.0M248.1 119.4h1.0M261.5 76.1h1.0M223.8 106.1h1.0M217.7 66.0h1.0M239.1 140.2h1.0M197.0 112.9h1.0M200.9 95.1h1.0M231.3 101.7h1.0M200.6 85.4h1.0M199.5 114.3h1.0M234.3 104.1h1.0M213.8 129.0h1.0M276.6 83.2h1.0M225.0 63.3h1.0M208.2 81.5h1.0M272.3 118.2h1.0M273.9 75.9h1.0M223.9 105.8h1.0M230.6 131.1h1.0M235.2 108.3h1.0M239.9 115.1h1.0M230.9 65.1h1.0M233.9 110.1h1.0M209.8 84.9h1.0M201.8 102.9h1.0M247.5 111.2h1.0M232.1 106.8h1.0M201.4 115.7h1.0M238.7 108.5h1.0M234.7 126.3h1.0M264.9 126.6h1.0M246.5 119.5h1.0M223.9 110.1h1.0M262.4 136.0h1.0M292.9 109.1h1.0M203.5 81.1h1.0M223.6 125.0h1.0M205.0 72.4h1.0M213.9 102.0h1.0M245.7 110.0h1.0M220.9 110.8h1.0M238.1 110.0h1.0M201.2 127.5h1.0M195.4 107.2h1.0M209.5 79.5h1.0M251.8 116.3h1.0M198.7 108.1h1.0M258.4 127.3h1.0M203.4 124.1h1.0M207.5 110.9h1.0M247.6 73.9h1.0M232.5 113.0h1.0M201.0 84.9h1.0M237.2 116.7h1.0M207.1 76.9h1.0M204.5 112.9h1.0M218.4 125.0h1.0M240.0 109.4h1.0M285.2 80.6h1.0M201.4 104.2h1.0M209.8 96.0h1.0M279.0 87.7h1.0M231.9 60.9h1.0M199.1 132.7h1.0M236.0 111.6h1.0M205.4 68.0h1.0M211.7 89.9h1.0M230.6 117.2h1.0M215.3 118.1h1.0M233.1 103.8h1.0M271.4 80.9h1.0M230.6 124.5h1.0M241.4 108.0h1.0M235.1 139.7h1.0M206.3 102.9h1.0M238.9 106.8h1.0M247.3 108.6h1.0M203.7 67.7h1.0M206.6 88.6h1.0M275.4 142.0h1.0M209.3 110.9h1.0M227.3 131.2h1.0M208.8 81.3h1.0M199.7 78.1h1.0M246.2 117.3h1.0M241.6 111.1h1.0M262.7 76.9h1.0M201.8 101.6h1.0M204.8 107.0h1.0M259.5 128.0h1.0M251.5 115.4h1.0M248.2 75.8h1.0M258.5 131.9h1.0M235.4 100.7h1.0M207.0 105.2h1.0M240.5 135.7h1.0M207.1 96.0h1.0M275.5 111.4h1.0M211.5 129.1h1.0M217.1 63.8h1.0M207.2 71.5h1.0M245.0 106.7h1.0M195.7 97.0h1.0M263.0 71.0h1.0M237.7 104.9h1.0M230.1 63.9h1.0M215.7 107.0h1.0M221.7 128.9h1.0M231.9 104.9h1.0M254.3 121.0h1.0M218.2 107.7h1.0M212.9 66.7h1.0M234.2 104.3h1.0M213.3 61.3h1.0M211.1 125.0h1.0M263.2 134.9h1.0M210.7 65.7h1.0M225.7 136.2h1.0M226.4 107.2h1.0M232.5 112.4h1.0M245.8 112.7h1.0M238.7 129.4h1.0M211.3 134.5h1.0M204.0 86.3h1.0M246.5 127.7h1.0M210.7 71.9h1.0M225.9 136.6h1.0M227.0 111.1h1.0M224.1 105.6h1.0M225.5 107.3h1.0M211.2 123.3h1.0M280.2 97.1h1.0M206.9 77.1h1.0M205.0 70.2h1.0M275.1 71.7h1.0M204.7 128.6h1.0M205.0 89.3h1.0M256.7 75.1h1.0M224.1 106.3h1.0M219.1 63.0h1.0M208.1 101.4h1.0M208.9 66.0h1.0M237.7 106.8h1.0M226.7 108.6h1.0M206.9 114.9h1.0M199.3 104.9h1.0M201.6 117.3h1.0M255.2 134.9h1.0M207.4 95.5h1.0M224.3 61.1h1.0M245.6 125.9h1.0M226.4 106.8h1.0M245.2 124.7h1.0M252.9 125.5h1.0M203.1 83.8h1.0M245.4 63.8h1.0M207.7 125.1h1.0M231.6 110.9h1.0M249.9 124.7h1.0M199.4 104.3h1.0M230.1 117.1h1.0M193.1 90.6h1.0M246.2 116.3h1.0M229.1 119.1h1.0M237.0 109.3h1.0M235.9 96.0h1.0M208.5 74.5h1.0M232.1 118.9h1.0M246.1 111.1h1.0M198.7 109.9h1.0M234.0 134.1h1.0M196.7 114.0h1.0M274.4 84.8h1.0M227.0 118.5h1.0M257.1 124.3h1.0M201.4 94.3h1.0M250.7 120.1h1.0M200.9 120.7h1.0M230.8 138.8h1.0M207.6 78.8h1.0M248.9 126.3h1.0M200.3 97.7h1.0M207.0 62.4h1.0M205.3 95.4h1.0M238.9 130.7h1.0M207.7 114.2h1.0M195.1 110.6h1.0M275.9 83.4h1.0M233.2 118.0h1.0M231.5 102.6h1.0M249.6 70.9h1.0M236.8 98.2h1.0M235.2 100.6h1.0M202.3 109.7h1.0M248.8 127.8h1.0M266.0 129.9h1.0M224.8 107.2h1.0M247.0 73.5h1.0M244.6 108.0h1.0M246.0 115.3h1.0M257.8 76.6h1.0M228.9 136.9h1.0M239.9 127.9h1.0M203.3 106.3h1.0M237.0 105.8h1.0M254.4 135.1h1.0M247.3 135.9h1.0M246.1 121.0h1.0M245.0 113.9h1.0M220.8 132.2h1.0M212.0 104.1h1.0M258.9 75.3h1.0M225.5 65.8h1.0M212.0 101.6h1.0M233.5 113.7h1.0M261.8 75.7h1.0M217.1 63.2h1.0M227.4 106.8h1.0M272.0 107.5h1.0M241.6 137.4h1.0M216.4 132.4h1.0M229.8 114.1h1.0M212.6 99.9h1.0M202.6 109.4h1.0M250.0 122.2h1.0M216.4 124.1h1.0M259.8 123.0h1.0M206.7 95.0h1.0M223.5 62.3h1.0M208.1 73.1h1.0M204.1 98.4h1.0M262.0 74.1h1.0M216.8 110.9h1.0M228.9 121.5h1.0M222.6 106.6h1.0M222.6 60.8h1.0M244.8 115.1h1.0M227.7 65.5h1.0M208.7 86.8h1.0M207.9 81.6h1.0M208.2 79.2h1.0M231.3 111.3h1.0M237.5 127.3h1.0M195.9 105.8h1.0M266.4 71.1h1.0M211.1 94.9h1.0M280.2 51.8h1.0M205.8 66.7h1.0M205.0 144.3h1.0M251.3 147.4h1.0M248.5 124.7h1.0M199.5 131.2h1.0M223.1 120.1h1.0M248.4 77.4h1.0M209.4 78.4h1.0M206.1 66.3h1.0M278.4 105.2h1.0M251.8 132.6h1.0M227.3 133.2h1.0M242.1 64.2h1.0M206.4 113.5h1.0M204.0 87.8h1.0M244.0 126.8h1.0M259.6 122.7h1.0M227.9 103.5h1.0M255.9 136.5h1.0M246.0 108.8h1.0M199.3 99.4h1.0M214.3 129.1h1.0M269.5 134.7h1.0M266.3 133.3h1.0M233.1 108.1h1.0M250.1 132.7h1.0M214.4 124.1h1.0M238.6 106.6h1.0M204.4 71.8h1.0M255.9 74.4h1.0M208.8 96.4h1.0M219.9 61.5h1.0M243.1 106.3h1.0M241.6 105.7h1.0M210.6 110.6h1.0M279.6 76.7h1.0M214.8 61.1h1.0M205.7 95.2h1.0M221.8 65.1h1.0M210.7 63.8h1.0M237.4 113.3h1.0M215.2 64.3h1.0M245.1 115.2h1.0M205.3 122.4h1.0M210.6 103.4h1.0M255.3 128.0h1.0M233.6 127.7h1.0M216.2 140.4h1.0M204.7 62.9h1.0M223.8 52.2h1.0M207.9 90.6h1.0M199.3 119.1h1.0M238.7 127.9h1.0M206.2 100.6h1.0M236.1 107.0h1.0M230.9 124.1h1.0M233.8 63.4h1.0M251.2 135.9h1.0M226.1 139.3h1.0M225.3 62.1h1.0M225.2 110.4h1.0M223.2 63.2h1.0M220.9 109.5h1.0M231.9 102.9h1.0M207.4 99.6h1.0M211.1 85.3h1.0M203.0 83.0h1.0M202.3 103.9h1.0M232.5 102.7h1.0M203.8 73.0h1.0M277.8 82.8h1.0M237.1 66.5h1.0M272.6 117.9h1.0M236.0 65.8h1.0M248.0 66.2h1.0M223.5 62.0h1.0M230.8 120.1h1.0M219.9 129.8h1.0M217.9 107.6h1.0M264.1 75.3h1.0M264.7 143.5h1.0M242.6 117.5h1.0M209.9 66.1h1.0M197.5 121.2h1.0M202.5 88.5h1.0M203.6 105.4h1.0M237.3 111.7h1.0M250.0 127.0h1.0M229.1 101.7h1.0M209.7 98.7h1.0M243.5 68.6h1.0M249.8 117.6h1.0M208.2 79.7h1.0M239.9 108.2h1.0M258.8 76.8h1.0M239.0 102.7h1.0M210.0 119.4h1.0M204.5 105.2h1.0M263.7 63.4h1.0M220.1 114.9h1.0M248.4 119.1h1.0M198.4 116.8h1.0M232.2 108.9h1.0M234.1 131.1h1.0M257.9 72.7h1.0M229.3 101.7h1.0M218.5 129.2h1.0M228.8 111.6h1.0M238.1 103.9h1.0M257.6 140.7h1.0M211.0 79.5h1.0M236.6 108.0h1.0M226.2 59.8h1.0M232.2 105.7h1.0M204.6 87.6h1.0M242.0 112.0h1.0M239.8 101.9h1.0M207.2 115.0h1.0M236.7 137.7h1.0M238.3 118.4h1.0M263.2 137.9h1.0M203.9 57.5h1.0M230.6 125.1h1.0M244.6 126.5h1.0M252.0 136.7h1.0M238.0 140.2h1.0M207.2 91.4h1.0M236.1 62.4h1.0M241.4 104.4h1.0M242.8 110.2h1.0M209.0 68.1h1.0M225.2 104.6h1.0M242.7 104.3h1.0M209.6 107.9h1.0M226.5 113.7h1.0M224.6 108.0h1.0M227.7 106.8h1.0M276.8 98.2h1.0M274.9 128.4h1.0M235.7 104.5h1.0M217.1 121.3h1.0M214.3 110.0h1.0M213.5 132.0h1.0M278.5 79.7h1.0M195.8 113.7h1.0M210.9 82.5h1.0M199.0 121.7h1.0M213.6 106.5h1.0M230.6 101.4h1.0M245.4 106.9h1.0M220.6 107.9h1.0M209.7 65.6h1.0M223.1 124.9h1.0M277.9 107.4h1.0M215.2 130.0h1.0M252.3 124.8h1.0M253.0 136.3h1.0M210.5 103.6h1.0M239.9 101.7h1.0M220.3 131.6h1.0M250.3 112.6h1.0M215.4 136.0h1.0M206.4 84.4h1.0M243.4 108.9h1.0M271.6 81.8h1.0M255.2 72.0h1.0M251.8 123.4h1.0M227.5 135.2h1.0M229.4 133.0h1.0M199.9 89.4h1.0M238.6 122.9h1.0M203.1 107.1h1.0M214.7 107.0h1.0M199.8 73.6h1.0M209.3 81.6h1.0M224.5 105.1h1.0M201.8 117.4h1.0M210.2 130.3h1.0M250.8 62.4h1.0M246.3 115.6h1.0M201.3 109.2h1.0M259.5 123.5h1.0M208.2 101.0h1.0M225.9 111.8h1.0M243.1 66.0h1.0M207.2 95.8h1.0M252.2 127.9h1.0M206.1 81.7h1.0M214.6 103.1h1.0M246.4 64.7h1.0M303.2 83.7h1.0M211.7 120.6h1.0M201.4 92.4h1.0M205.9 92.4h1.0M206.1 73.0h1.0M194.9 92.4h1.0M236.4 106.1h1.0M204.3 67.2h1.0M193.7 97.7h1.0M249.3 131.7h1.0M222.0 63.9h1.0M264.4 73.5h1.0M215.9 137.3h1.0M231.0 101.7h1.0M211.4 75.6h1.0M197.8 102.8h1.0M234.8 104.7h1.0M211.6 64.9h1.0M280.0 91.3h1.0M217.9 62.8h1.0M215.6 108.9h1.0M212.2 67.4h1.0M273.5 95.4h1.0M203.7 88.3h1.0M275.4 97.9h1.0M225.1 110.0h1.0M225.8 112.1h1.0M273.6 74.0h1.0M222.5 106.1h1.0M241.3 120.3h1.0M200.5 89.3h1.0M228.0 105.7h1.0M221.5 124.2h1.0M200.1 96.3h1.0M225.1 134.0h1.0M206.2 75.2h1.0M255.8 126.2h1.0M202.1 70.3h1.0M241.6 105.4h1.0M215.1 106.2h1.0M228.7 129.0h1.0M272.5 139.2h1.0M214.6 105.1h1.0M236.6 116.2h1.0M246.3 109.1h1.0M211.1 93.9h1.0M207.7 98.1h1.0M197.1 98.1h1.0M244.7 110.0h1.0M261.5 142.1h1.0M231.0 103.8h1.0M205.4 105.4h1.0M213.4 71.7h1.0M208.2 79.9h1.0M222.9 106.2h1.0M249.3 126.7h1.0M232.0 102.8h1.0M289.0 79.9h1.0M240.5 126.5h1.0M200.2 118.4h1.0M230.4 107.7h1.0M203.5 78.2h1.0M278.1 89.5h1.0M234.8 123.9h1.0M226.3 106.6h1.0M217.2 110.1h1.0M226.0 103.5h1.0M220.7 123.6h1.0M230.0 59.4h1.0M206.9 121.4h1.0M303.0 92.6h1.0M218.8 123.8h1.0M276.9 79.4h1.0M209.1 98.2h1.0M229.0 111.5h1.0M276.8 77.0h1.0M263.4 75.2h1.0M211.9 89.0h1.0M226.6 127.0h1.0M261.7 74.6h1.0M256.1 57.2h1.0M209.0 113.3h1.0M261.7 141.1h1.0M247.6 109.8h1.0M250.8 123.5h1.0M219.2 123.4h1.0M240.0 106.1h1.0M243.4 131.7h1.0M202.1 97.4h1.0M302.5 137.1h1.0M243.5 143.1h1.0M201.4 95.2h1.0M203.9 109.2h1.0M243.6 115.9h1.0M214.0 106.4h1.0M230.2 125.9h1.0M258.3 76.3h1.0M237.1 63.6h1.0M223.0 129.9h1.0M238.8 63.1h1.0M234.9 99.9h1.0M221.6 109.1h1.0M210.1 62.0h1.0M239.8 109.1h1.0M250.8 132.6h1.0M236.5 104.2h1.0M248.5 120.3h1.0M282.0 133.3h1.0M211.9 98.2h1.0M262.4 133.7h1.0M260.0 75.8h1.0M229.7 102.7h1.0M225.2 113.6h1.0M211.0 91.8h1.0M273.2 111.1h1.0M220.3 60.2h1.0M206.2 55.4h1.0M229.8 103.2h1.0M248.9 111.6h1.0M230.4 115.5h1.0M235.0 111.7h1.0M264.7 132.3h1.0M273.8 99.2h1.0M227.8 106.2h1.0M211.4 106.2h1.0M232.7 61.4h1.0M266.3 71.3h1.0M264.7 132.4h1.0M228.9 64.0h1.0M209.8 96.8h1.0M246.5 110.5h1.0M202.0 103.5h1.0M195.4 143.1h1.0M204.1 74.2h1.0M238.1 101.8h1.0M211.3 72.8h1.0M221.9 45.6h1.0M246.2 64.0h1.0M216.0 62.8h1.0M224.9 104.4h1.0M243.5 114.9h1.0M208.8 88.6h1.0M200.5 132.4h1.0M236.1 97.4h1.0M229.9 62.4h1.0M227.7 102.8h1.0M273.2 134.0h1.0M227.5 104.3h1.0M209.2 113.9h1.0M198.2 117.6h1.0M211.0 80.1h1.0M253.7 133.2h1.0M207.0 102.2h1.0M219.9 125.2h1.0M248.8 143.8h1.0M211.4 78.7h1.0M225.2 105.7h1.0M232.2 101.6h1.0M228.5 123.2h1.0M228.2 122.3h1.0M243.7 109.1h1.0M225.8 110.4h1.0M225.7 121.9h1.0M270.9 116.0h1.0M248.7 124.5h1.0M252.3 128.1h1.0M263.6 139.2h1.0M209.6 78.7h1.0M203.6 122.5h1.0M223.9 141.6h1.0M216.8 131.2h1.0M266.4 134.4h1.0M227.9 111.7h1.0M223.6 131.8h1.0M277.3 87.7h1.0M240.0 116.3h1.0M216.5 112.3h1.0M212.5 67.1h1.0M197.6 91.5h1.0M211.2 128.4h1.0M204.6 93.9h1.0M229.6 63.6h1.0M198.5 62.9h1.0M276.4 117.6h1.0M244.2 117.8h1.0M261.7 133.5h1.0M224.2 108.2h1.0M210.5 131.6h1.0M265.5 134.8h1.0M210.9 89.9h1.0M228.7 112.4h1.0M242.0 119.4h1.0M226.1 109.1h1.0M249.4 136.9h1.0M225.7 131.5h1.0M214.1 118.4h1.0M257.6 74.3h1.0M226.3 107.4h1.0M236.2 106.8h1.0M196.9 108.3h1.0M206.2 94.8h1.0M246.4 126.1h1.0M263.8 143.6h1.0M203.4 96.6h1.0M239.0 64.6h1.0M238.7 66.5h1.0M215.9 65.2h1.0M280.8 138.3h1.0M201.3 79.7h1.0M203.7 86.4h1.0M225.7 63.4h1.0M229.3 63.0h1.0M220.7 64.9h1.0M227.5 105.4h1.0M216.6 106.8h1.0M202.0 114.3h1.0M194.2 95.1h1.0M206.5 128.2h1.0M269.9 128.7h1.0M208.1 80.6h1.0M275.1 76.7h1.0M249.4 123.3h1.0M247.3 76.6h1.0M231.9 63.5h1.0M243.1 122.9h1.0M257.4 75.1h1.0M211.7 67.9h1.0M208.8 96.7h1.0M245.2 109.5h1.0M272.5 142.0h1.0M255.6 142.6h1.0M229.2 103.8h1.0M203.9 78.9h1.0M196.5 101.7h1.0M275.4 80.1h1.0M198.9 131.9h1.0M273.6 89.3h1.0M208.0 76.9h1.0M232.8 107.6h1.0M201.4 103.9h1.0M209.0 87.2h1.0M276.8 83.4h1.0M256.5 130.7h1.0M247.9 76.5h1.0M258.0 120.2h1.0M231.2 106.4h1.0M229.2 109.5h1.0M248.4 67.5h1.0M276.8 85.7h1.0M195.9 102.8h1.0M245.8 136.8h1.0M223.3 62.4h1.0M240.2 110.2h1.0M273.8 109.2h1.0M238.0 97.9h1.0M257.5 130.7h1.0M237.4 105.3h1.0M199.4 115.9h1.0M228.3 64.5h1.0M213.4 63.0h1.0M201.1 95.4h1.0M220.4 64.5h1.0M209.3 98.4h1.0M252.5 132.4h1.0M221.9 110.1h1.0M234.2 125.5h1.0M236.0 62.0h1.0M202.9 84.2h1.0M238.0 106.3h1.0M205.2 99.8h1.0M221.2 119.5h1.0M205.7 101.8h1.0M212.9 145.5h1.0M256.2 76.1h1.0M233.9 103.7h1.0M277.5 133.3h1.0M279.1 77.2h1.0M203.4 61.7h1.0M205.1 96.3h1.0M241.2 57.5h1.0M239.3 116.2h1.0M242.9 105.9h1.0M200.8 126.6h1.0M264.0 131.3h1.0M246.0 130.2h1.0M267.0 70.8h1.0M203.0 121.6h1.0M237.4 105.5h1.0M204.3 96.2h1.0M246.4 126.7h1.0M205.7 88.8h1.0M267.7 131.9h1.0M257.3 142.0h1.0M203.6 126.9h1.0M206.0 92.5h1.0M283.8 135.5h1.0M218.0 130.2h1.0M263.8 75.3h1.0M258.0 134.4h1.0M254.3 126.1h1.0M213.8 121.6h1.0M229.2 108.9h1.0M245.0 133.8h1.0M207.0 102.5h1.0M227.2 108.7h1.0M218.3 107.6h1.0M199.7 106.6h1.0M214.9 66.0h1.0M273.1 128.7h1.0M256.2 135.6h1.0M220.6 121.2h1.0M216.0 105.7h1.0M201.6 97.7h1.0M273.7 72.5h1.0M208.3 101.5h1.0M238.6 104.7h1.0M267.3 77.7h1.0M276.7 89.9h1.0M202.9 111.8h1.0M234.4 64.8h1.0M215.4 105.9h1.0M211.7 97.5h1.0M222.5 64.4h1.0M260.0 125.2h1.0M253.6 69.7h1.0M221.2 111.1h1.0M199.7 98.1h1.0M240.5 102.2h1.0M287.9 76.6h1.0M214.5 129.0h1.0M250.4 130.4h1.0M210.8 98.7h1.0M214.7 105.0h1.0M207.6 88.8h1.0M237.2 107.6h1.0M200.2 116.7h1.0M272.5 84.0h1.0M239.8 128.9h1.0M267.9 130.4h1.0M252.5 130.0h1.0M219.2 108.7h1.0M206.9 102.6h1.0M202.0 135.0h1.0M226.8 63.0h1.0M278.6 84.8h1.0M235.0 140.4h1.0M215.9 64.1h1.0M205.2 93.6h1.0M266.3 75.0h1.0M194.9 104.9h1.0M264.4 132.9h1.0M277.4 81.7h1.0M214.3 65.2h1.0M200.3 90.4h1.0M209.7 92.9h1.0M198.1 121.4h1.0M278.2 84.0h1.0M207.6 61.2h1.0M197.7 100.6h1.0M250.7 117.5h1.0M201.0 87.6h1.0M217.2 63.7h1.0M246.9 137.5h1.0M238.2 96.5h1.0M200.5 77.7h1.0M236.9 112.7h1.0M228.3 106.6h1.0M204.3 67.2h1.0M209.1 66.5h1.0M252.1 139.9h1.0M250.6 134.6h1.0M245.0 112.6h1.0M231.7 109.3h1.0M248.6 133.9h1.0M210.4 89.4h1.0M217.3 63.5h1.0M247.1 108.2h1.0M200.3 126.7h1.0M215.0 107.6h1.0M236.0 102.4h1.0M273.0 75.9h1.0M259.1 70.5h1.0M210.7 128.0h1.0M225.4 65.7h1.0M245.8 125.1h1.0M209.4 98.0h1.0M240.8 106.2h1.0M267.0 131.5h1.0M221.3 127.9h1.0M216.7 63.7h1.0M230.9 119.6h1.0M256.9 118.9h1.0M231.4 111.9h1.0M230.4 130.4h1.0M222.8 64.3h1.0M239.8 129.0h1.0M232.4 99.8h1.0M215.4 105.2h1.0M227.0 105.7h1.0M278.5 80.6h1.0M210.0 82.0h1.0M209.1 107.0h1.0M210.1 98.2h1.0M238.0 104.0h1.0M204.1 81.3h1.0M276.3 79.1h1.0M236.4 108.2h1.0M198.8 74.3h1.0M237.4 103.0h1.0M229.3 66.0h1.0M243.4 119.3h1.0M200.0 112.4h1.0M214.5 105.7h1.0M209.8 84.8h1.0M244.0 129.5h1.0M253.1 127.9h1.0M222.3 48.8h1.0M214.9 105.0h1.0M252.1 124.0h1.0M195.0 82.4h1.0M204.4 130.1h1.0M214.6 110.4h1.0M208.5 120.8h1.0M254.2 59.3h1.0M209.4 97.9h1.0M214.5 107.1h1.0M302.8 55.2h1.0M241.8 114.8h1.0M273.8 85.3h1.0M239.0 114.5h1.0M211.7 109.4h1.0M196.9 127.2h1.0M202.3 96.8h1.0M239.2 104.9h1.0M290.0 146.3h1.0M205.4 93.9h1.0M214.7 135.9h1.0M203.3 76.7h1.0M209.1 131.1h1.0M253.9 125.4h1.0M232.3 106.7h1.0M210.9 90.3h1.0M269.1 77.4h1.0M203.7 92.1h1.0M240.0 109.7h1.0M285.2 77.0h1.0M233.8 105.3h1.0M217.1 111.0h1.0M218.9 110.2h1.0M204.7 102.1h1.0M211.2 123.7h1.0M202.3 82.4h1.0M210.0 103.8h1.0M243.2 110.0h1.0M249.0 124.7h1.0M216.6 107.2h1.0M225.4 136.6h1.0M262.6 145.1h1.0M196.9 101.3h1.0M220.8 64.7h1.0M209.8 66.8h1.0M235.6 62.8h1.0M306.3 146.3h1.0M241.3 111.1h1.0M262.4 73.8h1.0M206.2 97.2h1.0M204.7 86.5h1.0M196.9 102.3h1.0M232.1 133.5h1.0M204.6 84.7h1.0M223.8 116.4h1.0M228.9 103.6h1.0M207.4 57.2h1.0M206.9 73.4h1.0M219.3 141.6h1.0M249.8 75.4h1.0M252.7 119.3h1.0M243.1 112.6h1.0M264.3 132.4h1.0M195.3 121.3h1.0M229.1 106.2h1.0M204.7 123.3h1.0M210.1 59.7h1.0M284.3 83.7h1.0M208.6 87.0h1.0M214.9 118.2h1.0M256.1 71.1h1.0M203.3 87.1h1.0M232.5 111.4h1.0M268.1 138.0h1.0M240.9 117.5h1.0M281.1 82.6h1.0M245.8 68.5h1.0M240.8 110.9h1.0M207.7 98.4h1.0M211.1 117.2h1.0M203.2 85.9h1.0M237.5 109.5h1.0M266.3 134.5h1.0M239.2 105.9h1.0M263.4 76.7h1.0M247.7 61.1h1.0M232.1 46.8h1.0M229.1 136.9h1.0M213.1 133.7h1.0M270.4 127.2h1.0M235.2 103.9h1.0M198.7 88.0h1.0M199.6 109.6h1.0M238.9 102.3h1.0M236.4 104.0h1.0M199.7 115.6h1.0M236.5 121.3h1.0M206.7 88.3h1.0M224.0 115.6h1.0M260.2 136.1h1.0M209.7 123.3h1.0M209.9 102.6h1.0M205.6 118.4h1.0M207.2 79.5h1.0M205.1 112.9h1.0M237.1 61.6h1.0M201.9 134.0h1.0M219.2 140.9h1.0M207.6 77.5h1.0M215.1 62.9h1.0M254.2 118.2h1.0M208.3 132.9h1.0M207.0 72.9h1.0M251.8 122.4h1.0M222.3 124.8h1.0M234.1 141.4h1.0M210.2 67.0h1.0M216.1 118.8h1.0M206.2 84.0h1.0M274.8 96.2h1.0M230.1 106.6h1.0M209.1 73.3h1.0M237.3 100.3h1.0M246.7 118.2h1.0M244.0 64.7h1.0M221.8 54.8h1.0M248.3 73.7h1.0M241.9 132.7h1.0M229.0 103.6h1.0M254.1 134.0h1.0M254.4 122.7h1.0M228.8 61.8h1.0M230.7 62.1h1.0M253.3 71.6h1.0M204.4 84.5h1.0M238.9 109.2h1.0M232.1 100.3h1.0M268.2 136.2h1.0M205.9 61.9h1.0M244.8 106.5h1.0M239.3 121.5h1.0M216.9 110.6h1.0M215.2 135.9h1.0M257.2 75.7h1.0M205.0 92.0h1.0M240.2 109.9h1.0M238.6 109.2h1.0M224.3 109.2h1.0M206.9 136.6h1.0M224.9 104.7h1.0M257.3 138.5h1.0M204.8 86.6h1.0M230.5 121.6h1.0M221.6 121.6h1.0M230.8 108.2h1.0M204.0 112.3h1.0M271.9 137.9h1.0M242.7 62.1h1.0M207.0 79.5h1.0M230.8 126.2h1.0M199.2 62.0h1.0M211.5 77.2h1.0M206.1 111.1h1.0M232.7 130.9h1.0M214.3 102.9h1.0M207.1 96.8h1.0M274.8 74.0h1.0M247.1 108.7h1.0M225.8 108.9h1.0M200.8 96.7h1.0M214.6 117.0h1.0M257.3 76.6h1.0M208.7 109.8h1.0M242.9 104.9h1.0M272.2 74.5h1.0M248.5 120.6h1.0M256.9 72.1h1.0M248.7 128.6h1.0M207.1 109.7h1.0M214.9 103.7h1.0M199.1 110.8h1.0M208.6 106.5h1.0M271.3 74.6h1.0M267.6 136.3h1.0M203.0 67.3h1.0M203.6 99.9h1.0M243.1 127.0h1.0M209.7 107.6h1.0M203.8 96.0h1.0M222.5 116.0h1.0M205.3 96.4h1.0M220.6 141.1h1.0M211.5 122.8h1.0M235.5 121.3h1.0M260.1 64.2h1.0M210.0 132.6h1.0M261.0 132.9h1.0M198.1 105.5h1.0M207.4 82.0h1.0M246.5 111.2h1.0M251.5 65.5h1.0M229.4 108.8h1.0M211.6 68.4h1.0M231.0 106.0h1.0M226.2 65.5h1.0M243.5 109.0h1.0M207.0 95.2h1.0M266.0 138.9h1.0M206.8 83.3h1.0M235.8 64.5h1.0M286.8 120.2h1.0M263.1 135.3h1.0M237.3 110.8h1.0M235.0 127.1h1.0M209.3 84.5h1.0M230.8 66.0h1.0M221.1 64.5h1.0M203.6 96.0h1.0M242.9 105.7h1.0M207.0 129.8h1.0M219.8 64.8h1.0M282.3 46.9h1.0M242.1 62.9h1.0M245.1 133.6h1.0M206.1 112.1h1.0M227.1 65.5h1.0M209.9 103.6h1.0M221.5 106.9h1.0M278.5 101.9h1.0M227.1 107.8h1.0M214.7 136.5h1.0M229.3 120.5h1.0M233.5 110.9h1.0M243.2 126.9h1.0M278.6 79.6h1.0M233.2 109.1h1.0M223.3 63.8h1.0M248.8 67.9h1.0M204.5 117.8h1.0M211.5 97.6h1.0M238.4 105.4h1.0M215.8 110.6h1.0M248.2 58.7h1.0M266.2 76.5h1.0M221.1 130.0h1.0M208.3 90.9h1.0M202.8 83.9h1.0M194.2 125.0h1.0M274.6 81.1h1.0M248.3 116.1h1.0M229.9 62.3h1.0M257.9 119.9h1.0M231.5 123.7h1.0M246.0 62.9h1.0M214.7 122.9h1.0M228.4 126.2h1.0M279.2 120.1h1.0M216.2 106.7h1.0M226.1 130.0h1.0M265.4 71.5h1.0M219.2 109.9h1.0M243.1 111.8h1.0M244.5 110.4h1.0M257.5 75.1h1.0M217.9 59.5h1.0M232.8 139.1h1.0M203.2 91.5h1.0M220.9 60.9h1.0M207.2 89.0h1.0M206.8 102.5h1.0M211.3 116.5h1.0M203.5 109.1h1.0M204.6 99.1h1.0M225.6 106.4h1.0M254.0 116.6h1.0M274.5 102.6h1.0M201.3 68.7h1.0M250.7 126.2h1.0M236.1 99.5h1.0M196.5 118.5h1.0M194.0 66.5h1.0M239.2 106.2h1.0M208.4 95.1h1.0M252.8 117.4h1.0M247.2 110.9h1.0M211.4 72.4h1.0M211.0 114.2h1.0M259.3 135.9h1.0M207.9 131.1h1.0M231.6 106.2h1.0M199.6 101.9h1.0M199.4 105.4h1.0M234.5 105.4h1.0M237.7 103.5h1.0M276.4 80.2h1.0M222.5 61.9h1.0M201.5 119.4h1.0M200.2 88.4h1.0M249.1 127.4h1.0M206.0 75.9h1.0M199.7 106.6h1.0M275.9 90.3h1.0M216.6 109.3h1.0M214.8 122.0h1.0M275.6 104.9h1.0M218.5 123.8h1.0M241.0 108.7h1.0M224.3 106.8h1.0M237.6 127.6h1.0M225.9 60.8h1.0M213.6 70.6h1.0M243.7 121.5h1.0M216.0 109.1h1.0M206.9 99.1h1.0M263.1 133.7h1.0M212.3 120.2h1.0M210.3 77.4h1.0M244.7 119.4h1.0M205.6 113.5h1.0M220.1 117.1h1.0M198.1 102.2h1.0M215.2 64.7h1.0M269.0 136.1h1.0M266.8 127.0h1.0M224.7 64.7h1.0M207.2 83.7h1.0M217.8 123.6h1.0M253.7 138.4h1.0M267.3 66.1h1.0M247.2 127.1h1.0M207.0 86.6h1.0M207.5 91.9h1.0M195.2 66.7h1.0M212.3 107.4h1.0M261.3 131.8h1.0M239.6 65.0h1.0M211.1 110.8h1.0M229.7 105.6h1.0M259.3 125.1h1.0M193.9 110.6h1.0M237.8 131.8h1.0M247.4 132.7h1.0M222.9 105.7h1.0M214.1 66.1h1.0M262.5 73.8h1.0M258.7 76.5h1.0M246.7 117.7h1.0M205.1 98.3h1.0M223.9 130.1h1.0M228.4 107.9h1.0M245.9 128.0h1.0M227.5 103.1h1.0M215.9 107.3h1.0M214.9 63.4h1.0M218.7 66.0h1.0M226.6 115.5h1.0M239.5 111.5h1.0M206.8 89.6h1.0M203.4 126.8h1.0M233.7 110.9h1.0M215.0 107.0h1.0M203.0 98.1h1.0M272.0 73.9h1.0M209.9 97.3h1.0M218.7 62.2h1.0M216.4 116.8h1.0M243.0 110.0h1.0M274.8 79.7h1.0M199.3 76.1h1.0M228.5 103.8h1.0M253.3 115.7h1.0M214.4 114.0h1.0M226.8 108.8h1.0M209.8 126.6h1.0M231.9 104.8h1.0M273.7 102.2h1.0M231.9 121.2h1.0M219.2 64.4h1.0M220.5 127.3h1.0M208.5 78.1h1.0M206.7 61.9h1.0M207.7 75.8h1.0M246.6 109.2h1.0M211.4 100.1h1.0M221.0 109.3h1.0M225.5 123.2h1.0M207.3 97.6h1.0M222.8 121.6h1.0M203.1 99.0h1.0M208.8 110.2h1.0M262.6 138.4h1.0M234.0 128.6h1.0M198.6 107.1h1.0M217.6 64.9h1.0M203.0 70.1h1.0M222.1 62.3h1.0M219.2 126.9h1.0M277.0 83.7h1.0M272.0 76.4h1.0M269.6 132.5h1.0M231.8 107.8h1.0M201.5 95.6h1.0M228.8 102.4h1.0M211.9 63.6h1.0M212.3 110.1h1.0M208.3 85.7h1.0M210.9 98.2h1.0M222.4 124.1h1.0M200.7 101.4h1.0M236.9 98.3h1.0M194.8 113.9h1.0M224.8 124.6h1.0M243.0 115.9h1.0M245.6 113.6h1.0M208.9 80.6h1.0M224.4 107.0h1.0M206.9 103.8h1.0M207.0 98.9h1.0M244.6 134.4h1.0M199.3 95.0h1.0M228.0 118.8h1.0M209.2 91.9h1.0M216.2 63.7h1.0M226.3 128.3h1.0M227.9 131.7h1.0M251.3 76.5h1.0M273.3 137.5h1.0M237.9 103.9h1.0M212.2 118.5h1.0M207.6 85.7h1.0M260.8 126.4h1.0M207.9 89.0h1.0M211.5 126.7h1.0M222.8 121.2h1.0M230.7 141.9h1.0M246.4 129.7h1.0M207.0 88.5h1.0M275.8 91.8h1.0M216.5 105.8h1.0M273.9 102.9h1.0M230.1 107.3h1.0M238.1 107.5h1.0M250.6 123.5h1.0M203.7 107.7h1.0M205.1 131.0h1.0M243.8 116.8h1.0M232.5 125.5h1.0M266.0 73.0h1.0M212.1 106.9h1.0M239.4 101.5h1.0M241.0 107.1h1.0M238.6 105.0h1.0M221.5 65.3h1.0M213.5 108.4h1.0M241.9 62.4h1.0M193.4 106.9h1.0M254.0 127.7h1.0M211.6 94.2h1.0M196.1 76.8h1.0M233.9 104.8h1.0M244.5 68.3h1.0M204.5 126.5h1.0M252.3 118.3h1.0M288.0 65.8h1.0M247.3 114.9h1.0M211.8 83.9h1.0M197.3 115.3h1.0M276.2 76.9h1.0M246.1 66.1h1.0M256.3 75.9h1.0M224.2 133.9h1.0M239.8 108.4h1.0M253.9 71.3h1.0M237.4 65.4h1.0M273.1 76.9h1.0M233.6 103.0h1.0M219.0 114.4h1.0M232.2 111.4h1.0M239.5 116.5h1.0M202.6 89.8h1.0M221.7 61.8h1.0M215.9 113.1h1.0M226.4 104.1h1.0M220.0 130.8h1.0M215.7 106.7h1.0M278.2 141.0h1.0M254.5 138.5h1.0M266.1 129.0h1.0M256.0 134.2h1.0M277.9 100.0h1.0M246.6 140.8h1.0M248.3 116.9h1.0M260.7 74.1h1.0M221.4 62.8h1.0M238.7 62.6h1.0M217.1 108.4h1.0M236.2 104.6h1.0M199.3 79.9h1.0M208.0 125.9h1.0M217.7 133.0h1.0M208.9 83.2h1.0M236.5 108.9h1.0M207.6 131.8h1.0M223.2 114.7h1.0M208.9 106.1h1.0M210.7 62.7h1.0M222.0 107.1h1.0M232.7 102.3h1.0M252.5 74.6h1.0M210.8 96.1h1.0M209.5 121.0h1.0M205.9 71.2h1.0M203.1 126.4h1.0M243.5 65.5h1.0M243.1 60.5h1.0M219.6 65.2h1.0M233.4 105.7h1.0M269.8 140.4h1.0M200.7 98.2h1.0M264.2 137.2h1.0M215.3 137.4h1.0M274.5 113.1h1.0M261.5 129.5h1.0M223.0 62.4h1.0M221.0 136.0h1.0M206.7 91.2h1.0M193.8 90.0h1.0M242.8 109.9h1.0M206.5 87.3h1.0M244.5 64.3h1.0M263.3 138.5h1.0M210.1 108.7h1.0M230.5 63.7h1.0M201.1 54.9h1.0M300.4 111.7h1.0M210.1 105.0h1.0M209.8 63.2h1.0M240.8 111.6h1.0M226.7 112.1h1.0M207.4 112.8h1.0M207.2 115.7h1.0M247.6 109.6h1.0M232.5 62.1h1.0M252.1 114.2h1.0M211.6 65.3h1.0M251.5 128.9h1.0M246.8 136.7h1.0M229.1 103.7h1.0M197.7 86.5h1.0M237.0 126.7h1.0M210.9 89.8h1.0M253.7 69.5h1.0M210.3 53.0h1.0M235.8 62.8h1.0M225.7 65.8h1.0M239.9 113.1h1.0M238.6 106.4h1.0M278.4 71.4h1.0M197.1 103.1h1.0M220.2 65.5h1.0M252.7 65.2h1.0M281.6 130.5h1.0M201.7 114.6h1.0M233.5 136.2h1.0M228.7 123.1h1.0M215.5 108.1h1.0M252.1 122.0h1.0M212.6 113.9h1.0M211.3 91.4h1.0M245.0 54.8h1.0M255.3 141.5h1.0M209.1 78.6h1.0M225.8 105.9h1.0M256.1 133.9h1.0M237.1 102.4h1.0M228.8 109.7h1.0M235.1 100.7h1.0M221.5 122.2h1.0M227.8 126.4h1.0M244.7 122.3h1.0M264.7 134.5h1.0M211.4 71.4h1.0M209.2 94.0h1.0M256.3 130.6h1.0M235.3 130.7h1.0M229.0 124.3h1.0M256.5 124.0h1.0M210.1 120.7h1.0M279.2 87.8h1.0M240.8 65.0h1.0M196.9 76.0h1.0M253.2 123.3h1.0M250.6 121.4h1.0M247.0 116.0h1.0M260.1 141.5h1.0M239.9 104.6h1.0M205.6 91.6h1.0M205.1 107.0h1.0M238.1 142.7h1.0M224.6 112.6h1.0M201.6 111.0h1.0M266.8 141.1h1.0M226.1 114.9h1.0M224.7 105.6h1.0M274.7 81.5h1.0M226.6 55.7h1.0M277.1 79.5h1.0M238.5 105.6h1.0M276.6 111.9h1.0M193.0 114.8h1.0M218.9 126.6h1.0M239.4 101.8h1.0M213.9 111.0h1.0M253.7 123.1h1.0M213.8 102.1h1.0M197.8 106.8h1.0M205.0 91.4h1.0M217.7 130.7h1.0M237.7 108.4h1.0M239.0 61.6h1.0M209.1 57.7h1.0M302.2 94.1h1.0M247.5 76.3h1.0M203.9 102.5h1.0M203.7 63.9h1.0M207.7 77.1h1.0M237.9 67.1h1.0M193.5 105.4h1.0M213.3 104.6h1.0M200.7 109.4h1.0M211.5 99.3h1.0M274.4 121.5h1.0M247.4 72.2h1.0M204.2 79.3h1.0M231.0 106.6h1.0M228.7 65.6h1.0M207.6 103.3h1.0M211.1 121.7h1.0M243.6 110.1h1.0M234.5 129.8h1.0M236.1 122.0h1.0M194.8 110.9h1.0M213.5 109.3h1.0M278.6 107.8h1.0M206.8 104.6h1.0M215.7 116.9h1.0M211.9 69.3h1.0M277.2 75.6h1.0M230.2 138.6h1.0M258.3 131.4h1.0M223.4 107.3h1.0M248.6 116.3h1.0M274.6 118.0h1.0M241.2 108.5h1.0M244.2 107.3h1.0M252.3 115.2h1.0M235.4 121.3h1.0M230.4 65.6h1.0M223.3 114.3h1.0M278.0 83.2h1.0M255.7 70.3h1.0M193.7 119.0h1.0M266.7 74.6h1.0M253.3 135.8h1.0M264.3 73.6h1.0M248.6 129.5h1.0M229.1 110.7h1.0M219.4 130.7h1.0M199.2 104.3h1.0M236.9 103.1h1.0M234.9 137.9h1.0M207.5 133.6h1.0M242.0 139.3h1.0M207.0 71.1h1.0M212.9 63.8h1.0M268.1 74.2h1.0M206.0 86.6h1.0M230.8 103.8h1.0M264.6 127.4h1.0M214.1 109.4h1.0M248.5 123.5h1.0M203.0 112.3h1.0M220.8 117.3h1.0M212.9 68.4h1.0M225.8 65.9h1.0M200.2 109.2h1.0M248.2 134.4h1.0M252.0 72.2h1.0M245.2 108.0h1.0M228.1 109.3h1.0M251.0 129.7h1.0M201.4 79.8h1.0M246.4 122.1h1.0M257.1 73.9h1.0M248.2 146.8h1.0M219.4 125.4h1.0M205.7 87.5h1.0M225.2 118.2h1.0M232.6 115.6h1.0M245.1 49.8h1.0M249.5 121.2h1.0M219.7 139.3h1.0M201.6 122.5h1.0M262.3 74.7h1.0M202.6 66.1h1.0M208.5 61.6h1.0M213.8 113.6h1.0M216.6 107.3h1.0M207.3 78.3h1.0M216.7 62.0h1.0M199.8 85.5h1.0M241.9 116.2h1.0M205.7 78.6h1.0M249.7 130.2h1.0M198.9 108.5h1.0M239.0 108.8h1.0M231.0 103.5h1.0M242.3 103.0h1.0M208.9 94.1h1.0M269.7 122.6h1.0M213.0 123.9h1.0M193.6 120.9h1.0M207.9 107.4h1.0M299.9 49.9h1.0M267.4 128.4h1.0M203.2 131.5h1.0M236.9 117.5h1.0M194.5 108.6h1.0M222.0 123.0h1.0M243.8 58.4h1.0M242.7 127.6h1.0M258.9 133.5h1.0M233.1 105.5h1.0M207.2 123.2h1.0M263.4 138.6h1.0M204.9 73.6h1.0M196.1 117.3h1.0M228.4 114.8h1.0M221.0 112.7h1.0M225.6 124.1h1.0M272.5 149.7h1.0M221.5 108.9h1.0M204.1 118.3h1.0M197.4 69.0h1.0M260.3 132.2h1.0M261.2 74.5h1.0M259.3 73.2h1.0M246.8 110.7h1.0M252.0 127.9h1.0M248.5 113.8h1.0M229.1 114.5h1.0M249.4 137.4h1.0M203.5 97.2h1.0M216.2 64.1h1.0M207.5 81.2h1.0M253.4 132.3h1.0M275.7 83.2h1.0M208.2 104.0h1.0M231.8 104.7h1.0M205.2 94.9h1.0M232.0 119.3h1.0M208.3 111.2h1.0M261.1 127.6h1.0M279.1 80.5h1.0M204.9 72.4h1.0M210.2 75.3h1.0M245.9 62.0h1.0M205.8 92.3h1.0M199.5 111.6h1.0M240.4 63.7h1.0M242.4 114.6h1.0M242.7 63.3h1.0M205.9 95.0h1.0M219.4 110.2h1.0M248.6 129.8h1.0M264.2 134.6h1.0M276.7 81.7h1.0M206.3 82.1h1.0M227.1 105.4h1.0M212.2 134.1h1.0M211.1 134.4h1.0M233.4 121.0h1.0M194.5 112.6h1.0M250.3 63.9h1.0M248.7 111.0h1.0M216.0 65.6h1.0M249.1 125.8h1.0M205.8 102.8h1.0M222.6 106.4h1.0M234.2 105.2h1.0M204.0 108.0h1.0M245.3 116.4h1.0M237.3 103.3h1.0M194.0 104.0h1.0M203.6 118.4h1.0M273.8 91.6h1.0M204.8 79.3h1.0M212.1 105.5h1.0M272.8 126.3h1.0M277.7 86.7h1.0M227.6 120.3h1.0M270.2 133.6h1.0M208.5 71.1h1.0M227.2 141.2h1.0M220.6 107.6h1.0M246.1 78.8h1.0M222.8 133.8h1.0M271.0 76.9h1.0M243.0 109.7h1.0M241.0 106.1h1.0M233.0 131.1h1.0M252.9 74.8h1.0M201.2 104.1h1.0M250.9 113.5h1.0M239.0 109.4h1.0M255.1 131.5h1.0M253.7 64.1h1.0M226.8 108.2h1.0M239.4 139.4h1.0M195.5 105.5h1.0M235.7 62.4h1.0M227.8 132.4h1.0M203.3 100.1h1.0M276.7 106.6h1.0M230.4 119.4h1.0M224.3 114.8h1.0M210.2 125.1h1.0M254.1 137.6h1.0M263.0 69.5h1.0M205.9 88.6h1.0M275.7 78.7h1.0M232.8 104.8h1.0M208.6 102.7h1.0M232.4 100.6h1.0M222.8 107.3h1.0M235.0 110.4h1.0M196.5 120.5h1.0M204.8 84.5h1.0M208.6 98.4h1.0M208.3 90.6h1.0M250.1 73.9h1.0M244.1 131.1h1.0M236.8 106.7h1.0M215.6 105.5h1.0M229.8 118.2h1.0M205.2 85.5h1.0M205.1 123.4h1.0M218.1 61.5h1.0M202.4 65.2h1.0M209.8 71.1h1.0M261.2 134.7h1.0M202.2 105.8h1.0M237.1 132.1h1.0M251.9 137.7h1.0M244.1 69.4h1.0M209.3 84.2h1.0M275.2 104.7h1.0M200.1 78.5h1.0M223.6 109.8h1.0M208.8 109.2h1.0M236.7 102.6h1.0M244.0 66.5h1.0M267.3 76.3h1.0M245.1 131.5h1.0M239.8 116.9h1.0M207.5 77.3h1.0M214.7 102.9h1.0M268.9 133.7h1.0M276.7 96.2h1.0M199.1 100.9h1.0M218.9 65.9h1.0M255.8 121.0h1.0" stroke="#1c1c1c" stroke-width="1.0" fill="none"/>
<path d="M216 70 L228 68 L240 69 L245 74 L242 84 L236 92" fill="none" stroke="#444" stroke-width="0.55" stroke-linejoin="round"/>
<path d="M220.0 75.0C221.5 73.4 226.8 71.7 230.0 71.5C233.2 71.3 237.8 72.1 239.0 74.0C240.2 75.9 238.8 81.2 237.0 83.0C235.2 84.8 230.7 85.3 228.0 85.0C225.3 84.7 222.3 82.7 221.0 81.0C219.7 79.3 218.5 76.6 220.0 75.0Z" fill="none" stroke="#444" stroke-width="0.55"/>
<path d="M224.0 76.0C224.0 75.1 227.5 73.8 229.0 74.0C230.5 74.2 233.0 76.1 233.0 77.0C233.0 77.9 230.5 79.7 229.0 79.5C227.5 79.3 224.0 76.9 224.0 76.0Z" fill="none" stroke="#444" stroke-width="0.55"/>
<path d="M214 90 L222 92 L232 92" fill="none" stroke="#555" stroke-width="0.5" stroke-linejoin="round"/>
<path d="M261.7 96.8C262.0 96.7 262.6 96.7 262.9 96.8C263.2 96.8 263.6 96.9 263.8 97.1C263.9 97.3 264.0 97.8 264.1 98.1C264.1 98.4 264.1 98.8 264.1 99.2C264.0 99.6 263.9 99.9 263.8 100.3C263.6 100.7 263.4 101.4 263.1 101.5C262.9 101.6 262.7 101.2 262.4 101.0C262.2 100.7 261.8 100.3 261.5 100.0C261.2 99.7 260.8 99.3 260.6 99.1C260.5 98.8 260.4 98.7 260.5 98.5C260.5 98.3 260.7 97.9 260.9 97.7C261.0 97.4 261.1 97.2 261.2 97.1C261.4 97.0 261.4 96.9 261.7 96.8Z" fill="none" stroke="#262626" stroke-width="0.65"/>
<path d="M260.7 95.0C261.2 94.9 262.2 94.9 262.8 95.0C263.4 95.1 264.0 95.2 264.4 95.6C264.7 96.0 264.8 96.8 264.9 97.4C265.0 98.0 265.0 98.7 264.9 99.4C264.8 100.0 264.6 100.7 264.4 101.3C264.1 102.0 263.7 103.3 263.3 103.5C262.9 103.7 262.5 103.0 262.0 102.5C261.5 102.1 260.8 101.4 260.3 100.8C259.8 100.2 259.1 99.6 258.8 99.2C258.5 98.7 258.4 98.5 258.5 98.1C258.5 97.7 258.9 97.0 259.1 96.6C259.4 96.1 259.6 95.8 259.9 95.6C260.1 95.3 260.2 95.1 260.7 95.0Z" fill="none" stroke="#262626" stroke-width="0.65"/>
<path d="M259.5 93.1C260.2 92.9 261.8 92.9 262.7 93.0C263.7 93.1 264.5 93.3 265.0 93.9C265.5 94.5 265.7 95.6 265.8 96.6C266.0 97.5 266.0 98.6 265.8 99.5C265.7 100.5 265.4 101.5 265.0 102.5C264.6 103.5 264.0 105.5 263.4 105.8C262.8 106.0 262.3 104.9 261.5 104.3C260.8 103.6 259.8 102.5 258.9 101.7C258.1 100.9 257.1 99.9 256.7 99.3C256.2 98.6 256.1 98.3 256.2 97.7C256.3 97.0 256.8 96.0 257.2 95.4C257.5 94.7 257.9 94.3 258.3 93.9C258.7 93.5 258.7 93.2 259.5 93.1Z" fill="none" stroke="#262626" stroke-width="0.65"/>
<path d="M258.3 91.1C259.3 90.9 261.4 90.8 262.6 91.0C263.9 91.2 265.0 91.4 265.7 92.2C266.4 93.0 266.6 94.5 266.8 95.8C267.0 97.0 267.0 98.4 266.8 99.7C266.6 101.0 266.2 102.3 265.7 103.7C265.2 105.1 264.3 107.6 263.5 108.0C262.8 108.4 262.0 106.9 261.0 106.0C260.0 105.1 258.7 103.7 257.6 102.6C256.5 101.5 255.2 100.3 254.5 99.4C253.9 98.5 253.8 98.1 253.9 97.2C254.0 96.3 254.8 95.0 255.3 94.1C255.7 93.3 256.2 92.7 256.7 92.2C257.2 91.6 257.3 91.3 258.3 91.1Z" fill="none" stroke="#262626" stroke-width="0.65"/>
<path d="M257.1 89.1C258.4 88.9 261.0 88.8 262.6 89.0C264.1 89.2 265.5 89.5 266.4 90.5C267.2 91.4 267.5 93.4 267.7 95.0C268.0 96.5 268.0 98.2 267.7 99.9C267.5 101.6 267.1 103.1 266.4 104.8C265.7 106.6 264.7 109.8 263.7 110.2C262.7 110.7 261.8 108.9 260.5 107.8C259.3 106.7 257.6 104.9 256.2 103.5C254.9 102.1 253.2 100.6 252.4 99.5C251.7 98.3 251.5 97.8 251.7 96.8C251.8 95.7 252.7 94.0 253.3 92.9C253.9 91.9 254.5 91.1 255.1 90.5C255.8 89.8 255.9 89.3 257.1 89.1Z" fill="none" stroke="#262626" stroke-width="0.65"/>
<path d="M256.0 87.1C257.5 86.8 260.6 86.7 262.5 87.0C264.3 87.3 266.0 87.6 267.1 88.7C268.1 89.9 268.4 92.2 268.7 94.1C268.9 96.0 268.9 98.1 268.7 100.1C268.4 102.1 267.9 103.9 267.1 106.0C266.2 108.1 265.0 111.9 263.8 112.5C262.6 113.1 261.5 110.9 260.0 109.5C258.5 108.2 256.5 106.1 254.9 104.4C253.3 102.7 251.2 100.9 250.3 99.5C249.4 98.2 249.2 97.6 249.4 96.3C249.6 95.0 250.7 93.0 251.4 91.7C252.1 90.4 252.8 89.5 253.6 88.7C254.3 88.0 254.5 87.4 256.0 87.1Z" fill="none" stroke="#262626" stroke-width="0.65"/>
<path d="M254.8 85.1C256.5 84.8 260.2 84.7 262.4 85.0C264.5 85.3 266.5 85.6 267.7 87.0C268.9 88.4 269.3 91.1 269.6 93.3C269.9 95.5 269.9 98.0 269.6 100.3C269.3 102.6 268.7 104.8 267.7 107.2C266.8 109.6 265.3 114.1 263.9 114.8C262.6 115.4 261.3 112.9 259.5 111.3C257.8 109.7 255.4 107.2 253.6 105.3C251.7 103.4 249.3 101.2 248.2 99.6C247.1 98.1 246.9 97.4 247.1 95.8C247.3 94.3 248.6 92.0 249.5 90.5C250.3 89.0 251.1 87.9 252.0 87.0C252.9 86.1 253.1 85.5 254.8 85.1Z" fill="none" stroke="#262626" stroke-width="0.65"/>
<path d="M253.6 83.2C255.6 82.8 259.8 82.7 262.3 83.0C264.7 83.4 267.0 83.7 268.4 85.3C269.8 86.9 270.2 90.0 270.6 92.5C270.9 95.0 270.9 97.8 270.6 100.4C270.2 103.1 269.5 105.6 268.4 108.4C267.3 111.1 265.6 116.2 264.1 117.0C262.5 117.8 261.0 114.8 259.0 113.0C257.1 111.2 254.4 108.4 252.2 106.2C250.0 104.0 247.3 101.5 246.1 99.7C244.9 97.9 244.6 97.1 244.9 95.4C245.1 93.7 246.6 91.0 247.5 89.3C248.4 87.6 249.4 86.3 250.4 85.3C251.4 84.3 251.7 83.5 253.6 83.2Z" fill="none" stroke="#262626" stroke-width="0.65"/>
<path d="M252.5 81.2C254.7 80.7 259.4 80.6 262.2 81.0C265.0 81.4 267.5 81.8 269.1 83.6C270.6 85.4 271.1 88.9 271.5 91.7C271.9 94.5 271.9 97.7 271.5 100.6C271.1 103.6 270.3 106.4 269.1 109.5C267.9 112.6 266.0 118.4 264.2 119.2C262.5 120.1 260.8 116.8 258.5 114.8C256.3 112.8 253.3 109.6 250.8 107.1C248.4 104.6 245.3 101.8 244.0 99.8C242.6 97.8 242.3 96.9 242.6 95.0C242.9 93.0 244.5 90.0 245.6 88.1C246.6 86.2 247.7 84.8 248.8 83.6C250.0 82.5 250.2 81.6 252.5 81.2Z" fill="none" stroke="#262626" stroke-width="0.65"/>
<path d="M251.3 79.2C253.8 78.7 259.0 78.6 262.1 79.0C265.2 79.5 268.0 79.9 269.8 81.9C271.5 83.9 272.0 87.8 272.4 90.9C272.9 94.1 272.9 97.5 272.4 100.8C272.0 104.1 271.1 107.2 269.8 110.7C268.4 114.2 266.3 120.5 264.4 121.5C262.4 122.5 260.5 118.8 258.1 116.5C255.6 114.3 252.2 110.8 249.5 108.0C246.8 105.2 243.4 102.2 241.8 99.9C240.3 97.7 240.0 96.7 240.3 94.5C240.6 92.3 242.5 88.9 243.7 86.8C244.8 84.8 246.0 83.2 247.2 81.9C248.5 80.6 248.8 79.7 251.3 79.2Z" fill="none" stroke="#262626" stroke-width="0.65"/>
<path d="M250.0 77.0C252.8 76.5 258.6 76.3 262.0 76.8C265.4 77.3 268.6 77.8 270.5 80.0C272.4 82.2 273.0 86.5 273.5 90.0C274.0 93.5 274.0 97.3 273.5 101.0C273.0 104.7 272.0 108.2 270.5 112.0C269.0 115.8 266.7 122.9 264.5 124.0C262.3 125.1 260.2 121.0 257.5 118.5C254.8 116.0 251.0 112.1 248.0 109.0C245.0 105.9 241.2 102.5 239.5 100.0C237.8 97.5 237.5 96.4 237.8 94.0C238.1 91.6 240.2 87.8 241.5 85.5C242.8 83.2 244.1 81.4 245.5 80.0C246.9 78.6 247.2 77.5 250.0 77.0Z" fill="none" stroke="#262626" stroke-width="0.65"/>
<path d="M263.5 90.6h.8M264.5 99.3h.8M257.4 100.0h.8M263.9 95.9h.8M259.9 93.0h.8M263.0 99.1h.8M262.3 107.4h.8M262.9 99.6h.8M258.5 100.2h.8M265.6 95.2h.8M268.8 96.5h.8M263.3 97.3h.8M261.8 86.8h.8M265.4 89.7h.8M266.4 94.2h.8M261.4 109.5h.8M260.2 98.0h.8M259.4 98.1h.8M264.1 105.5h.8M255.6 98.6h.8M264.6 102.7h.8M260.8 99.3h.8M268.2 100.5h.8M268.9 93.8h.8M260.9 99.0h.8M260.1 101.6h.8M259.8 100.3h.8M258.7 95.3h.8M263.7 101.4h.8M260.2 92.5h.8M264.5 94.7h.8M264.1 104.4h.8M264.8 92.5h.8M266.4 103.6h.8M261.3 97.1h.8M267.0 100.3h.8M264.2 103.6h.8M264.5 110.9h.8M266.9 99.6h.8M263.3 97.7h.8M266.4 94.0h.8M265.5 96.5h.8M257.8 103.2h.8M264.2 100.2h.8M262.1 98.9h.8M261.2 104.7h.8M266.9 98.8h.8M263.1 100.3h.8M265.6 100.0h.8M261.8 98.1h.8M263.8 98.5h.8M262.0 104.3h.8M264.2 103.0h.8M260.6 102.6h.8M263.1 98.0h.8M261.2 96.4h.8M261.8 99.6h.8M262.8 107.6h.8M264.4 100.2h.8M262.8 95.8h.8M260.8 100.6h.8M258.8 106.0h.8M267.5 92.9h.8M266.5 103.8h.8M266.3 102.0h.8M267.7 95.7h.8M261.8 101.7h.8M263.3 93.1h.8M265.4 103.5h.8M262.5 100.8h.8M265.8 90.3h.8M261.5 95.5h.8M262.7 93.9h.8M259.5 100.1h.8M268.2 93.9h.8M267.6 103.2h.8M265.9 104.7h.8M261.9 103.9h.8M258.9 95.8h.8M264.0 102.4h.8M259.2 91.2h.8M264.3 100.4h.8M265.1 98.9h.8M259.4 104.0h.8M265.3 99.9h.8M269.2 100.2h.8M267.4 98.6h.8M254.9 94.3h.8M255.4 98.2h.8M266.4 92.0h.8M265.2 98.0h.8M265.7 100.8h.8M260.3 101.6h.8M263.0 103.0h.8M268.6 98.4h.8M267.8 98.8h.8M264.9 100.0h.8M261.3 99.8h.8M261.9 101.6h.8M260.2 95.2h.8M265.6 101.5h.8M264.8 101.6h.8M266.1 101.2h.8M265.7 96.0h.8M264.6 96.1h.8M259.7 98.3h.8M265.0 99.3h.8M268.2 102.1h.8M264.4 99.7h.8M259.4 99.5h.8M263.2 106.6h.8M261.0 98.7h.8M261.1 99.9h.8M258.3 100.5h.8M263.2 100.0h.8M270.6 98.9h.8M264.5 99.2h.8M266.2 108.7h.8M268.0 100.7h.8M259.6 101.1h.8M258.5 95.5h.8M261.5 94.6h.8M263.2 97.7h.8M261.1 100.8h.8M261.1 104.7h.8M265.0 97.4h.8M264.4 96.4h.8M261.4 103.6h.8M258.6 101.2h.8M268.6 89.8h.8M269.9 91.0h.8M256.8 90.3h.8M259.8 96.7h.8M257.7 98.3h.8M265.4 95.9h.8M263.5 101.8h.8M268.0 98.8h.8M265.2 101.4h.8M263.3 97.7h.8M264.1 102.1h.8M259.4 97.6h.8M264.1 100.4h.8M264.1 106.1h.8M266.1 93.8h.8M267.6 96.1h.8M260.7 103.8h.8M262.2 91.9h.8M264.9 101.1h.8M264.6 93.1h.8M265.4 96.5h.8M265.7 93.8h.8M260.3 90.7h.8M260.9 103.7h.8M263.8 96.7h.8M267.0 100.0h.8M265.3 100.6h.8M262.8 99.7h.8M264.3 104.0h.8M264.8 102.9h.8M259.9 91.0h.8M264.0 99.8h.8M264.3 94.8h.8M263.5 94.5h.8M263.3 98.8h.8M262.6 100.4h.8M261.6 99.0h.8M265.1 105.6h.8M264.2 102.6h.8M264.7 106.2h.8M269.0 96.3h.8M265.0 100.4h.8M267.6 88.6h.8M261.2 91.6h.8M267.0 100.3h.8M265.0 100.9h.8M263.9 100.9h.8M261.9 90.3h.8M264.0 98.8h.8M261.4 96.5h.8M266.8 95.9h.8M260.0 101.9h.8M267.2 93.5h.8M260.2 94.6h.8M264.1 101.5h.8M267.1 98.8h.8M262.3 96.5h.8M266.3 96.5h.8M260.7 98.1h.8M263.0 100.8h.8M261.2 106.5h.8M268.5 94.2h.8M263.4 94.7h.8M262.2 93.8h.8M262.2 100.2h.8M263.5 93.3h.8M257.3 91.1h.8M266.5 98.3h.8M263.2 105.3h.8M260.2 100.8h.8M261.1 99.8h.8" stroke="#222" stroke-width="0.8" fill="none"/>
<path d="M193.4 49 L243.1 49 L245 73.7 L235.5 92.6 L193.4 82.8Z" fill="none" stroke="#333" stroke-width="0.9" stroke-linejoin="round"/>
<path d="M237 95.5 L250 76 L273 76 L282.6 83.7 L282.6 149.6 L237.4 149.6Z" fill="none" stroke="#333" stroke-width="0.9" stroke-linejoin="round"/>
<text x="197" y="43.8" font-size="10" textLength="55" lengthAdjust="spacingAndGlyphs">MZ B cells</text>
<text x="197" y="58.7" font-size="11.5" textLength="33.6" lengthAdjust="spacingAndGlyphs">8.59 %</text>
<text x="268.5" y="131.5" font-size="11.5" textLength="54" lengthAdjust="spacingAndGlyphs">FO B cells</text>
<text x="268.2" y="145.8" font-size="11.5" textLength="33.4" lengthAdjust="spacingAndGlyphs">85.0 %</text>
<text x="356" y="16" font-size="21">b</text>
<path d="M414.3 18.4 H503 V151.7 H414.3Z" fill="none" stroke="#231f20" stroke-width="2"/>
<line x1="409.8" y1="18.5" x2="414.3" y2="18.5" stroke="#231f20" stroke-width="1.6"/>
<text x="407.7" y="22.3" font-size="10.6" text-anchor="end" textLength="26.9" lengthAdjust="spacingAndGlyphs">80000</text>
<line x1="409.8" y1="51.8" x2="414.3" y2="51.8" stroke="#231f20" stroke-width="1.6"/>
<text x="407.7" y="55.6" font-size="10.6" text-anchor="end" textLength="26.9" lengthAdjust="spacingAndGlyphs">60000</text>
<line x1="409.8" y1="85.1" x2="414.3" y2="85.1" stroke="#231f20" stroke-width="1.6"/>
<text x="407.7" y="88.9" font-size="10.6" text-anchor="end" textLength="26.9" lengthAdjust="spacingAndGlyphs">40000</text>
<line x1="409.8" y1="118.4" x2="414.3" y2="118.4" stroke="#231f20" stroke-width="1.6"/>
<text x="407.7" y="122.2" font-size="10.6" text-anchor="end" textLength="26.9" lengthAdjust="spacingAndGlyphs">20000</text>
<line x1="409.8" y1="151.7" x2="414.3" y2="151.7" stroke="#231f20" stroke-width="1.6"/>
<text x="407.7" y="155.5" font-size="10.6" text-anchor="end" textLength="5.4" lengthAdjust="spacingAndGlyphs">0</text>
<text x="374" y="85" font-size="10.5" text-anchor="middle" transform="rotate(-90 374 85)">cell count</text>
<line x1="436.7" y1="125.2" x2="436.7" y2="127" stroke="#231f20" stroke-width="1.3"/>
<line x1="429.1" y1="125.2" x2="444.3" y2="125.2" stroke="#231f20" stroke-width="1.3"/>
<rect x="421.2" y="127" width="31" height="24.7" fill="#231f20"/>
<line x1="481.1" y1="49.1" x2="481.1" y2="70.4" stroke="#231f20" stroke-width="1.3"/>
<line x1="473.3" y1="49.1" x2="489" y2="49.1" stroke="#231f20" stroke-width="1.3"/>
<rect x="465.5" y="70.4" width="31.3" height="81.3" fill="#231f20"/>
<path d="M434.9 41.3 V34.2 H481.6 V41.3" fill="none" stroke="#231f20" stroke-width="3.3" stroke-linecap="round" stroke-linejoin="round"/>
<text x="456.5" y="33" font-size="15" text-anchor="middle">**</text>
<g transform="rotate(-45 418.5 170)">
<text x="418.5" y="170" font-size="11" text-anchor="middle">young</text>
<text x="418.5" y="183.5" font-size="11" text-anchor="middle">(&lt;20 weeks)</text>
</g>
<g transform="rotate(-45 467.5 170)">
<text x="467.5" y="170" font-size="11" text-anchor="middle">aged</text>
<text x="467.5" y="183.5" font-size="11" text-anchor="middle">(&#8805;40 weeks)</text>
</g>
<text x="546" y="14.3" font-size="21">c</text>
<path d="M588.5 18 H679 V151.7 H588.5Z" fill="none" stroke="#231f20" stroke-width="2"/>
<line x1="584" y1="18" x2="588.5" y2="18" stroke="#231f20" stroke-width="1.6"/>
<text x="583.5" y="21.4" font-size="9.4" text-anchor="end">5</text>
<line x1="584" y1="44.7" x2="588.5" y2="44.7" stroke="#231f20" stroke-width="1.6"/>
<text x="583.5" y="48.1" font-size="9.4" text-anchor="end">4</text>
<line x1="584" y1="71.4" x2="588.5" y2="71.4" stroke="#231f20" stroke-width="1.6"/>
<text x="583.5" y="74.8" font-size="9.4" text-anchor="end">3</text>
<line x1="584" y1="98.1" x2="588.5" y2="98.1" stroke="#231f20" stroke-width="1.6"/>
<text x="583.5" y="101.5" font-size="9.4" text-anchor="end">2</text>
<line x1="584" y1="124.8" x2="588.5" y2="124.8" stroke="#231f20" stroke-width="1.6"/>
<text x="583.5" y="128.2" font-size="9.4" text-anchor="end">1</text>
<line x1="584" y1="151.5" x2="588.5" y2="151.5" stroke="#231f20" stroke-width="1.6"/>
<text x="583.5" y="154.9" font-size="9.4" text-anchor="end">0</text>
<text x="568.3" y="86.7" font-size="10.6" text-anchor="middle" textLength="110.7" lengthAdjust="spacingAndGlyphs" transform="rotate(-90 568.3 86.7)">% nMZ of B220<tspan font-size="7" dy="-3.5">+</tspan><tspan dy="3.5"> cells</tspan></text>
<line x1="611.6" y1="130" x2="611.6" y2="131" stroke="#231f20" stroke-width="1.3"/>
<line x1="604.1" y1="130" x2="619.1" y2="130" stroke="#231f20" stroke-width="1.3"/>
<rect x="596" y="131" width="31.2" height="20.7" fill="#231f20"/>
<line x1="656" y1="78.3" x2="656" y2="86.5" stroke="#231f20" stroke-width="1.3"/>
<line x1="648.4" y1="78.3" x2="663.7" y2="78.3" stroke="#231f20" stroke-width="1.3"/>
<rect x="640.4" y="86.5" width="31.3" height="65.2" fill="#231f20"/>
<path d="M612.4 68 V60 H657 V68" fill="none" stroke="#231f20" stroke-width="3.3" stroke-linecap="round" stroke-linejoin="round"/>
<text x="635.5" y="58" font-size="15" text-anchor="middle">****</text>
<g transform="rotate(-45 593 170)">
<text x="593" y="170" font-size="11" text-anchor="middle">young</text>
<text x="593" y="183.5" font-size="11" text-anchor="middle">(&lt;20 weeks)</text>
</g>
<g transform="rotate(-45 642.5 170)">
<text x="642.5" y="170" font-size="11" text-anchor="middle">aged</text>
<text x="642.5" y="183.5" font-size="11" text-anchor="middle">(&#8805;40 weeks)</text>
</g>
<text x="0" y="225" font-size="20">d</text>
<path d="M86.9 219.1 H287.9 V353.1 H86.9Z" fill="none" stroke="#231f20" stroke-width="2"/>
<line x1="82.4" y1="219.1" x2="86.9" y2="219.1" stroke="#231f20" stroke-width="1.6"/>
<text x="81.4" y="222.9" font-size="10.6" text-anchor="end" textLength="32.2" lengthAdjust="spacingAndGlyphs">100000</text>
<line x1="82.4" y1="245.9" x2="86.9" y2="245.9" stroke="#231f20" stroke-width="1.6"/>
<text x="81.4" y="249.7" font-size="10.6" text-anchor="end" textLength="26.9" lengthAdjust="spacingAndGlyphs">80000</text>
<line x1="82.4" y1="272.7" x2="86.9" y2="272.7" stroke="#231f20" stroke-width="1.6"/>
<text x="81.4" y="276.5" font-size="10.6" text-anchor="end" textLength="26.9" lengthAdjust="spacingAndGlyphs">60000</text>
<line x1="82.4" y1="299.5" x2="86.9" y2="299.5" stroke="#231f20" stroke-width="1.6"/>
<text x="81.4" y="303.3" font-size="10.6" text-anchor="end" textLength="26.9" lengthAdjust="spacingAndGlyphs">40000</text>
<line x1="82.4" y1="326.3" x2="86.9" y2="326.3" stroke="#231f20" stroke-width="1.6"/>
<text x="81.4" y="330.1" font-size="10.6" text-anchor="end" textLength="26.9" lengthAdjust="spacingAndGlyphs">20000</text>
<line x1="82.4" y1="353.1" x2="86.9" y2="353.1" stroke="#231f20" stroke-width="1.6"/>
<text x="81.4" y="356.9" font-size="10.6" text-anchor="end" textLength="5.4" lengthAdjust="spacingAndGlyphs">0</text>
<text x="37" y="286.2" font-size="10.5" text-anchor="middle" transform="rotate(-90 37 286.2)">cell count</text>
<rect x="90.1" y="223.1" width="30.8" height="42.7" fill="#231f20"/>
<rect x="94.3" y="248.4" width="22.4" height="13.6" fill="url(#hatchL)"/>
<text x="126.6" y="237.2" font-size="11">male</text>
<text x="126.6" y="258.3" font-size="11">female</text>
<line x1="113.5" y1="333.3" x2="113.5" y2="335.3" stroke="#231f20" stroke-width="1.3"/>
<line x1="104" y1="333.3" x2="123" y2="333.3" stroke="#231f20" stroke-width="1.3"/>
<rect x="95.6" y="335.3" width="35.9" height="17.8" fill="#231f20"/>
<line x1="150.1" y1="325.3" x2="150.1" y2="327.8" stroke="#231f20" stroke-width="1.3"/>
<line x1="140.1" y1="325.3" x2="160.1" y2="325.3" stroke="#231f20" stroke-width="1.3"/>
<rect x="131.9" y="328.7" width="35.9" height="24.4" fill="url(#hatch)" stroke="#231f20" stroke-width="1.9"/>
<line x1="223.6" y1="303" x2="223.6" y2="312.2" stroke="#231f20" stroke-width="1.3"/>
<line x1="214.1" y1="303" x2="233.1" y2="303" stroke="#231f20" stroke-width="1.3"/>
<rect x="204.7" y="312.2" width="37.8" height="40.9" fill="#231f20"/>
<line x1="260.9" y1="233.5" x2="260.9" y2="264" stroke="#231f20" stroke-width="1.3"/>
<line x1="251.4" y1="233.5" x2="270.4" y2="233.5" stroke="#231f20" stroke-width="1.3"/>
<rect x="242.9" y="264.9" width="35.4" height="88.2" fill="url(#hatch)" stroke="#231f20" stroke-width="1.9"/>
<text x="133" y="366.3" font-size="11.5" text-anchor="middle" textLength="36" lengthAdjust="spacingAndGlyphs">young</text>
<text x="132.4" y="380.7" font-size="11.5" text-anchor="middle" textLength="61.3" lengthAdjust="spacingAndGlyphs">(&lt;20 weeks)</text>
<text x="243.5" y="366.3" font-size="11.5" text-anchor="middle">aged</text>
<text x="243" y="380.7" font-size="11.5" text-anchor="middle" textLength="60.8" lengthAdjust="spacingAndGlyphs">(&#8805;40 weeks)</text>
<text x="357" y="225" font-size="19">e</text>
<path d="M410.8 219.4 H612.9 V352.7 H410.8Z" fill="none" stroke="#231f20" stroke-width="2"/>
<line x1="406.3" y1="219.4" x2="410.8" y2="219.4" stroke="#231f20" stroke-width="1.6"/>
<text x="405.8" y="222.7" font-size="9.3" text-anchor="end">4</text>
<line x1="406.3" y1="252.7" x2="410.8" y2="252.7" stroke="#231f20" stroke-width="1.6"/>
<text x="405.8" y="256.1" font-size="9.3" text-anchor="end">3</text>
<line x1="406.3" y1="286.1" x2="410.8" y2="286.1" stroke="#231f20" stroke-width="1.6"/>
<text x="405.8" y="289.4" font-size="9.3" text-anchor="end">2</text>
<line x1="406.3" y1="319.4" x2="410.8" y2="319.4" stroke="#231f20" stroke-width="1.6"/>
<text x="405.8" y="322.7" font-size="9.3" text-anchor="end">1</text>
<line x1="406.3" y1="352.7" x2="410.8" y2="352.7" stroke="#231f20" stroke-width="1.6"/>
<text x="405.8" y="356.1" font-size="9.3" text-anchor="end">0</text>
<text x="390.3" y="286.9" font-size="10.3" text-anchor="middle" textLength="106.8" lengthAdjust="spacingAndGlyphs" transform="rotate(-90 390.3 286.9)">% nMZ of B220<tspan font-size="7" dy="-3.5">+</tspan><tspan dy="3.5"> cells</tspan></text>
<rect x="414" y="222.9" width="34" height="42.9" fill="#231f20"/>
<rect x="417.7" y="248.4" width="26.6" height="14.2" fill="url(#hatchL)"/>
<text x="450.5" y="237.3" font-size="11">male</text>
<text x="450.5" y="258.4" font-size="11">female</text>
<line x1="438" y1="326.6" x2="438" y2="328.6" stroke="#231f20" stroke-width="1.3"/>
<line x1="428.5" y1="326.6" x2="447.5" y2="326.6" stroke="#231f20" stroke-width="1.3"/>
<rect x="419.5" y="328.6" width="37" height="24.1" fill="#231f20"/>
<line x1="474.9" y1="319.9" x2="474.9" y2="323.6" stroke="#231f20" stroke-width="1.3"/>
<line x1="465.9" y1="319.9" x2="483.9" y2="319.9" stroke="#231f20" stroke-width="1.3"/>
<rect x="456.7" y="324.5" width="35.8" height="28.2" fill="url(#hatch)" stroke="#231f20" stroke-width="1.9"/>
<line x1="547.8" y1="282.7" x2="547.8" y2="284.9" stroke="#231f20" stroke-width="1.3"/>
<line x1="538.2" y1="282.7" x2="557.2" y2="282.7" stroke="#231f20" stroke-width="1.3"/>
<rect x="529" y="284.9" width="37.5" height="67.8" fill="#231f20"/>
<line x1="584.8" y1="237.5" x2="584.8" y2="257.9" stroke="#231f20" stroke-width="1.3"/>
<line x1="575.4" y1="237.5" x2="594.1" y2="237.5" stroke="#231f20" stroke-width="1.3"/>
<rect x="566.9" y="258.8" width="35.2" height="93.9" fill="url(#hatch)" stroke="#231f20" stroke-width="1.9"/>
<text x="457" y="367.6" font-size="11.5" text-anchor="middle" textLength="36" lengthAdjust="spacingAndGlyphs">young</text>
<text x="457" y="380.8" font-size="11.5" text-anchor="middle" textLength="61.3" lengthAdjust="spacingAndGlyphs">(&lt;20 weeks)</text>
<text x="567.6" y="367.6" font-size="11.5" text-anchor="middle">aged</text>
<text x="566.9" y="380.8" font-size="11.5" text-anchor="middle" textLength="60.8" lengthAdjust="spacingAndGlyphs">(&#8805;40 weeks)</text>
<text x="0.5" y="421.8" font-size="20.5">f</text>
<text x="171.7" y="420.7" font-size="21" textLength="133" lengthAdjust="spacingAndGlyphs">lymph nodes</text>
<text x="498.7" y="421.6" font-size="21" textLength="68" lengthAdjust="spacingAndGlyphs">spleen</text>
<rect x="7" y="434.2" width="20.7" height="8.7" fill="#c4c4c8"/>
<text x="31.5" y="442" font-size="10.5" textLength="57.8" lengthAdjust="spacingAndGlyphs">FMO control</text>
<line x1="7" y1="452.5" x2="27.7" y2="452.5" stroke="#231f20" stroke-width="3.2"/>
<text x="31.5" y="456.9" font-size="10.5" textLength="59.9" lengthAdjust="spacingAndGlyphs">nMZ B cells/</text>
<text x="31.5" y="467.4" font-size="10.5" textLength="50.5" lengthAdjust="spacingAndGlyphs">MZ B cells</text>
<circle cx="9.6" cy="478.8" r="1.75" fill="#231f20"/>
<circle cx="17" cy="478.8" r="1.75" fill="#231f20"/>
<circle cx="24.2" cy="478.8" r="1.75" fill="#231f20"/>
<text x="31.5" y="482.3" font-size="10.5" textLength="49.1" lengthAdjust="spacingAndGlyphs">FO B cells</text>
<rect x="97" y="442.5" width="4" height="441.5" fill="#231f20"/>
<path d="M99 434.2 L104.1 443 L93.9 443Z" fill="#231f20"/>
<text x="104" y="936.8" font-size="12" textLength="50.3" lengthAdjust="spacingAndGlyphs" transform="rotate(-90 104 936.8)">% of max</text>
<text x="109.8" y="961.9" font-size="11.3" textLength="46.6" lengthAdjust="spacingAndGlyphs">intensity</text>
<rect x="157.4" y="956.8" width="55.7" height="4" fill="#231f20"/>
<path d="M222.8 958.8 L212.6 953.6 L212.6 963.9Z" fill="#231f20"/>
<rect x="403.9" y="443" width="4" height="440.4" fill="#231f20"/>
<path d="M405.9 435 L411 443.5 L400.8 443.5Z" fill="#231f20"/>
<text x="411.2" y="937" font-size="12" textLength="50.4" lengthAdjust="spacingAndGlyphs" transform="rotate(-90 411.2 937)">% of max</text>
<text x="414.5" y="961.9" font-size="11.3" textLength="46.6" lengthAdjust="spacingAndGlyphs">intensity</text>
<rect x="463.4" y="957.4" width="55.7" height="4" fill="#231f20"/>
<path d="M528.8 959.4 L518.6 954.2 L518.6 964.5Z" fill="#231f20"/>
<rect x="109.7" y="433.3" width="115" height="116.5" fill="none" stroke="#9a9a9a" stroke-width="0.8"/>
<line x1="109.7" y1="433.3" x2="109.7" y2="549.8" stroke="#555" stroke-width="0.8"/>
<line x1="109.7" y1="549.8" x2="224.7" y2="549.8" stroke="#231f20" stroke-width="1.3"/>
<line x1="111.2" y1="549.8" x2="111.2" y2="551" stroke="#666" stroke-width="0.5"/>
<line x1="114.6" y1="549.8" x2="114.6" y2="551" stroke="#666" stroke-width="0.5"/>
<line x1="118" y1="549.8" x2="118" y2="551" stroke="#666" stroke-width="0.5"/>
<line x1="121.4" y1="549.8" x2="121.4" y2="551" stroke="#666" stroke-width="0.5"/>
<line x1="124.8" y1="549.8" x2="124.8" y2="551" stroke="#666" stroke-width="0.5"/>
<line x1="128.2" y1="549.8" x2="128.2" y2="551" stroke="#666" stroke-width="0.5"/>
<line x1="131.6" y1="549.8" x2="131.6" y2="551" stroke="#666" stroke-width="0.5"/>
<line x1="135" y1="549.8" x2="135" y2="551" stroke="#666" stroke-width="0.5"/>
<line x1="138.4" y1="549.8" x2="138.4" y2="551" stroke="#666" stroke-width="0.5"/>
<line x1="141.8" y1="549.8" x2="141.8" y2="551" stroke="#666" stroke-width="0.5"/>
<line x1="145.2" y1="549.8" x2="145.2" y2="551" stroke="#666" stroke-width="0.5"/>
<line x1="148.6" y1="549.8" x2="148.6" y2="551" stroke="#666" stroke-width="0.5"/>
<line x1="152" y1="549.8" x2="152" y2="551" stroke="#666" stroke-width="0.5"/>
<line x1="155.4" y1="549.8" x2="155.4" y2="551" stroke="#666" stroke-width="0.5"/>
<line x1="158.8" y1="549.8" x2="158.8" y2="551" stroke="#666" stroke-width="0.5"/>
<line x1="162.2" y1="549.8" x2="162.2" y2="551" stroke="#666" stroke-width="0.5"/>
<line x1="165.6" y1="549.8" x2="165.6" y2="551" stroke="#666" stroke-width="0.5"/>
<line x1="169" y1="549.8" x2="169" y2="551" stroke="#666" stroke-width="0.5"/>
<line x1="172.4" y1="549.8" x2="172.4" y2="551" stroke="#666" stroke-width="0.5"/>
<line x1="175.8" y1="549.8" x2="175.8" y2="551" stroke="#666" stroke-width="0.5"/>
<line x1="179.2" y1="549.8" x2="179.2" y2="551" stroke="#666" stroke-width="0.5"/>
<line x1="182.6" y1="549.8" x2="182.6" y2="551" stroke="#666" stroke-width="0.5"/>
<line x1="186" y1="549.8" x2="186" y2="551" stroke="#666" stroke-width="0.5"/>
<line x1="189.4" y1="549.8" x2="189.4" y2="551" stroke="#666" stroke-width="0.5"/>
<line x1="192.8" y1="549.8" x2="192.8" y2="551" stroke="#666" stroke-width="0.5"/>
<line x1="196.2" y1="549.8" x2="196.2" y2="551" stroke="#666" stroke-width="0.5"/>
<line x1="199.6" y1="549.8" x2="199.6" y2="551" stroke="#666" stroke-width="0.5"/>
<line x1="203" y1="549.8" x2="203" y2="551" stroke="#666" stroke-width="0.5"/>
<line x1="206.4" y1="549.8" x2="206.4" y2="551" stroke="#666" stroke-width="0.5"/>
<line x1="209.8" y1="549.8" x2="209.8" y2="551" stroke="#666" stroke-width="0.5"/>
<line x1="213.2" y1="549.8" x2="213.2" y2="551" stroke="#666" stroke-width="0.5"/>
<line x1="216.6" y1="549.8" x2="216.6" y2="551" stroke="#666" stroke-width="0.5"/>
<line x1="220" y1="549.8" x2="220" y2="551" stroke="#666" stroke-width="0.5"/>
<line x1="110.3" y1="549.8" x2="110.3" y2="552.1" stroke="#444" stroke-width="0.6"/>
<text x="110.3" y="561.2" font-size="5" text-anchor="middle" font-weight="normal" fill="#333">0</text>
<line x1="131.8" y1="549.8" x2="131.8" y2="552.1" stroke="#444" stroke-width="0.6"/>
<text x="131.8" y="561.2" font-size="5" text-anchor="middle" font-weight="normal" fill="#333">50K</text>
<line x1="154.3" y1="549.8" x2="154.3" y2="552.1" stroke="#444" stroke-width="0.6"/>
<text x="154.3" y="561.2" font-size="5" text-anchor="middle" font-weight="normal" fill="#333">100K</text>
<line x1="175.7" y1="549.8" x2="175.7" y2="552.1" stroke="#444" stroke-width="0.6"/>
<text x="175.7" y="561.2" font-size="5" text-anchor="middle" font-weight="normal" fill="#333">150K</text>
<line x1="197.2" y1="549.8" x2="197.2" y2="552.1" stroke="#444" stroke-width="0.6"/>
<text x="197.2" y="561.2" font-size="5" text-anchor="middle" font-weight="normal" fill="#333">200K</text>
<line x1="219.3" y1="549.8" x2="219.3" y2="552.1" stroke="#444" stroke-width="0.6"/>
<text x="219.3" y="561.2" font-size="5" text-anchor="middle" font-weight="normal" fill="#333">250K</text>
<text x="221.6" y="452.7" font-size="15" text-anchor="end">FSC</text>
<path d="M131.7 549.2 L133.7 538.5 L135.8 516.1 L137.2 491.5 L138.4 465 L139.4 446.6 L140.3 439.8 L141.5 442.5 L142.5 456.8 L143.5 485.4 L145 512 L147 530.4 L150.1 540.6 L154.2 545.7 L159.3 548.3 L167.4 549.2" fill="none" stroke="#231f20" stroke-width="1.05" stroke-linejoin="round" stroke-dasharray="2.4 1.7"/>
<path d="M132.7 549.2 L135.8 542.6 L138.8 528.3 L141.9 505.8 L143.3 481.3 L144.6 465 L146 448.6 L147 440.4 L148 446.6 L149 450.7 L150.1 460.9 L151.1 471.1 L152.1 472.1 L153.5 481.3 L155.2 491.5 L156.2 495.6 L158.2 505.8 L160.3 522.2 L162.3 534.4 L164.4 540.6 L167.4 542.6 L170.5 546.7 L173.6 548.8 L176.6 549.2" fill="none" stroke="#231f20" stroke-width="1.05" stroke-linejoin="round"/>
<rect x="111.8" y="563.5" width="115.6" height="113.8" fill="none" stroke="#9a9a9a" stroke-width="0.8"/>
<line x1="111.8" y1="563.5" x2="111.8" y2="677.3" stroke="#555" stroke-width="0.8"/>
<line x1="111.8" y1="677.3" x2="227.4" y2="677.3" stroke="#231f20" stroke-width="1.3"/>
<line x1="113.3" y1="677.3" x2="113.3" y2="678.5" stroke="#666" stroke-width="0.5"/>
<line x1="116.7" y1="677.3" x2="116.7" y2="678.5" stroke="#666" stroke-width="0.5"/>
<line x1="120.1" y1="677.3" x2="120.1" y2="678.5" stroke="#666" stroke-width="0.5"/>
<line x1="123.5" y1="677.3" x2="123.5" y2="678.5" stroke="#666" stroke-width="0.5"/>
<line x1="126.9" y1="677.3" x2="126.9" y2="678.5" stroke="#666" stroke-width="0.5"/>
<line x1="130.3" y1="677.3" x2="130.3" y2="678.5" stroke="#666" stroke-width="0.5"/>
<line x1="133.7" y1="677.3" x2="133.7" y2="678.5" stroke="#666" stroke-width="0.5"/>
<line x1="137.1" y1="677.3" x2="137.1" y2="678.5" stroke="#666" stroke-width="0.5"/>
<line x1="140.5" y1="677.3" x2="140.5" y2="678.5" stroke="#666" stroke-width="0.5"/>
<line x1="143.9" y1="677.3" x2="143.9" y2="678.5" stroke="#666" stroke-width="0.5"/>
<line x1="147.3" y1="677.3" x2="147.3" y2="678.5" stroke="#666" stroke-width="0.5"/>
<line x1="150.7" y1="677.3" x2="150.7" y2="678.5" stroke="#666" stroke-width="0.5"/>
<line x1="154.1" y1="677.3" x2="154.1" y2="678.5" stroke="#666" stroke-width="0.5"/>
<line x1="157.5" y1="677.3" x2="157.5" y2="678.5" stroke="#666" stroke-width="0.5"/>
<line x1="160.9" y1="677.3" x2="160.9" y2="678.5" stroke="#666" stroke-width="0.5"/>
<line x1="164.3" y1="677.3" x2="164.3" y2="678.5" stroke="#666" stroke-width="0.5"/>
<line x1="167.7" y1="677.3" x2="167.7" y2="678.5" stroke="#666" stroke-width="0.5"/>
<line x1="171.1" y1="677.3" x2="171.1" y2="678.5" stroke="#666" stroke-width="0.5"/>
<line x1="174.5" y1="677.3" x2="174.5" y2="678.5" stroke="#666" stroke-width="0.5"/>
<line x1="177.9" y1="677.3" x2="177.9" y2="678.5" stroke="#666" stroke-width="0.5"/>
<line x1="181.3" y1="677.3" x2="181.3" y2="678.5" stroke="#666" stroke-width="0.5"/>
<line x1="184.7" y1="677.3" x2="184.7" y2="678.5" stroke="#666" stroke-width="0.5"/>
<line x1="188.1" y1="677.3" x2="188.1" y2="678.5" stroke="#666" stroke-width="0.5"/>
<line x1="191.5" y1="677.3" x2="191.5" y2="678.5" stroke="#666" stroke-width="0.5"/>
<line x1="194.9" y1="677.3" x2="194.9" y2="678.5" stroke="#666" stroke-width="0.5"/>
<line x1="198.3" y1="677.3" x2="198.3" y2="678.5" stroke="#666" stroke-width="0.5"/>
<line x1="201.7" y1="677.3" x2="201.7" y2="678.5" stroke="#666" stroke-width="0.5"/>
<line x1="205.1" y1="677.3" x2="205.1" y2="678.5" stroke="#666" stroke-width="0.5"/>
<line x1="208.5" y1="677.3" x2="208.5" y2="678.5" stroke="#666" stroke-width="0.5"/>
<line x1="211.9" y1="677.3" x2="211.9" y2="678.5" stroke="#666" stroke-width="0.5"/>
<line x1="215.3" y1="677.3" x2="215.3" y2="678.5" stroke="#666" stroke-width="0.5"/>
<line x1="218.7" y1="677.3" x2="218.7" y2="678.5" stroke="#666" stroke-width="0.5"/>
<line x1="222.1" y1="677.3" x2="222.1" y2="678.5" stroke="#666" stroke-width="0.5"/>
<line x1="225.5" y1="677.3" x2="225.5" y2="678.5" stroke="#666" stroke-width="0.5"/>
<line x1="124.6" y1="677.3" x2="124.6" y2="679.6" stroke="#444" stroke-width="0.6"/>
<text x="124.6" y="688.5" font-size="5" text-anchor="middle" font-weight="normal" fill="#333">0</text>
<line x1="135.9" y1="677.3" x2="135.9" y2="679.6" stroke="#444" stroke-width="0.6"/>
<text x="135.9" y="688.5" font-size="5" text-anchor="middle" font-weight="normal" fill="#333">10<tspan font-size="3.5" dy="-2.2">2</tspan></text>
<line x1="163.5" y1="677.3" x2="163.5" y2="679.6" stroke="#444" stroke-width="0.6"/>
<text x="163.5" y="688.5" font-size="5" text-anchor="middle" font-weight="normal" fill="#333">10<tspan font-size="3.5" dy="-2.2">3</tspan></text>
<line x1="190" y1="677.3" x2="190" y2="679.6" stroke="#444" stroke-width="0.6"/>
<text x="190" y="688.5" font-size="5" text-anchor="middle" font-weight="normal" fill="#333">10<tspan font-size="3.5" dy="-2.2">4</tspan></text>
<line x1="217.6" y1="677.3" x2="217.6" y2="679.6" stroke="#444" stroke-width="0.6"/>
<text x="217.6" y="688.5" font-size="5" text-anchor="middle" font-weight="normal" fill="#333">10<tspan font-size="3.5" dy="-2.2">5</tspan></text>
<text x="221.7" y="577.5" font-size="15" text-anchor="end">IgM</text>
<path d="M118.5 676.5 L123.6 654.4 L125.7 625.8 L127.3 601.3 L128.3 576.8 L129.3 570.7 L130.8 574.7 L131.8 593.1 L132.8 621.7 L134.9 648.3 L136.9 666.7 L138.9 675.9 L141 676.5Z" fill="#b3b3b7" stroke="#333" stroke-width="0.8" stroke-linejoin="round"/>
<path d="M113.4 676.5 L119.5 670.8 L123.6 654.4 L127.7 625.8 L130.8 601.3 L132.8 580.9 L134.9 572.7 L135.9 570.7 L137.9 574.7 L140 587 L142 605.4 L144 627.9 L146.1 638.1 L149.2 654.4 L154.3 666.7 L160.4 672.8 L166.5 676.5" fill="none" stroke="#231f20" stroke-width="1.05" stroke-linejoin="round" stroke-dasharray="2.4 1.7"/>
<path d="M115.4 676.5 L121.6 672.8 L127.7 666.7 L131.8 658.5 L134.9 648.3 L135.9 644.2 L138.9 645.3 L142 642.2 L145.1 638.1 L147.1 625.8 L149.2 615.6 L150.6 611.5 L152.6 617.7 L154.3 597.2 L155.9 594.2 L157.3 603.4 L159.4 591.1 L161.4 570.7 L162.9 580.9 L164.9 572.7 L166.5 589 L168.2 613.6 L170.2 612.6 L172.3 629.9 L174.7 656.5 L177.8 666.7 L180.8 672.8 L183.9 676.5 L187 674.9 L189 676.5" fill="none" stroke="#231f20" stroke-width="1.05" stroke-linejoin="round"/>
<line x1="109.9" y1="692" x2="109.9" y2="806.3" stroke="#555" stroke-width="0.8"/>
<line x1="109.9" y1="806.3" x2="223.1" y2="806.3" stroke="#231f20" stroke-width="1.3"/>
<line x1="111.4" y1="806.3" x2="111.4" y2="807.5" stroke="#666" stroke-width="0.5"/>
<line x1="114.8" y1="806.3" x2="114.8" y2="807.5" stroke="#666" stroke-width="0.5"/>
<line x1="118.2" y1="806.3" x2="118.2" y2="807.5" stroke="#666" stroke-width="0.5"/>
<line x1="121.6" y1="806.3" x2="121.6" y2="807.5" stroke="#666" stroke-width="0.5"/>
<line x1="125" y1="806.3" x2="125" y2="807.5" stroke="#666" stroke-width="0.5"/>
<line x1="128.4" y1="806.3" x2="128.4" y2="807.5" stroke="#666" stroke-width="0.5"/>
<line x1="131.8" y1="806.3" x2="131.8" y2="807.5" stroke="#666" stroke-width="0.5"/>
<line x1="135.2" y1="806.3" x2="135.2" y2="807.5" stroke="#666" stroke-width="0.5"/>
<line x1="138.6" y1="806.3" x2="138.6" y2="807.5" stroke="#666" stroke-width="0.5"/>
<line x1="142" y1="806.3" x2="142" y2="807.5" stroke="#666" stroke-width="0.5"/>
<line x1="145.4" y1="806.3" x2="145.4" y2="807.5" stroke="#666" stroke-width="0.5"/>
<line x1="148.8" y1="806.3" x2="148.8" y2="807.5" stroke="#666" stroke-width="0.5"/>
<line x1="152.2" y1="806.3" x2="152.2" y2="807.5" stroke="#666" stroke-width="0.5"/>
<line x1="155.6" y1="806.3" x2="155.6" y2="807.5" stroke="#666" stroke-width="0.5"/>
<line x1="159" y1="806.3" x2="159" y2="807.5" stroke="#666" stroke-width="0.5"/>
<line x1="162.4" y1="806.3" x2="162.4" y2="807.5" stroke="#666" stroke-width="0.5"/>
<line x1="165.8" y1="806.3" x2="165.8" y2="807.5" stroke="#666" stroke-width="0.5"/>
<line x1="169.2" y1="806.3" x2="169.2" y2="807.5" stroke="#666" stroke-width="0.5"/>
<line x1="172.6" y1="806.3" x2="172.6" y2="807.5" stroke="#666" stroke-width="0.5"/>
<line x1="176" y1="806.3" x2="176" y2="807.5" stroke="#666" stroke-width="0.5"/>
<line x1="179.4" y1="806.3" x2="179.4" y2="807.5" stroke="#666" stroke-width="0.5"/>
<line x1="182.8" y1="806.3" x2="182.8" y2="807.5" stroke="#666" stroke-width="0.5"/>
<line x1="186.2" y1="806.3" x2="186.2" y2="807.5" stroke="#666" stroke-width="0.5"/>
<line x1="189.6" y1="806.3" x2="189.6" y2="807.5" stroke="#666" stroke-width="0.5"/>
<line x1="193" y1="806.3" x2="193" y2="807.5" stroke="#666" stroke-width="0.5"/>
<line x1="196.4" y1="806.3" x2="196.4" y2="807.5" stroke="#666" stroke-width="0.5"/>
<line x1="199.8" y1="806.3" x2="199.8" y2="807.5" stroke="#666" stroke-width="0.5"/>
<line x1="203.2" y1="806.3" x2="203.2" y2="807.5" stroke="#666" stroke-width="0.5"/>
<line x1="206.6" y1="806.3" x2="206.6" y2="807.5" stroke="#666" stroke-width="0.5"/>
<line x1="210" y1="806.3" x2="210" y2="807.5" stroke="#666" stroke-width="0.5"/>
<line x1="213.4" y1="806.3" x2="213.4" y2="807.5" stroke="#666" stroke-width="0.5"/>
<line x1="216.8" y1="806.3" x2="216.8" y2="807.5" stroke="#666" stroke-width="0.5"/>
<line x1="220.2" y1="806.3" x2="220.2" y2="807.5" stroke="#666" stroke-width="0.5"/>
<line x1="131.1" y1="806.3" x2="131.1" y2="808.6" stroke="#444" stroke-width="0.6"/>
<text x="131.1" y="817.6" font-size="5" text-anchor="middle" font-weight="normal" fill="#333">0</text>
<line x1="158.5" y1="806.3" x2="158.5" y2="808.6" stroke="#444" stroke-width="0.6"/>
<text x="158.5" y="817.6" font-size="5" text-anchor="middle" font-weight="normal" fill="#333">10<tspan font-size="3.5" dy="-2.2">3</tspan></text>
<line x1="187" y1="806.3" x2="187" y2="808.6" stroke="#444" stroke-width="0.6"/>
<text x="187" y="817.6" font-size="5" text-anchor="middle" font-weight="normal" fill="#333">10<tspan font-size="3.5" dy="-2.2">4</tspan></text>
<line x1="213.2" y1="806.3" x2="213.2" y2="808.6" stroke="#444" stroke-width="0.6"/>
<text x="213.2" y="817.6" font-size="5" text-anchor="middle" font-weight="normal" fill="#333">10<tspan font-size="3.5" dy="-2.2">5</tspan></text>
<text x="222" y="706.5" font-size="15" text-anchor="end">IgD</text>
<path d="M119.1 806.3 L120.8 789.5 L123 763.2 L125.2 734.7 L127.4 710.7 L128.9 700.8 L130.5 698.6 L132.2 701.9 L134 715 L135.5 734.7 L137 752.3 L138.8 767.6 L141 785.1 L143.2 798.2 L145.8 804.8 L148.6 806.3Z" fill="#b3b3b7" stroke="#333" stroke-width="0.8" stroke-linejoin="round"/>
<path d="M123.5 806.3 L127.8 802.6 L132.2 800.4 L136.6 799.3 L141 800.4 L145.4 801.5 L151.9 802.6 L158.5 803.7 L165.1 803.3 L170.5 800.4 L173.8 796 L177.1 782.9 L179.3 769.8 L181.5 756.6 L183.7 741.3 L185.9 728.2 L188.1 719.4 L190.2 708.5 L191.8 700.8 L193.5 699.7 L195.3 708.5 L196.8 734.7 L197.9 763.2 L199.7 785.1 L201.2 798.2 L203.4 804.8 L205.6 806.3" fill="none" stroke="#231f20" stroke-width="1.05" stroke-linejoin="round" stroke-dasharray="2.4 1.7"/>
<path d="M112.5 806.3 L114.7 799.3 L116.9 795 L119.1 791.7 L121.3 787.3 L123.5 782.9 L125.7 780.7 L127.8 776.3 L129.6 763.2 L130.7 758.8 L132.2 767.6 L133.3 774.2 L134.4 756.6 L135.5 743.5 L136.2 736.9 L137.3 752.3 L138.8 763.2 L139.9 756.6 L141.4 761 L143.2 755.5 L144.9 764.3 L146.5 765.4 L148 774.2 L149.7 761 L151.5 757.7 L153 763.2 L154.6 758.8 L156.3 765.4 L158.1 772 L159.6 763.2 L161.1 758.8 L162.9 755.5 L165.1 752.3 L167.3 747.9 L169.4 741.3 L171.6 739.1 L172.7 728.2 L174.3 732.6 L175.6 745.7 L177.1 723.8 L178.2 699.7 L179.3 704.1 L180.8 717.2 L182.1 732.6 L183.7 712.8 L184.8 722.7 L185.9 719.4 L187 726 L188.7 732.6 L190.2 729.3 L191.3 736.9 L193.1 752.3 L194.6 763.2 L196.2 772 L197.5 787.3 L199.7 798.2 L202.3 804.8 L204.5 806.3" fill="none" stroke="#231f20" stroke-width="1.05" stroke-linejoin="round"/>
<rect x="109.9" y="825.3" width="114.3" height="114.3" fill="none" stroke="#9a9a9a" stroke-width="0.8"/>
<line x1="109.9" y1="825.3" x2="109.9" y2="939.6" stroke="#555" stroke-width="0.8"/>
<line x1="109.9" y1="939.6" x2="224.2" y2="939.6" stroke="#231f20" stroke-width="1.3"/>
<line x1="111.4" y1="939.6" x2="111.4" y2="940.8" stroke="#666" stroke-width="0.5"/>
<line x1="114.8" y1="939.6" x2="114.8" y2="940.8" stroke="#666" stroke-width="0.5"/>
<line x1="118.2" y1="939.6" x2="118.2" y2="940.8" stroke="#666" stroke-width="0.5"/>
<line x1="121.6" y1="939.6" x2="121.6" y2="940.8" stroke="#666" stroke-width="0.5"/>
<line x1="125" y1="939.6" x2="125" y2="940.8" stroke="#666" stroke-width="0.5"/>
<line x1="128.4" y1="939.6" x2="128.4" y2="940.8" stroke="#666" stroke-width="0.5"/>
<line x1="131.8" y1="939.6" x2="131.8" y2="940.8" stroke="#666" stroke-width="0.5"/>
<line x1="135.2" y1="939.6" x2="135.2" y2="940.8" stroke="#666" stroke-width="0.5"/>
<line x1="138.6" y1="939.6" x2="138.6" y2="940.8" stroke="#666" stroke-width="0.5"/>
<line x1="142" y1="939.6" x2="142" y2="940.8" stroke="#666" stroke-width="0.5"/>
<line x1="145.4" y1="939.6" x2="145.4" y2="940.8" stroke="#666" stroke-width="0.5"/>
<line x1="148.8" y1="939.6" x2="148.8" y2="940.8" stroke="#666" stroke-width="0.5"/>
<line x1="152.2" y1="939.6" x2="152.2" y2="940.8" stroke="#666" stroke-width="0.5"/>
<line x1="155.6" y1="939.6" x2="155.6" y2="940.8" stroke="#666" stroke-width="0.5"/>
<line x1="159" y1="939.6" x2="159" y2="940.8" stroke="#666" stroke-width="0.5"/>
<line x1="162.4" y1="939.6" x2="162.4" y2="940.8" stroke="#666" stroke-width="0.5"/>
<line x1="165.8" y1="939.6" x2="165.8" y2="940.8" stroke="#666" stroke-width="0.5"/>
<line x1="169.2" y1="939.6" x2="169.2" y2="940.8" stroke="#666" stroke-width="0.5"/>
<line x1="172.6" y1="939.6" x2="172.6" y2="940.8" stroke="#666" stroke-width="0.5"/>
<line x1="176" y1="939.6" x2="176" y2="940.8" stroke="#666" stroke-width="0.5"/>
<line x1="179.4" y1="939.6" x2="179.4" y2="940.8" stroke="#666" stroke-width="0.5"/>
<line x1="182.8" y1="939.6" x2="182.8" y2="940.8" stroke="#666" stroke-width="0.5"/>
<line x1="186.2" y1="939.6" x2="186.2" y2="940.8" stroke="#666" stroke-width="0.5"/>
<line x1="189.6" y1="939.6" x2="189.6" y2="940.8" stroke="#666" stroke-width="0.5"/>
<line x1="193" y1="939.6" x2="193" y2="940.8" stroke="#666" stroke-width="0.5"/>
<line x1="196.4" y1="939.6" x2="196.4" y2="940.8" stroke="#666" stroke-width="0.5"/>
<line x1="199.8" y1="939.6" x2="199.8" y2="940.8" stroke="#666" stroke-width="0.5"/>
<line x1="203.2" y1="939.6" x2="203.2" y2="940.8" stroke="#666" stroke-width="0.5"/>
<line x1="206.6" y1="939.6" x2="206.6" y2="940.8" stroke="#666" stroke-width="0.5"/>
<line x1="210" y1="939.6" x2="210" y2="940.8" stroke="#666" stroke-width="0.5"/>
<line x1="213.4" y1="939.6" x2="213.4" y2="940.8" stroke="#666" stroke-width="0.5"/>
<line x1="216.8" y1="939.6" x2="216.8" y2="940.8" stroke="#666" stroke-width="0.5"/>
<line x1="220.2" y1="939.6" x2="220.2" y2="940.8" stroke="#666" stroke-width="0.5"/>
<line x1="122.4" y1="939.6" x2="122.4" y2="941.9" stroke="#444" stroke-width="0.6"/>
<text x="122.4" y="950.8" font-size="5" text-anchor="middle" font-weight="normal" fill="#333">0</text>
<line x1="134" y1="939.6" x2="134" y2="941.9" stroke="#444" stroke-width="0.6"/>
<text x="134" y="950.8" font-size="5" text-anchor="middle" font-weight="normal" fill="#333">10<tspan font-size="3.5" dy="-2.2">2</tspan></text>
<line x1="160.7" y1="939.6" x2="160.7" y2="941.9" stroke="#444" stroke-width="0.6"/>
<text x="160.7" y="950.8" font-size="5" text-anchor="middle" font-weight="normal" fill="#333">10<tspan font-size="3.5" dy="-2.2">3</tspan></text>
<line x1="187.4" y1="939.6" x2="187.4" y2="941.9" stroke="#444" stroke-width="0.6"/>
<text x="187.4" y="950.8" font-size="5" text-anchor="middle" font-weight="normal" fill="#333">10<tspan font-size="3.5" dy="-2.2">4</tspan></text>
<line x1="213.2" y1="939.6" x2="213.2" y2="941.9" stroke="#444" stroke-width="0.6"/>
<text x="213.2" y="950.8" font-size="5" text-anchor="middle" font-weight="normal" fill="#333">10<tspan font-size="3.5" dy="-2.2">5</tspan></text>
<line x1="136.2" y1="825.3" x2="136.2" y2="939.6" stroke="#333" stroke-width="1.1"/>
<line x1="136.2" y1="860.8" x2="224.2" y2="860.8" stroke="#333" stroke-width="1.0"/>
<line x1="223.9" y1="858.3" x2="223.9" y2="863.3" stroke="#333" stroke-width="1.0"/>
<text x="221.3" y="841.7" font-size="15" text-anchor="end">CD9</text>
<path d="M112.5 939.6 L114.7 928.2 L116.9 902 L118.6 875.7 L120.2 849.4 L121.7 836.3 L123 833 L124.6 836.3 L126.1 853.8 L127.8 880.1 L129.6 906.3 L131.8 928.2 L134 938.7 L135.5 939.6Z" fill="#b3b3b7" stroke="#333" stroke-width="0.8" stroke-linejoin="round"/>
<path d="M110.3 919.5 L112.5 908.5 L114.7 891 L116.9 864.7 L119.1 845 L121.3 834.1 L123 831.9 L124.8 834.1 L126.7 847.2 L128.9 873.5 L131.1 897.6 L133.3 915.1 L135.5 928.2 L137.7 933.7 L141 937 L146.5 938.1 L151.9 939.2" fill="none" stroke="#231f20" stroke-width="1.05" stroke-linejoin="round" stroke-dasharray="2.4 1.7"/>
<path d="M110.3 934.8 L112.5 930.4 L114.7 915.1 L116.9 893.2 L119.1 871.3 L120.8 858.2 L122.4 852.7 L123.9 856 L125.7 863.6 L126.7 856 L128.3 849.4 L129.6 842.8 L131.1 837.4 L132.7 834.1 L134 831.9 L135.1 836.3 L136.6 847.2 L138.4 850.5 L139.9 842.8 L141 838.5 L142.1 842.8 L143.6 851.6 L145.4 858.2 L147.1 864.7 L148.6 875.7 L150.2 886.6 L151.5 899.8 L153 897.6 L154.1 902 L155.9 915.1 L157.8 928.2 L159.6 930.4 L160.7 929.3 L161.8 931.5 L163.3 937 L165.1 939.2 L168.4 938.1 L170.5 935.9 L172.1 938.7 L176 939.2 L178.2 939.6" fill="none" stroke="#231f20" stroke-width="1.05" stroke-linejoin="round"/>
<rect x="414.7" y="433.5" width="115" height="116.5" fill="none" stroke="#9a9a9a" stroke-width="0.8"/>
<line x1="414.7" y1="433.5" x2="414.7" y2="550" stroke="#555" stroke-width="0.8"/>
<line x1="414.7" y1="550" x2="529.7" y2="550" stroke="#231f20" stroke-width="1.3"/>
<line x1="416.2" y1="550" x2="416.2" y2="551.2" stroke="#666" stroke-width="0.5"/>
<line x1="419.6" y1="550" x2="419.6" y2="551.2" stroke="#666" stroke-width="0.5"/>
<line x1="423" y1="550" x2="423" y2="551.2" stroke="#666" stroke-width="0.5"/>
<line x1="426.4" y1="550" x2="426.4" y2="551.2" stroke="#666" stroke-width="0.5"/>
<line x1="429.8" y1="550" x2="429.8" y2="551.2" stroke="#666" stroke-width="0.5"/>
<line x1="433.2" y1="550" x2="433.2" y2="551.2" stroke="#666" stroke-width="0.5"/>
<line x1="436.6" y1="550" x2="436.6" y2="551.2" stroke="#666" stroke-width="0.5"/>
<line x1="440" y1="550" x2="440" y2="551.2" stroke="#666" stroke-width="0.5"/>
<line x1="443.4" y1="550" x2="443.4" y2="551.2" stroke="#666" stroke-width="0.5"/>
<line x1="446.8" y1="550" x2="446.8" y2="551.2" stroke="#666" stroke-width="0.5"/>
<line x1="450.2" y1="550" x2="450.2" y2="551.2" stroke="#666" stroke-width="0.5"/>
<line x1="453.6" y1="550" x2="453.6" y2="551.2" stroke="#666" stroke-width="0.5"/>
<line x1="457" y1="550" x2="457" y2="551.2" stroke="#666" stroke-width="0.5"/>
<line x1="460.4" y1="550" x2="460.4" y2="551.2" stroke="#666" stroke-width="0.5"/>
<line x1="463.8" y1="550" x2="463.8" y2="551.2" stroke="#666" stroke-width="0.5"/>
<line x1="467.2" y1="550" x2="467.2" y2="551.2" stroke="#666" stroke-width="0.5"/>
<line x1="470.6" y1="550" x2="470.6" y2="551.2" stroke="#666" stroke-width="0.5"/>
<line x1="474" y1="550" x2="474" y2="551.2" stroke="#666" stroke-width="0.5"/>
<line x1="477.4" y1="550" x2="477.4" y2="551.2" stroke="#666" stroke-width="0.5"/>
<line x1="480.8" y1="550" x2="480.8" y2="551.2" stroke="#666" stroke-width="0.5"/>
<line x1="484.2" y1="550" x2="484.2" y2="551.2" stroke="#666" stroke-width="0.5"/>
<line x1="487.6" y1="550" x2="487.6" y2="551.2" stroke="#666" stroke-width="0.5"/>
<line x1="491" y1="550" x2="491" y2="551.2" stroke="#666" stroke-width="0.5"/>
<line x1="494.4" y1="550" x2="494.4" y2="551.2" stroke="#666" stroke-width="0.5"/>
<line x1="497.8" y1="550" x2="497.8" y2="551.2" stroke="#666" stroke-width="0.5"/>
<line x1="501.2" y1="550" x2="501.2" y2="551.2" stroke="#666" stroke-width="0.5"/>
<line x1="504.6" y1="550" x2="504.6" y2="551.2" stroke="#666" stroke-width="0.5"/>
<line x1="508" y1="550" x2="508" y2="551.2" stroke="#666" stroke-width="0.5"/>
<line x1="511.4" y1="550" x2="511.4" y2="551.2" stroke="#666" stroke-width="0.5"/>
<line x1="514.8" y1="550" x2="514.8" y2="551.2" stroke="#666" stroke-width="0.5"/>
<line x1="518.2" y1="550" x2="518.2" y2="551.2" stroke="#666" stroke-width="0.5"/>
<line x1="521.6" y1="550" x2="521.6" y2="551.2" stroke="#666" stroke-width="0.5"/>
<line x1="525" y1="550" x2="525" y2="551.2" stroke="#666" stroke-width="0.5"/>
<line x1="415.3" y1="550" x2="415.3" y2="552.3" stroke="#444" stroke-width="0.6"/>
<text x="415.3" y="561" font-size="5" text-anchor="middle" font-weight="normal" fill="#333">0</text>
<line x1="436.8" y1="550" x2="436.8" y2="552.3" stroke="#444" stroke-width="0.6"/>
<text x="436.8" y="561" font-size="5" text-anchor="middle" font-weight="normal" fill="#333">50K</text>
<line x1="459.3" y1="550" x2="459.3" y2="552.3" stroke="#444" stroke-width="0.6"/>
<text x="459.3" y="561" font-size="5" text-anchor="middle" font-weight="normal" fill="#333">100K</text>
<line x1="480.7" y1="550" x2="480.7" y2="552.3" stroke="#444" stroke-width="0.6"/>
<text x="480.7" y="561" font-size="5" text-anchor="middle" font-weight="normal" fill="#333">150K</text>
<line x1="502.2" y1="550" x2="502.2" y2="552.3" stroke="#444" stroke-width="0.6"/>
<text x="502.2" y="561" font-size="5" text-anchor="middle" font-weight="normal" fill="#333">200K</text>
<line x1="524.3" y1="550" x2="524.3" y2="552.3" stroke="#444" stroke-width="0.6"/>
<text x="524.3" y="561" font-size="5" text-anchor="middle" font-weight="normal" fill="#333">250K</text>
<text x="527.5" y="452.1" font-size="15" text-anchor="end">FSC</text>
<path d="M435.5 549.6 L437.7 540.1 L439.9 522.6 L441.4 498.5 L442.7 472.3 L443.6 450.4 L444.9 440.5 L445.8 443.8 L446.7 463.5 L447.6 492 L448.6 513.9 L450.8 531.4 L453.7 542.3 L457.4 547.1 L460.7 548.9 L465.1 549.6" fill="none" stroke="#231f20" stroke-width="1.05" stroke-linejoin="round" stroke-dasharray="2.4 1.7"/>
<path d="M436.6 549.6 L441 542.3 L444.9 529.2 L447.1 516 L448.2 509.5 L449.3 492 L450.8 472.3 L452.4 454.7 L454.1 440.5 L455.2 443.8 L456.3 452.6 L457.4 450.4 L458.5 461.3 L460.3 481 L461.8 496.3 L464 516 L466.2 533.6 L468.4 544.5 L470.5 549.6" fill="none" stroke="#231f20" stroke-width="1.05" stroke-linejoin="round"/>
<rect x="417.6" y="564.2" width="114.3" height="113.2" fill="none" stroke="#9a9a9a" stroke-width="0.8"/>
<line x1="417.6" y1="564.2" x2="417.6" y2="677.4" stroke="#555" stroke-width="0.8"/>
<line x1="417.6" y1="677.4" x2="531.9" y2="677.4" stroke="#231f20" stroke-width="1.3"/>
<line x1="419.1" y1="677.4" x2="419.1" y2="678.6" stroke="#666" stroke-width="0.5"/>
<line x1="422.5" y1="677.4" x2="422.5" y2="678.6" stroke="#666" stroke-width="0.5"/>
<line x1="425.9" y1="677.4" x2="425.9" y2="678.6" stroke="#666" stroke-width="0.5"/>
<line x1="429.3" y1="677.4" x2="429.3" y2="678.6" stroke="#666" stroke-width="0.5"/>
<line x1="432.7" y1="677.4" x2="432.7" y2="678.6" stroke="#666" stroke-width="0.5"/>
<line x1="436.1" y1="677.4" x2="436.1" y2="678.6" stroke="#666" stroke-width="0.5"/>
<line x1="439.5" y1="677.4" x2="439.5" y2="678.6" stroke="#666" stroke-width="0.5"/>
<line x1="442.9" y1="677.4" x2="442.9" y2="678.6" stroke="#666" stroke-width="0.5"/>
<line x1="446.3" y1="677.4" x2="446.3" y2="678.6" stroke="#666" stroke-width="0.5"/>
<line x1="449.7" y1="677.4" x2="449.7" y2="678.6" stroke="#666" stroke-width="0.5"/>
<line x1="453.1" y1="677.4" x2="453.1" y2="678.6" stroke="#666" stroke-width="0.5"/>
<line x1="456.5" y1="677.4" x2="456.5" y2="678.6" stroke="#666" stroke-width="0.5"/>
<line x1="459.9" y1="677.4" x2="459.9" y2="678.6" stroke="#666" stroke-width="0.5"/>
<line x1="463.3" y1="677.4" x2="463.3" y2="678.6" stroke="#666" stroke-width="0.5"/>
<line x1="466.7" y1="677.4" x2="466.7" y2="678.6" stroke="#666" stroke-width="0.5"/>
<line x1="470.1" y1="677.4" x2="470.1" y2="678.6" stroke="#666" stroke-width="0.5"/>
<line x1="473.5" y1="677.4" x2="473.5" y2="678.6" stroke="#666" stroke-width="0.5"/>
<line x1="476.9" y1="677.4" x2="476.9" y2="678.6" stroke="#666" stroke-width="0.5"/>
<line x1="480.3" y1="677.4" x2="480.3" y2="678.6" stroke="#666" stroke-width="0.5"/>
<line x1="483.7" y1="677.4" x2="483.7" y2="678.6" stroke="#666" stroke-width="0.5"/>
<line x1="487.1" y1="677.4" x2="487.1" y2="678.6" stroke="#666" stroke-width="0.5"/>
<line x1="490.5" y1="677.4" x2="490.5" y2="678.6" stroke="#666" stroke-width="0.5"/>
<line x1="493.9" y1="677.4" x2="493.9" y2="678.6" stroke="#666" stroke-width="0.5"/>
<line x1="497.3" y1="677.4" x2="497.3" y2="678.6" stroke="#666" stroke-width="0.5"/>
<line x1="500.7" y1="677.4" x2="500.7" y2="678.6" stroke="#666" stroke-width="0.5"/>
<line x1="504.1" y1="677.4" x2="504.1" y2="678.6" stroke="#666" stroke-width="0.5"/>
<line x1="507.5" y1="677.4" x2="507.5" y2="678.6" stroke="#666" stroke-width="0.5"/>
<line x1="510.9" y1="677.4" x2="510.9" y2="678.6" stroke="#666" stroke-width="0.5"/>
<line x1="514.3" y1="677.4" x2="514.3" y2="678.6" stroke="#666" stroke-width="0.5"/>
<line x1="517.7" y1="677.4" x2="517.7" y2="678.6" stroke="#666" stroke-width="0.5"/>
<line x1="521.1" y1="677.4" x2="521.1" y2="678.6" stroke="#666" stroke-width="0.5"/>
<line x1="524.5" y1="677.4" x2="524.5" y2="678.6" stroke="#666" stroke-width="0.5"/>
<line x1="527.9" y1="677.4" x2="527.9" y2="678.6" stroke="#666" stroke-width="0.5"/>
<line x1="429.6" y1="677.4" x2="429.6" y2="679.7" stroke="#444" stroke-width="0.6"/>
<text x="429.6" y="688.7" font-size="5" text-anchor="middle" font-weight="normal" fill="#333">0</text>
<line x1="441.4" y1="677.4" x2="441.4" y2="679.7" stroke="#444" stroke-width="0.6"/>
<text x="441.4" y="688.7" font-size="5" text-anchor="middle" font-weight="normal" fill="#333">10<tspan font-size="3.5" dy="-2.2">2</tspan></text>
<line x1="469.4" y1="677.4" x2="469.4" y2="679.7" stroke="#444" stroke-width="0.6"/>
<text x="469.4" y="688.7" font-size="5" text-anchor="middle" font-weight="normal" fill="#333">10<tspan font-size="3.5" dy="-2.2">3</tspan></text>
<line x1="496.2" y1="677.4" x2="496.2" y2="679.7" stroke="#444" stroke-width="0.6"/>
<text x="496.2" y="688.7" font-size="5" text-anchor="middle" font-weight="normal" fill="#333">10<tspan font-size="3.5" dy="-2.2">4</tspan></text>
<line x1="521.6" y1="677.4" x2="521.6" y2="679.7" stroke="#444" stroke-width="0.6"/>
<text x="521.6" y="688.7" font-size="5" text-anchor="middle" font-weight="normal" fill="#333">10<tspan font-size="3.5" dy="-2.2">5</tspan></text>
<text x="528.6" y="578.5" font-size="15" text-anchor="end">IgM</text>
<path d="M426.7 677.4 L428.9 648.5 L430.5 622.3 L432.2 589.4 L434 570.8 L435.5 574.1 L437 593.8 L438.8 624.4 L441 652.9 L443.6 670.4 L446.5 677 L448.6 677.4Z" fill="#b3b3b7" stroke="#333" stroke-width="0.8" stroke-linejoin="round"/>
<path d="M418 676.6 L420.2 672.6 L423.5 666 L427.4 646.3 L430 622.3 L433.3 600.4 L436.2 589.4 L438.8 578.5 L441.4 570.8 L443.6 574.1 L445.8 580.7 L448.6 598.2 L451.5 615.7 L454.6 633.2 L458.5 646.3 L462.9 657.3 L467.3 663.9 L471.6 670.4 L476 674.8 L479.3 677" fill="none" stroke="#231f20" stroke-width="1.05" stroke-linejoin="round" stroke-dasharray="2.4 1.7"/>
<path d="M430 677 L434.4 675.9 L438.8 674.8 L444.3 672.6 L449.7 669.3 L453.7 663.9 L456.7 652.9 L459.6 642 L461.8 628.8 L464 620.1 L466.8 604.7 L468.8 591.6 L470.5 578.5 L472.1 570.8 L473.8 574.1 L475.1 582.8 L476.5 580.7 L477.8 593.8 L480 613.5 L482.1 633.2 L484.3 652.9 L487 668.2 L490.2 675.9 L493.5 677.4" fill="none" stroke="#231f20" stroke-width="1.05" stroke-linejoin="round"/>
<rect x="414.7" y="692.7" width="113.4" height="113.6" fill="none" stroke="#9a9a9a" stroke-width="0.8"/>
<line x1="414.7" y1="692.7" x2="414.7" y2="806.3" stroke="#555" stroke-width="0.8"/>
<line x1="414.7" y1="806.3" x2="528.1" y2="806.3" stroke="#231f20" stroke-width="1.3"/>
<line x1="416.2" y1="806.3" x2="416.2" y2="807.5" stroke="#666" stroke-width="0.5"/>
<line x1="419.6" y1="806.3" x2="419.6" y2="807.5" stroke="#666" stroke-width="0.5"/>
<line x1="423" y1="806.3" x2="423" y2="807.5" stroke="#666" stroke-width="0.5"/>
<line x1="426.4" y1="806.3" x2="426.4" y2="807.5" stroke="#666" stroke-width="0.5"/>
<line x1="429.8" y1="806.3" x2="429.8" y2="807.5" stroke="#666" stroke-width="0.5"/>
<line x1="433.2" y1="806.3" x2="433.2" y2="807.5" stroke="#666" stroke-width="0.5"/>
<line x1="436.6" y1="806.3" x2="436.6" y2="807.5" stroke="#666" stroke-width="0.5"/>
<line x1="440" y1="806.3" x2="440" y2="807.5" stroke="#666" stroke-width="0.5"/>
<line x1="443.4" y1="806.3" x2="443.4" y2="807.5" stroke="#666" stroke-width="0.5"/>
<line x1="446.8" y1="806.3" x2="446.8" y2="807.5" stroke="#666" stroke-width="0.5"/>
<line x1="450.2" y1="806.3" x2="450.2" y2="807.5" stroke="#666" stroke-width="0.5"/>
<line x1="453.6" y1="806.3" x2="453.6" y2="807.5" stroke="#666" stroke-width="0.5"/>
<line x1="457" y1="806.3" x2="457" y2="807.5" stroke="#666" stroke-width="0.5"/>
<line x1="460.4" y1="806.3" x2="460.4" y2="807.5" stroke="#666" stroke-width="0.5"/>
<line x1="463.8" y1="806.3" x2="463.8" y2="807.5" stroke="#666" stroke-width="0.5"/>
<line x1="467.2" y1="806.3" x2="467.2" y2="807.5" stroke="#666" stroke-width="0.5"/>
<line x1="470.6" y1="806.3" x2="470.6" y2="807.5" stroke="#666" stroke-width="0.5"/>
<line x1="474" y1="806.3" x2="474" y2="807.5" stroke="#666" stroke-width="0.5"/>
<line x1="477.4" y1="806.3" x2="477.4" y2="807.5" stroke="#666" stroke-width="0.5"/>
<line x1="480.8" y1="806.3" x2="480.8" y2="807.5" stroke="#666" stroke-width="0.5"/>
<line x1="484.2" y1="806.3" x2="484.2" y2="807.5" stroke="#666" stroke-width="0.5"/>
<line x1="487.6" y1="806.3" x2="487.6" y2="807.5" stroke="#666" stroke-width="0.5"/>
<line x1="491" y1="806.3" x2="491" y2="807.5" stroke="#666" stroke-width="0.5"/>
<line x1="494.4" y1="806.3" x2="494.4" y2="807.5" stroke="#666" stroke-width="0.5"/>
<line x1="497.8" y1="806.3" x2="497.8" y2="807.5" stroke="#666" stroke-width="0.5"/>
<line x1="501.2" y1="806.3" x2="501.2" y2="807.5" stroke="#666" stroke-width="0.5"/>
<line x1="504.6" y1="806.3" x2="504.6" y2="807.5" stroke="#666" stroke-width="0.5"/>
<line x1="508" y1="806.3" x2="508" y2="807.5" stroke="#666" stroke-width="0.5"/>
<line x1="511.4" y1="806.3" x2="511.4" y2="807.5" stroke="#666" stroke-width="0.5"/>
<line x1="514.8" y1="806.3" x2="514.8" y2="807.5" stroke="#666" stroke-width="0.5"/>
<line x1="518.2" y1="806.3" x2="518.2" y2="807.5" stroke="#666" stroke-width="0.5"/>
<line x1="521.6" y1="806.3" x2="521.6" y2="807.5" stroke="#666" stroke-width="0.5"/>
<line x1="525" y1="806.3" x2="525" y2="807.5" stroke="#666" stroke-width="0.5"/>
<line x1="435.5" y1="806.3" x2="435.5" y2="808.6" stroke="#444" stroke-width="0.6"/>
<text x="435.5" y="817.6" font-size="5" text-anchor="middle" font-weight="normal" fill="#333">0</text>
<line x1="463.3" y1="806.3" x2="463.3" y2="808.6" stroke="#444" stroke-width="0.6"/>
<text x="463.3" y="817.6" font-size="5" text-anchor="middle" font-weight="normal" fill="#333">10<tspan font-size="3.5" dy="-2.2">3</tspan></text>
<line x1="491.8" y1="806.3" x2="491.8" y2="808.6" stroke="#444" stroke-width="0.6"/>
<text x="491.8" y="817.6" font-size="5" text-anchor="middle" font-weight="normal" fill="#333">10<tspan font-size="3.5" dy="-2.2">4</tspan></text>
<line x1="518.7" y1="806.3" x2="518.7" y2="808.6" stroke="#444" stroke-width="0.6"/>
<text x="518.7" y="817.6" font-size="5" text-anchor="middle" font-weight="normal" fill="#333">10<tspan font-size="3.5" dy="-2.2">5</tspan></text>
<text x="526.4" y="706.5" font-size="15" text-anchor="end">IgD</text>
<path d="M419.1 806.3 L422.4 793.9 L425.7 767.6 L427.8 741.3 L429.6 719.4 L431.1 706.3 L433.3 699.7 L435.5 704.1 L437.7 717.2 L439.9 739.1 L442.1 758.8 L444.3 774.2 L447.1 793.9 L449.7 803.7 L451.5 806.3Z" fill="#b3b3b7" stroke="#333" stroke-width="0.8" stroke-linejoin="round"/>
<path d="M431.1 806.3 L435.5 802.6 L439.9 800.4 L443.2 801.5 L447.6 800.4 L451.9 800 L456.3 800.4 L460.7 801.1 L465.1 801.5 L469.4 800.9 L473.8 797.1 L478.2 791.7 L481.5 788.4 L483.7 778.5 L485.9 765.4 L488.1 747.9 L490.2 736.9 L492.4 719.4 L494.6 704.1 L496.2 700.8 L497.5 706.3 L499 734.7 L500.8 767.6 L502.7 789.5 L504.5 800.4 L506.7 806.3" fill="none" stroke="#231f20" stroke-width="1.05" stroke-linejoin="round" stroke-dasharray="2.4 1.7"/>
<path d="M416.9 806.3 L421.3 804.8 L425.7 796 L428.9 778.5 L431.1 765.4 L433.3 763.2 L436.2 759.9 L438.4 763.2 L440.5 767.6 L442.7 754.4 L444.3 751.2 L446.5 756.6 L448.6 757.7 L450.8 756.6 L452.4 755.5 L454.1 758.8 L455.9 772 L457.4 782.9 L458.9 767.6 L460.7 755.5 L462.9 745.7 L464.6 723.8 L466.2 699.7 L467.7 712.8 L469.4 726 L471.2 719.4 L472.7 700.8 L474.3 712.8 L476 717.2 L477.8 701.9 L479.3 712.8 L481.5 726 L483.7 719.4 L485.9 703 L487 710.7 L488.1 721.6 L489.6 747.9 L491.3 747.9 L493.5 752.3 L495.3 767.6 L496.8 789.5 L499 803.7 L502.3 806.3" fill="none" stroke="#231f20" stroke-width="1.05" stroke-linejoin="round"/>
<rect x="414.3" y="825.8" width="115.4" height="114" fill="none" stroke="#9a9a9a" stroke-width="0.8"/>
<line x1="414.3" y1="825.8" x2="414.3" y2="939.8" stroke="#555" stroke-width="0.8"/>
<line x1="414.3" y1="939.8" x2="529.7" y2="939.8" stroke="#231f20" stroke-width="1.3"/>
<line x1="415.8" y1="939.8" x2="415.8" y2="941" stroke="#666" stroke-width="0.5"/>
<line x1="419.2" y1="939.8" x2="419.2" y2="941" stroke="#666" stroke-width="0.5"/>
<line x1="422.6" y1="939.8" x2="422.6" y2="941" stroke="#666" stroke-width="0.5"/>
<line x1="426" y1="939.8" x2="426" y2="941" stroke="#666" stroke-width="0.5"/>
<line x1="429.4" y1="939.8" x2="429.4" y2="941" stroke="#666" stroke-width="0.5"/>
<line x1="432.8" y1="939.8" x2="432.8" y2="941" stroke="#666" stroke-width="0.5"/>
<line x1="436.2" y1="939.8" x2="436.2" y2="941" stroke="#666" stroke-width="0.5"/>
<line x1="439.6" y1="939.8" x2="439.6" y2="941" stroke="#666" stroke-width="0.5"/>
<line x1="443" y1="939.8" x2="443" y2="941" stroke="#666" stroke-width="0.5"/>
<line x1="446.4" y1="939.8" x2="446.4" y2="941" stroke="#666" stroke-width="0.5"/>
<line x1="449.8" y1="939.8" x2="449.8" y2="941" stroke="#666" stroke-width="0.5"/>
<line x1="453.2" y1="939.8" x2="453.2" y2="941" stroke="#666" stroke-width="0.5"/>
<line x1="456.6" y1="939.8" x2="456.6" y2="941" stroke="#666" stroke-width="0.5"/>
<line x1="460" y1="939.8" x2="460" y2="941" stroke="#666" stroke-width="0.5"/>
<line x1="463.4" y1="939.8" x2="463.4" y2="941" stroke="#666" stroke-width="0.5"/>
<line x1="466.8" y1="939.8" x2="466.8" y2="941" stroke="#666" stroke-width="0.5"/>
<line x1="470.2" y1="939.8" x2="470.2" y2="941" stroke="#666" stroke-width="0.5"/>
<line x1="473.6" y1="939.8" x2="473.6" y2="941" stroke="#666" stroke-width="0.5"/>
<line x1="477" y1="939.8" x2="477" y2="941" stroke="#666" stroke-width="0.5"/>
<line x1="480.4" y1="939.8" x2="480.4" y2="941" stroke="#666" stroke-width="0.5"/>
<line x1="483.8" y1="939.8" x2="483.8" y2="941" stroke="#666" stroke-width="0.5"/>
<line x1="487.2" y1="939.8" x2="487.2" y2="941" stroke="#666" stroke-width="0.5"/>
<line x1="490.6" y1="939.8" x2="490.6" y2="941" stroke="#666" stroke-width="0.5"/>
<line x1="494" y1="939.8" x2="494" y2="941" stroke="#666" stroke-width="0.5"/>
<line x1="497.4" y1="939.8" x2="497.4" y2="941" stroke="#666" stroke-width="0.5"/>
<line x1="500.8" y1="939.8" x2="500.8" y2="941" stroke="#666" stroke-width="0.5"/>
<line x1="504.2" y1="939.8" x2="504.2" y2="941" stroke="#666" stroke-width="0.5"/>
<line x1="507.6" y1="939.8" x2="507.6" y2="941" stroke="#666" stroke-width="0.5"/>
<line x1="511" y1="939.8" x2="511" y2="941" stroke="#666" stroke-width="0.5"/>
<line x1="514.4" y1="939.8" x2="514.4" y2="941" stroke="#666" stroke-width="0.5"/>
<line x1="517.8" y1="939.8" x2="517.8" y2="941" stroke="#666" stroke-width="0.5"/>
<line x1="521.2" y1="939.8" x2="521.2" y2="941" stroke="#666" stroke-width="0.5"/>
<line x1="524.6" y1="939.8" x2="524.6" y2="941" stroke="#666" stroke-width="0.5"/>
<line x1="426.7" y1="939.8" x2="426.7" y2="942.1" stroke="#444" stroke-width="0.6"/>
<text x="426.7" y="950.8" font-size="5" text-anchor="middle" font-weight="normal" fill="#333">0</text>
<line x1="438.8" y1="939.8" x2="438.8" y2="942.1" stroke="#444" stroke-width="0.6"/>
<text x="438.8" y="950.8" font-size="5" text-anchor="middle" font-weight="normal" fill="#333">10<tspan font-size="3.5" dy="-2.2">2</tspan></text>
<line x1="465.5" y1="939.8" x2="465.5" y2="942.1" stroke="#444" stroke-width="0.6"/>
<text x="465.5" y="950.8" font-size="5" text-anchor="middle" font-weight="normal" fill="#333">10<tspan font-size="3.5" dy="-2.2">3</tspan></text>
<line x1="492.4" y1="939.8" x2="492.4" y2="942.1" stroke="#444" stroke-width="0.6"/>
<text x="492.4" y="950.8" font-size="5" text-anchor="middle" font-weight="normal" fill="#333">10<tspan font-size="3.5" dy="-2.2">4</tspan></text>
<line x1="518.7" y1="939.8" x2="518.7" y2="942.1" stroke="#444" stroke-width="0.6"/>
<text x="518.7" y="950.8" font-size="5" text-anchor="middle" font-weight="normal" fill="#333">10<tspan font-size="3.5" dy="-2.2">5</tspan></text>
<line x1="440.5" y1="825.8" x2="440.5" y2="939.8" stroke="#333" stroke-width="1.1"/>
<line x1="440.5" y1="860.8" x2="529.7" y2="860.8" stroke="#333" stroke-width="1.0"/>
<line x1="529.4" y1="858.3" x2="529.4" y2="863.3" stroke="#333" stroke-width="1.0"/>
<text x="523.7" y="841.7" font-size="15" text-anchor="end">CD9</text>
<path d="M418 939.8 L420.2 926 L422.4 904.2 L424.1 875.7 L425.7 847.2 L426.7 834.1 L428.3 838.5 L430 860.4 L431.8 886.6 L434 910.7 L436.2 930.4 L438.8 939.8Z" fill="#b3b3b7" stroke="#333" stroke-width="0.8" stroke-linejoin="round"/>
<path d="M415.1 938.1 L416.9 932.6 L419.1 915.1 L421.3 891 L423.5 862.6 L425.2 838.5 L426.7 833 L428.9 834.1 L430.5 845 L432.2 871.3 L434.4 897.6 L437 912.9 L438.8 923.9 L441 932.6 L444.3 937 L447.6 939.2 L456.3 939.8" fill="none" stroke="#231f20" stroke-width="1.05" stroke-linejoin="round" stroke-dasharray="2.4 1.7"/>
<path d="M414.7 939.8 L416.9 937 L419.1 928.2 L421.3 904.2 L423 875.7 L424.6 849.4 L426.1 833 L427.4 831.9 L428.9 834.1 L430.5 835.2 L432.2 833 L434 831.9 L435.5 837.4 L437 835.2 L438.8 842.8 L439.9 841.7 L441.4 853.8 L443.6 847.2 L444.9 856 L446.5 861.5 L448 866.9 L449.7 862.6 L451.5 873.5 L453 882.3 L454.6 888.8 L456.3 897.6 L458.5 908.5 L460.7 917.3 L462.9 923.9 L465.5 929.3 L468.4 934.8 L471.6 938.1 L476 939.2 L482.6 939.8" fill="none" stroke="#231f20" stroke-width="1.05" stroke-linejoin="round"/>
<path d="M277.5 436.6 H352.6 V549.3 H277.5Z" fill="none" stroke="#231f20" stroke-width="1.9"/>
<line x1="274" y1="549.3" x2="277.5" y2="549.3" stroke="#231f20" stroke-width="1.6"/>
<text x="270.8" y="549.3" font-size="8.4" text-anchor="middle" transform="rotate(-90 270.8 549.3)">0.0</text>
<line x1="274" y1="518.1" x2="277.5" y2="518.1" stroke="#231f20" stroke-width="1.6"/>
<text x="270.8" y="518.1" font-size="8.4" text-anchor="middle" transform="rotate(-90 270.8 518.1)">5.0&#215;10<tspan font-size="6" dy="-3">4</tspan></text>
<line x1="274" y1="486.9" x2="277.5" y2="486.9" stroke="#231f20" stroke-width="1.6"/>
<text x="270.8" y="486.9" font-size="8.4" text-anchor="middle" transform="rotate(-90 270.8 486.9)">1.0&#215;10<tspan font-size="6" dy="-3">5</tspan></text>
<line x1="274" y1="455.7" x2="277.5" y2="455.7" stroke="#231f20" stroke-width="1.6"/>
<text x="270.8" y="455.7" font-size="8.4" text-anchor="middle" transform="rotate(-90 270.8 455.7)">1.5&#215;10<tspan font-size="6" dy="-3">5</tspan></text>
<line x1="296.4" y1="477.4" x2="296.4" y2="480.1" stroke="#231f20" stroke-width="1.3"/>
<line x1="289.8" y1="477.4" x2="302.9" y2="477.4" stroke="#231f20" stroke-width="1.3"/>
<rect x="283.1" y="480.1" width="26.6" height="69.2" fill="#231f20"/>
<line x1="334" y1="483.4" x2="334" y2="486" stroke="#231f20" stroke-width="1.3"/>
<line x1="327.8" y1="483.4" x2="340.3" y2="483.4" stroke="#231f20" stroke-width="1.3"/>
<rect x="322" y="486.8" width="24.1" height="62.5" fill="#fff" stroke="#231f20" stroke-width="1.6"/>
<path d="M295.6 474.4 V470 H335.1 V474.4" fill="none" stroke="#231f20" stroke-width="2.8" stroke-linecap="round" stroke-linejoin="round"/>
<text x="315.4" y="469.8" font-size="10.5" text-anchor="middle">****</text>
<text x="349" y="452.4" font-size="15" text-anchor="end">FSC</text>
<text x="252.8" y="492.7" font-size="10" text-anchor="middle" transform="rotate(-90 252.8 492.7)">MFI</text>
<path d="M277.5 562.9 H353.7 V675.3 H277.5Z" fill="none" stroke="#231f20" stroke-width="1.9"/>
<line x1="274" y1="562.9" x2="277.5" y2="562.9" stroke="#231f20" stroke-width="1.6"/>
<text x="273.5" y="565.9" font-size="8.2" text-anchor="end" textLength="15.8" lengthAdjust="spacingAndGlyphs">1500</text>
<line x1="274" y1="600.4" x2="277.5" y2="600.4" stroke="#231f20" stroke-width="1.6"/>
<text x="273.5" y="603.4" font-size="8.2" text-anchor="end" textLength="15.8" lengthAdjust="spacingAndGlyphs">1000</text>
<line x1="274" y1="637.8" x2="277.5" y2="637.8" stroke="#231f20" stroke-width="1.6"/>
<text x="273.5" y="640.8" font-size="8.2" text-anchor="end" textLength="11.9" lengthAdjust="spacingAndGlyphs">500</text>
<line x1="274" y1="675.3" x2="277.5" y2="675.3" stroke="#231f20" stroke-width="1.6"/>
<text x="273.5" y="678.3" font-size="8.2" text-anchor="end" textLength="4" lengthAdjust="spacingAndGlyphs">0</text>
<line x1="296.5" y1="641.8" x2="296.5" y2="644" stroke="#231f20" stroke-width="1.3"/>
<line x1="290.3" y1="641.8" x2="302.7" y2="641.8" stroke="#231f20" stroke-width="1.3"/>
<rect x="283.3" y="644" width="26.4" height="31.3" fill="#231f20"/>
<rect x="322.1" y="669" width="24.4" height="6.3" fill="#fff" stroke="#231f20" stroke-width="1.6"/>
<path d="M296.9 631.6 V626.5 H337.5 V631.6" fill="none" stroke="#231f20" stroke-width="2.8" stroke-linecap="round" stroke-linejoin="round"/>
<text x="317.2" y="626.3" font-size="10.5" text-anchor="middle">****</text>
<text x="350.5" y="577" font-size="15" text-anchor="end">IgM</text>
<text x="250.5" y="618.8" font-size="10" text-anchor="middle" transform="rotate(-90 250.5 618.8)">MFI</text>
<path d="M277.5 691.8 H353.7 V804.7 H277.5Z" fill="none" stroke="#231f20" stroke-width="1.9"/>
<line x1="274" y1="691.8" x2="277.5" y2="691.8" stroke="#231f20" stroke-width="1.6"/>
<text x="273.5" y="694.8" font-size="8.2" text-anchor="end" textLength="20.5" lengthAdjust="spacingAndGlyphs">12000</text>
<line x1="274" y1="720" x2="277.5" y2="720" stroke="#231f20" stroke-width="1.6"/>
<text x="273.5" y="723" font-size="8.2" text-anchor="end" textLength="16.4" lengthAdjust="spacingAndGlyphs">9000</text>
<line x1="274" y1="748.3" x2="277.5" y2="748.3" stroke="#231f20" stroke-width="1.6"/>
<text x="273.5" y="751.3" font-size="8.2" text-anchor="end" textLength="16.4" lengthAdjust="spacingAndGlyphs">6000</text>
<line x1="274" y1="776.5" x2="277.5" y2="776.5" stroke="#231f20" stroke-width="1.6"/>
<text x="273.5" y="779.5" font-size="8.2" text-anchor="end" textLength="16.4" lengthAdjust="spacingAndGlyphs">3000</text>
<line x1="274" y1="804.7" x2="277.5" y2="804.7" stroke="#231f20" stroke-width="1.6"/>
<text x="273.5" y="807.7" font-size="8.2" text-anchor="end" textLength="4.1" lengthAdjust="spacingAndGlyphs">0</text>
<line x1="296.5" y1="781.2" x2="296.5" y2="785" stroke="#231f20" stroke-width="1.3"/>
<line x1="289.4" y1="781.2" x2="303.6" y2="781.2" stroke="#231f20" stroke-width="1.3"/>
<rect x="283.3" y="785" width="26.4" height="19.7" fill="#231f20"/>
<line x1="334.3" y1="726.1" x2="334.3" y2="734.1" stroke="#231f20" stroke-width="1.3"/>
<line x1="327.7" y1="726.1" x2="340.9" y2="726.1" stroke="#231f20" stroke-width="1.3"/>
<rect x="322.1" y="734.9" width="24.4" height="69.8" fill="#fff" stroke="#231f20" stroke-width="1.6"/>
<path d="M296.1 723.2 V719.3 H334.7 V723.2" fill="none" stroke="#231f20" stroke-width="2.8" stroke-linecap="round" stroke-linejoin="round"/>
<text x="315.4" y="719.1" font-size="10.5" text-anchor="middle">****</text>
<text x="349.2" y="706.5" font-size="15" text-anchor="end">IgD</text>
<text x="248.4" y="747.9" font-size="10" text-anchor="middle" transform="rotate(-90 248.4 747.9)">MFI</text>
<path d="M277.3 823.9 H353 V935.3 H277.3Z" fill="none" stroke="#231f20" stroke-width="1.9"/>
<line x1="273.8" y1="823.9" x2="277.3" y2="823.9" stroke="#231f20" stroke-width="1.6"/>
<text x="273.3" y="827.2" font-size="9.2" text-anchor="end">100</text>
<line x1="273.8" y1="846.2" x2="277.3" y2="846.2" stroke="#231f20" stroke-width="1.6"/>
<text x="273.3" y="849.5" font-size="9.2" text-anchor="end">80</text>
<line x1="273.8" y1="868.5" x2="277.3" y2="868.5" stroke="#231f20" stroke-width="1.6"/>
<text x="273.3" y="871.8" font-size="9.2" text-anchor="end">60</text>
<line x1="273.8" y1="890.7" x2="277.3" y2="890.7" stroke="#231f20" stroke-width="1.6"/>
<text x="273.3" y="894.1" font-size="9.2" text-anchor="end">40</text>
<line x1="273.8" y1="913" x2="277.3" y2="913" stroke="#231f20" stroke-width="1.6"/>
<text x="273.3" y="916.3" font-size="9.2" text-anchor="end">20</text>
<line x1="273.8" y1="935.3" x2="277.3" y2="935.3" stroke="#231f20" stroke-width="1.6"/>
<text x="273.3" y="938.6" font-size="9.2" text-anchor="end">0</text>
<line x1="296.4" y1="886.5" x2="296.4" y2="889.7" stroke="#231f20" stroke-width="1.3"/>
<line x1="289.9" y1="886.5" x2="302.9" y2="886.5" stroke="#231f20" stroke-width="1.3"/>
<rect x="283.3" y="889.7" width="26.2" height="45.6" fill="#231f20"/>
<rect x="322" y="932.8" width="24.2" height="2.5" fill="#fff" stroke="#231f20" stroke-width="1.6"/>
<path d="M296.3 881.2 V876.2 H335.2 V881.2" fill="none" stroke="#231f20" stroke-width="2.8" stroke-linecap="round" stroke-linejoin="round"/>
<text x="315.8" y="876" font-size="10.5" text-anchor="middle">***</text>
<text x="348" y="841.3" font-size="15" text-anchor="end">CD9</text>
<text x="250.9" y="879.3" font-size="9.5" text-anchor="middle" textLength="104.5" lengthAdjust="spacingAndGlyphs" transform="rotate(-90 250.9 879.3)">% of nMZ or FO B cells</text>
<text x="298.9" y="951.4" font-size="11" text-anchor="middle" textLength="21" lengthAdjust="spacingAndGlyphs">nMZ</text>
<text x="298.2" y="962.6" font-size="11" text-anchor="middle" textLength="32.9" lengthAdjust="spacingAndGlyphs">B cells</text>
<text x="338" y="951.4" font-size="11" text-anchor="middle" textLength="13.8" lengthAdjust="spacingAndGlyphs">FO</text>
<text x="337.6" y="962.6" font-size="11" text-anchor="middle" textLength="32.9" lengthAdjust="spacingAndGlyphs">B cells</text>
<path d="M577.6 433.3 H654.1 V549 H577.6Z" fill="none" stroke="#231f20" stroke-width="1.9"/>
<line x1="574.1" y1="549" x2="577.6" y2="549" stroke="#231f20" stroke-width="1.6"/>
<text x="571" y="549" font-size="8.4" text-anchor="middle" transform="rotate(-90 571 549)">0.0</text>
<line x1="574.1" y1="517.2" x2="577.6" y2="517.2" stroke="#231f20" stroke-width="1.6"/>
<text x="571" y="517.2" font-size="8.4" text-anchor="middle" transform="rotate(-90 571 517.2)">5.0&#215;10<tspan font-size="6" dy="-3">4</tspan></text>
<line x1="574.1" y1="484.9" x2="577.6" y2="484.9" stroke="#231f20" stroke-width="1.6"/>
<text x="571" y="484.9" font-size="8.4" text-anchor="middle" transform="rotate(-90 571 484.9)">1.0&#215;10<tspan font-size="6" dy="-3">5</tspan></text>
<line x1="574.1" y1="452.6" x2="577.6" y2="452.6" stroke="#231f20" stroke-width="1.6"/>
<text x="571" y="452.6" font-size="8.4" text-anchor="middle" transform="rotate(-90 571 452.6)">1.5&#215;10<tspan font-size="6" dy="-3">5</tspan></text>
<line x1="596.4" y1="471.5" x2="596.4" y2="476.1" stroke="#231f20" stroke-width="1.3"/>
<line x1="589.5" y1="471.5" x2="603.3" y2="471.5" stroke="#231f20" stroke-width="1.3"/>
<rect x="583.1" y="476.1" width="26.6" height="72.9" fill="#231f20"/>
<line x1="635.5" y1="480" x2="635.5" y2="485" stroke="#231f20" stroke-width="1.3"/>
<line x1="628.7" y1="480" x2="642.2" y2="480" stroke="#231f20" stroke-width="1.3"/>
<rect x="623.1" y="485.8" width="24.7" height="63.2" fill="#fff" stroke="#231f20" stroke-width="1.6"/>
<path d="M595.3 466 V460.8 H636.1 V466" fill="none" stroke="#231f20" stroke-width="2.8" stroke-linecap="round" stroke-linejoin="round"/>
<text x="615.7" y="460.6" font-size="10.5" text-anchor="middle">**</text>
<text x="649.5" y="451.3" font-size="15" text-anchor="end">FSC</text>
<text x="554.9" y="490.7" font-size="10" text-anchor="middle" transform="rotate(-90 554.9 490.7)">MFI</text>
<path d="M579 560.8 H655 V675.6 H579Z" fill="none" stroke="#231f20" stroke-width="1.9"/>
<line x1="575.5" y1="560.8" x2="579" y2="560.8" stroke="#231f20" stroke-width="1.6"/>
<text x="575" y="563.8" font-size="8.2" text-anchor="end" textLength="15.8" lengthAdjust="spacingAndGlyphs">1500</text>
<line x1="575.5" y1="599" x2="579" y2="599" stroke="#231f20" stroke-width="1.6"/>
<text x="575" y="602" font-size="8.2" text-anchor="end" textLength="15.8" lengthAdjust="spacingAndGlyphs">1000</text>
<line x1="575.5" y1="637.7" x2="579" y2="637.7" stroke="#231f20" stroke-width="1.6"/>
<text x="575" y="640.7" font-size="8.2" text-anchor="end" textLength="11.9" lengthAdjust="spacingAndGlyphs">500</text>
<line x1="575.5" y1="675.6" x2="579" y2="675.6" stroke="#231f20" stroke-width="1.6"/>
<text x="575" y="678.6" font-size="8.2" text-anchor="end" textLength="4" lengthAdjust="spacingAndGlyphs">0</text>
<line x1="597.9" y1="598.8" x2="597.9" y2="604.7" stroke="#231f20" stroke-width="1.3"/>
<line x1="591" y1="598.8" x2="604.8" y2="598.8" stroke="#231f20" stroke-width="1.3"/>
<rect x="585.1" y="604.7" width="25.6" height="70.9" fill="#231f20"/>
<rect x="624.1" y="667" width="24" height="8.6" fill="#fff" stroke="#231f20" stroke-width="1.6"/>
<path d="M596.8 595.5 V590.3 H637.2 V595.5" fill="none" stroke="#231f20" stroke-width="2.8" stroke-linecap="round" stroke-linejoin="round"/>
<text x="617" y="590.1" font-size="10.5" text-anchor="middle">**</text>
<text x="651.7" y="577" font-size="15" text-anchor="end">IgM</text>
<text x="549.2" y="617.9" font-size="10" text-anchor="middle" transform="rotate(-90 549.2 617.9)">MFI</text>
<path d="M577.3 690.4 H653.3 V804.9 H577.3Z" fill="none" stroke="#231f20" stroke-width="1.9"/>
<line x1="573.8" y1="690.4" x2="577.3" y2="690.4" stroke="#231f20" stroke-width="1.6"/>
<text x="573.3" y="693.4" font-size="8.2" text-anchor="end" textLength="20.5" lengthAdjust="spacingAndGlyphs">12000</text>
<line x1="573.8" y1="719" x2="577.3" y2="719" stroke="#231f20" stroke-width="1.6"/>
<text x="573.3" y="722" font-size="8.2" text-anchor="end" textLength="16.4" lengthAdjust="spacingAndGlyphs">9000</text>
<line x1="573.8" y1="747.6" x2="577.3" y2="747.6" stroke="#231f20" stroke-width="1.6"/>
<text x="573.3" y="750.6" font-size="8.2" text-anchor="end" textLength="16.4" lengthAdjust="spacingAndGlyphs">6000</text>
<line x1="573.8" y1="776.2" x2="577.3" y2="776.2" stroke="#231f20" stroke-width="1.6"/>
<text x="573.3" y="779.2" font-size="8.2" text-anchor="end" textLength="16.4" lengthAdjust="spacingAndGlyphs">3000</text>
<line x1="573.8" y1="804.9" x2="577.3" y2="804.9" stroke="#231f20" stroke-width="1.6"/>
<text x="573.3" y="807.9" font-size="8.2" text-anchor="end" textLength="4.1" lengthAdjust="spacingAndGlyphs">0</text>
<line x1="596.4" y1="785.7" x2="596.4" y2="786.4" stroke="#231f20" stroke-width="1.3"/>
<line x1="589.9" y1="785.7" x2="602.9" y2="785.7" stroke="#231f20" stroke-width="1.3"/>
<rect x="583.1" y="786.4" width="26.6" height="18.5" fill="#231f20"/>
<line x1="634.5" y1="753.5" x2="634.5" y2="754.8" stroke="#231f20" stroke-width="1.3"/>
<line x1="628.6" y1="753.5" x2="640.4" y2="753.5" stroke="#231f20" stroke-width="1.3"/>
<rect x="622.3" y="755.6" width="24.4" height="49.3" fill="#fff" stroke="#231f20" stroke-width="1.6"/>
<path d="M594.8 744.3 V739 H635.3 V744.3" fill="none" stroke="#231f20" stroke-width="2.8" stroke-linecap="round" stroke-linejoin="round"/>
<text x="615" y="738.8" font-size="10.5" text-anchor="middle">****</text>
<text x="650.8" y="706.5" font-size="15" text-anchor="end">IgD</text>
<text x="546.4" y="747.9" font-size="10" text-anchor="middle" transform="rotate(-90 546.4 747.9)">MFI</text>
<path d="M577.3 821.4 H653.4 V935.3 H577.3Z" fill="none" stroke="#231f20" stroke-width="1.9"/>
<line x1="573.8" y1="821.4" x2="577.3" y2="821.4" stroke="#231f20" stroke-width="1.6"/>
<text x="573.3" y="824.7" font-size="9.2" text-anchor="end">100</text>
<line x1="573.8" y1="844.2" x2="577.3" y2="844.2" stroke="#231f20" stroke-width="1.6"/>
<text x="573.3" y="847.5" font-size="9.2" text-anchor="end">80</text>
<line x1="573.8" y1="867" x2="577.3" y2="867" stroke="#231f20" stroke-width="1.6"/>
<text x="573.3" y="870.3" font-size="9.2" text-anchor="end">60</text>
<line x1="573.8" y1="889.7" x2="577.3" y2="889.7" stroke="#231f20" stroke-width="1.6"/>
<text x="573.3" y="893.1" font-size="9.2" text-anchor="end">40</text>
<line x1="573.8" y1="912.5" x2="577.3" y2="912.5" stroke="#231f20" stroke-width="1.6"/>
<text x="573.3" y="915.8" font-size="9.2" text-anchor="end">20</text>
<line x1="573.8" y1="935.3" x2="577.3" y2="935.3" stroke="#231f20" stroke-width="1.6"/>
<text x="573.3" y="938.6" font-size="9.2" text-anchor="end">0</text>
<line x1="596.4" y1="881.2" x2="596.4" y2="882.7" stroke="#231f20" stroke-width="1.3"/>
<line x1="589.9" y1="881.2" x2="602.9" y2="881.2" stroke="#231f20" stroke-width="1.3"/>
<rect x="583.1" y="882.7" width="26.6" height="52.6" fill="#231f20"/>
<rect x="622.3" y="931.9" width="24.4" height="3.4" fill="#fff" stroke="#231f20" stroke-width="1.6"/>
<path d="M594.8 877 V872.4 H635.2 V877" fill="none" stroke="#231f20" stroke-width="2.8" stroke-linecap="round" stroke-linejoin="round"/>
<text x="615" y="872.2" font-size="10.5" text-anchor="middle">****</text>
<text x="649.8" y="841.3" font-size="15" text-anchor="end">CD9</text>
<text x="550.2" y="877.4" font-size="9.5" text-anchor="middle" textLength="100.7" lengthAdjust="spacingAndGlyphs" transform="rotate(-90 550.2 877.4)">% of MZ or FO B cells</text>
<text x="597.8" y="951.8" font-size="11" text-anchor="middle" textLength="15.6" lengthAdjust="spacingAndGlyphs">MZ</text>
<text x="597.2" y="963" font-size="11" text-anchor="middle" textLength="32.9" lengthAdjust="spacingAndGlyphs">B cells</text>
<text x="637" y="951.8" font-size="11" text-anchor="middle" textLength="13.8" lengthAdjust="spacingAndGlyphs">FO</text>
<text x="636.6" y="963" font-size="11" text-anchor="middle" textLength="32.9" lengthAdjust="spacingAndGlyphs">B cells</text>
<text x="-1" y="1010.7" font-size="22">g</text>
<rect x="7" y="1028.9" width="20.7" height="8.8" fill="#c4c4c8"/>
<text x="31.5" y="1036.4" font-size="10.5" textLength="58.2" lengthAdjust="spacingAndGlyphs">FMO control</text>
<line x1="7" y1="1047.5" x2="27.7" y2="1047.5" stroke="#231f20" stroke-width="3.2"/>
<text x="31.5" y="1051.3" font-size="10.5" textLength="56.1" lengthAdjust="spacingAndGlyphs">nMZ B cells</text>
<circle cx="9.6" cy="1062.7" r="1.75" fill="#231f20"/>
<circle cx="17.3" cy="1062.7" r="1.75" fill="#231f20"/>
<circle cx="24.5" cy="1062.7" r="1.75" fill="#231f20"/>
<text x="31.5" y="1066.2" font-size="10.5" textLength="48.7" lengthAdjust="spacingAndGlyphs">FO B cells</text>
<rect x="97.9" y="1038.5" width="4" height="50.5" fill="#231f20"/>
<path d="M99.9 1030 L105 1039 L94.8 1039Z" fill="#231f20"/>
<text x="104.2" y="1139.3" font-size="12" textLength="49.3" lengthAdjust="spacingAndGlyphs" transform="rotate(-90 104.2 1139.3)">% of max</text>
<text x="109.7" y="1161.2" font-size="10.6" textLength="47.1" lengthAdjust="spacingAndGlyphs">intensity</text>
<rect x="160" y="1157" width="54.3" height="4" fill="#231f20"/>
<path d="M224 1159 L213.8 1153.8 L213.8 1164.2Z" fill="#231f20"/>
<rect x="108.6" y="1028.3" width="113.9" height="113.9" fill="none" stroke="#9a9a9a" stroke-width="0.8"/>
<line x1="108.6" y1="1028.3" x2="108.6" y2="1142.2" stroke="#555" stroke-width="0.8"/>
<line x1="108.6" y1="1142.2" x2="222.5" y2="1142.2" stroke="#231f20" stroke-width="1.3"/>
<line x1="110.1" y1="1142.2" x2="110.1" y2="1143.4" stroke="#666" stroke-width="0.5"/>
<line x1="113.5" y1="1142.2" x2="113.5" y2="1143.4" stroke="#666" stroke-width="0.5"/>
<line x1="116.9" y1="1142.2" x2="116.9" y2="1143.4" stroke="#666" stroke-width="0.5"/>
<line x1="120.3" y1="1142.2" x2="120.3" y2="1143.4" stroke="#666" stroke-width="0.5"/>
<line x1="123.7" y1="1142.2" x2="123.7" y2="1143.4" stroke="#666" stroke-width="0.5"/>
<line x1="127.1" y1="1142.2" x2="127.1" y2="1143.4" stroke="#666" stroke-width="0.5"/>
<line x1="130.5" y1="1142.2" x2="130.5" y2="1143.4" stroke="#666" stroke-width="0.5"/>
<line x1="133.9" y1="1142.2" x2="133.9" y2="1143.4" stroke="#666" stroke-width="0.5"/>
<line x1="137.3" y1="1142.2" x2="137.3" y2="1143.4" stroke="#666" stroke-width="0.5"/>
<line x1="140.7" y1="1142.2" x2="140.7" y2="1143.4" stroke="#666" stroke-width="0.5"/>
<line x1="144.1" y1="1142.2" x2="144.1" y2="1143.4" stroke="#666" stroke-width="0.5"/>
<line x1="147.5" y1="1142.2" x2="147.5" y2="1143.4" stroke="#666" stroke-width="0.5"/>
<line x1="150.9" y1="1142.2" x2="150.9" y2="1143.4" stroke="#666" stroke-width="0.5"/>
<line x1="154.3" y1="1142.2" x2="154.3" y2="1143.4" stroke="#666" stroke-width="0.5"/>
<line x1="157.7" y1="1142.2" x2="157.7" y2="1143.4" stroke="#666" stroke-width="0.5"/>
<line x1="161.1" y1="1142.2" x2="161.1" y2="1143.4" stroke="#666" stroke-width="0.5"/>
<line x1="164.5" y1="1142.2" x2="164.5" y2="1143.4" stroke="#666" stroke-width="0.5"/>
<line x1="167.9" y1="1142.2" x2="167.9" y2="1143.4" stroke="#666" stroke-width="0.5"/>
<line x1="171.3" y1="1142.2" x2="171.3" y2="1143.4" stroke="#666" stroke-width="0.5"/>
<line x1="174.7" y1="1142.2" x2="174.7" y2="1143.4" stroke="#666" stroke-width="0.5"/>
<line x1="178.1" y1="1142.2" x2="178.1" y2="1143.4" stroke="#666" stroke-width="0.5"/>
<line x1="181.5" y1="1142.2" x2="181.5" y2="1143.4" stroke="#666" stroke-width="0.5"/>
<line x1="184.9" y1="1142.2" x2="184.9" y2="1143.4" stroke="#666" stroke-width="0.5"/>
<line x1="188.3" y1="1142.2" x2="188.3" y2="1143.4" stroke="#666" stroke-width="0.5"/>
<line x1="191.7" y1="1142.2" x2="191.7" y2="1143.4" stroke="#666" stroke-width="0.5"/>
<line x1="195.1" y1="1142.2" x2="195.1" y2="1143.4" stroke="#666" stroke-width="0.5"/>
<line x1="198.5" y1="1142.2" x2="198.5" y2="1143.4" stroke="#666" stroke-width="0.5"/>
<line x1="201.9" y1="1142.2" x2="201.9" y2="1143.4" stroke="#666" stroke-width="0.5"/>
<line x1="205.3" y1="1142.2" x2="205.3" y2="1143.4" stroke="#666" stroke-width="0.5"/>
<line x1="208.7" y1="1142.2" x2="208.7" y2="1143.4" stroke="#666" stroke-width="0.5"/>
<line x1="212.1" y1="1142.2" x2="212.1" y2="1143.4" stroke="#666" stroke-width="0.5"/>
<line x1="215.5" y1="1142.2" x2="215.5" y2="1143.4" stroke="#666" stroke-width="0.5"/>
<line x1="218.9" y1="1142.2" x2="218.9" y2="1143.4" stroke="#666" stroke-width="0.5"/>
<line x1="131.2" y1="1142.2" x2="131.2" y2="1144.5" stroke="#444" stroke-width="0.6"/>
<text x="131.2" y="1154" font-size="5" text-anchor="middle" font-weight="normal" fill="#333">0</text>
<line x1="141.9" y1="1142.2" x2="141.9" y2="1144.5" stroke="#444" stroke-width="0.6"/>
<text x="141.9" y="1154" font-size="5" text-anchor="middle" font-weight="normal" fill="#333">10<tspan font-size="3.5" dy="-2.2">2</tspan></text>
<line x1="166.6" y1="1142.2" x2="166.6" y2="1144.5" stroke="#444" stroke-width="0.6"/>
<text x="166.6" y="1154" font-size="5" text-anchor="middle" font-weight="normal" fill="#333">10<tspan font-size="3.5" dy="-2.2">3</tspan></text>
<line x1="190.7" y1="1142.2" x2="190.7" y2="1144.5" stroke="#444" stroke-width="0.6"/>
<text x="190.7" y="1154" font-size="5" text-anchor="middle" font-weight="normal" fill="#333">10<tspan font-size="3.5" dy="-2.2">4</tspan></text>
<line x1="213.7" y1="1142.2" x2="213.7" y2="1144.5" stroke="#444" stroke-width="0.6"/>
<text x="213.7" y="1154" font-size="5" text-anchor="middle" font-weight="normal" fill="#333">10<tspan font-size="3.5" dy="-2.2">5</tspan></text>
<line x1="174.3" y1="1028.3" x2="174.3" y2="1142.2" stroke="#333" stroke-width="1.1"/>
<line x1="174.3" y1="1065.3" x2="222.5" y2="1065.3" stroke="#333" stroke-width="1.0"/>
<line x1="222.2" y1="1062.8" x2="222.2" y2="1067.8" stroke="#333" stroke-width="1.0"/>
<text x="219.2" y="1044.1" font-size="15" text-anchor="end">CD5</text>
<path d="M110.8 1142.2 L114.1 1141.1 L118.5 1140 L121.7 1134.6 L123.9 1123.6 L125.5 1108.3 L127.2 1090.8 L129 1073.3 L130.5 1057.9 L131.6 1049.2 L132.7 1052.4 L133.8 1047 L135.5 1040.4 L136.6 1036.5 L137.7 1042.6 L139.3 1053.5 L141.5 1064.5 L143.6 1075.4 L145.8 1086.4 L148 1101.7 L150.9 1112.7 L153.5 1119.2 L156.8 1125.8 L160.1 1132.4 L163.4 1137.8 L166.6 1140.7 L171 1142.2Z" fill="#b3b3b7" stroke="#333" stroke-width="0.8" stroke-linejoin="round"/>
<path d="M111.9 1142.2 L118.5 1136.7 L122.8 1123.6 L126.1 1108.3 L129.4 1093 L132.7 1082 L136 1075.4 L139.3 1068.9 L142.1 1057.9 L144.7 1038.2 L147.4 1036.5 L150.2 1047 L153.5 1057.9 L156.8 1075.4 L160.1 1095.1 L163.4 1117 L166.6 1125.8 L169.9 1134.6 L173.2 1138.9 L177.6 1140.7 L186.3 1141.6" fill="none" stroke="#231f20" stroke-width="1.05" stroke-linejoin="round" stroke-dasharray="2.4 1.7"/>
<path d="M109.7 1142.2 L114.1 1141.1 L118.5 1138.9 L121.7 1130.2 L123.9 1117 L126.1 1107.2 L128.3 1108.3 L129.9 1101.7 L131.2 1090.8 L132.7 1084.2 L133.8 1086.4 L135.5 1079.8 L137.1 1077.6 L138.6 1075.4 L140.4 1068.9 L142.1 1062.3 L143.2 1057.9 L144.3 1047 L145.8 1040.4 L146.9 1037.1 L148.5 1047 L149.6 1064.5 L150.9 1062.3 L151.7 1051.4 L153.1 1040.4 L153.9 1042.6 L155 1057.9 L156.8 1073.3 L159 1088.6 L161.2 1106.1 L163.4 1112.7 L164.9 1110.5 L166.6 1117 L168.4 1125.8 L169.9 1128 L171.5 1129.1 L173.2 1138.9 L175.4 1142.2" fill="none" stroke="#231f20" stroke-width="1.05" stroke-linejoin="round"/>
<path d="M277.7 1026.1 H353.1 V1140 H277.7Z" fill="none" stroke="#231f20" stroke-width="1.9"/>
<line x1="274.2" y1="1026.1" x2="277.7" y2="1026.1" stroke="#231f20" stroke-width="1.6"/>
<text x="273.7" y="1028.9" font-size="7.7" text-anchor="end">5</text>
<line x1="274.2" y1="1048.9" x2="277.7" y2="1048.9" stroke="#231f20" stroke-width="1.6"/>
<text x="273.7" y="1051.7" font-size="7.7" text-anchor="end">4</text>
<line x1="274.2" y1="1071.7" x2="277.7" y2="1071.7" stroke="#231f20" stroke-width="1.6"/>
<text x="273.7" y="1074.4" font-size="7.7" text-anchor="end">3</text>
<line x1="274.2" y1="1094.4" x2="277.7" y2="1094.4" stroke="#231f20" stroke-width="1.6"/>
<text x="273.7" y="1097.2" font-size="7.7" text-anchor="end">2</text>
<line x1="274.2" y1="1117.2" x2="277.7" y2="1117.2" stroke="#231f20" stroke-width="1.6"/>
<text x="273.7" y="1120" font-size="7.7" text-anchor="end">1</text>
<line x1="274.2" y1="1140" x2="277.7" y2="1140" stroke="#231f20" stroke-width="1.6"/>
<text x="273.7" y="1142.8" font-size="7.7" text-anchor="end">0</text>
<line x1="296.6" y1="1121" x2="296.6" y2="1126.3" stroke="#231f20" stroke-width="1.3"/>
<line x1="290.4" y1="1121" x2="302.8" y2="1121" stroke="#231f20" stroke-width="1.3"/>
<rect x="283.6" y="1126.3" width="25.9" height="13.7" fill="#231f20"/>
<line x1="334.4" y1="1108.3" x2="334.4" y2="1112.3" stroke="#231f20" stroke-width="1.3"/>
<line x1="328" y1="1108.3" x2="340.7" y2="1108.3" stroke="#231f20" stroke-width="1.3"/>
<rect x="322" y="1113.1" width="24.7" height="26.9" fill="#fff" stroke="#231f20" stroke-width="1.6"/>
<path d="M296.2 1104 V1100 H335.1 V1104" fill="none" stroke="#231f20" stroke-width="2.8" stroke-linecap="round" stroke-linejoin="round"/>
<text x="315.6" y="1099.8" font-size="10.5" text-anchor="middle">**</text>
<text x="347.7" y="1044.3" font-size="15" text-anchor="end">CD5</text>
<text x="258.5" y="1081.7" font-size="9.5" text-anchor="middle" textLength="104.4" lengthAdjust="spacingAndGlyphs" transform="rotate(-90 258.5 1081.7)">% of nMZ or FO B cells</text>
<text x="298" y="1151.9" font-size="11" text-anchor="middle" textLength="21" lengthAdjust="spacingAndGlyphs">nMZ</text>
<text x="297.3" y="1163.2" font-size="11" text-anchor="middle" textLength="32.9" lengthAdjust="spacingAndGlyphs">B cells</text>
<text x="337.2" y="1151.9" font-size="11" text-anchor="middle" textLength="13.8" lengthAdjust="spacingAndGlyphs">FO</text>
<text x="336.6" y="1163.2" font-size="11" text-anchor="middle" textLength="32.9" lengthAdjust="spacingAndGlyphs">B cells</text>
<text x="385.6" y="1011" font-size="21">h</text>
<rect x="404.4" y="1038.1" width="4" height="45.9" fill="#231f20"/>
<path d="M406.4 1029.6 L411.5 1038.6 L401.3 1038.6Z" fill="#231f20"/>
<text x="410.8" y="1140.1" font-size="12" textLength="54.7" lengthAdjust="spacingAndGlyphs" transform="rotate(-90 410.8 1140.1)">% of max</text>
<text x="414.1" y="1162" font-size="10.6" textLength="47.1" lengthAdjust="spacingAndGlyphs">intensity</text>
<rect x="465.5" y="1157.8" width="51.7" height="4" fill="#231f20"/>
<path d="M526.9 1159.8 L516.7 1154.6 L516.7 1165Z" fill="#231f20"/>
<rect x="417.4" y="1028.5" width="112.7" height="114.3" fill="none" stroke="#9a9a9a" stroke-width="0.8"/>
<line x1="417.4" y1="1028.5" x2="417.4" y2="1142.8" stroke="#555" stroke-width="0.8"/>
<line x1="417.4" y1="1142.8" x2="530.1" y2="1142.8" stroke="#231f20" stroke-width="1.3"/>
<line x1="418.9" y1="1142.8" x2="418.9" y2="1144" stroke="#666" stroke-width="0.5"/>
<line x1="422.3" y1="1142.8" x2="422.3" y2="1144" stroke="#666" stroke-width="0.5"/>
<line x1="425.7" y1="1142.8" x2="425.7" y2="1144" stroke="#666" stroke-width="0.5"/>
<line x1="429.1" y1="1142.8" x2="429.1" y2="1144" stroke="#666" stroke-width="0.5"/>
<line x1="432.5" y1="1142.8" x2="432.5" y2="1144" stroke="#666" stroke-width="0.5"/>
<line x1="435.9" y1="1142.8" x2="435.9" y2="1144" stroke="#666" stroke-width="0.5"/>
<line x1="439.3" y1="1142.8" x2="439.3" y2="1144" stroke="#666" stroke-width="0.5"/>
<line x1="442.7" y1="1142.8" x2="442.7" y2="1144" stroke="#666" stroke-width="0.5"/>
<line x1="446.1" y1="1142.8" x2="446.1" y2="1144" stroke="#666" stroke-width="0.5"/>
<line x1="449.5" y1="1142.8" x2="449.5" y2="1144" stroke="#666" stroke-width="0.5"/>
<line x1="452.9" y1="1142.8" x2="452.9" y2="1144" stroke="#666" stroke-width="0.5"/>
<line x1="456.3" y1="1142.8" x2="456.3" y2="1144" stroke="#666" stroke-width="0.5"/>
<line x1="459.7" y1="1142.8" x2="459.7" y2="1144" stroke="#666" stroke-width="0.5"/>
<line x1="463.1" y1="1142.8" x2="463.1" y2="1144" stroke="#666" stroke-width="0.5"/>
<line x1="466.5" y1="1142.8" x2="466.5" y2="1144" stroke="#666" stroke-width="0.5"/>
<line x1="469.9" y1="1142.8" x2="469.9" y2="1144" stroke="#666" stroke-width="0.5"/>
<line x1="473.3" y1="1142.8" x2="473.3" y2="1144" stroke="#666" stroke-width="0.5"/>
<line x1="476.7" y1="1142.8" x2="476.7" y2="1144" stroke="#666" stroke-width="0.5"/>
<line x1="480.1" y1="1142.8" x2="480.1" y2="1144" stroke="#666" stroke-width="0.5"/>
<line x1="483.5" y1="1142.8" x2="483.5" y2="1144" stroke="#666" stroke-width="0.5"/>
<line x1="486.9" y1="1142.8" x2="486.9" y2="1144" stroke="#666" stroke-width="0.5"/>
<line x1="490.3" y1="1142.8" x2="490.3" y2="1144" stroke="#666" stroke-width="0.5"/>
<line x1="493.7" y1="1142.8" x2="493.7" y2="1144" stroke="#666" stroke-width="0.5"/>
<line x1="497.1" y1="1142.8" x2="497.1" y2="1144" stroke="#666" stroke-width="0.5"/>
<line x1="500.5" y1="1142.8" x2="500.5" y2="1144" stroke="#666" stroke-width="0.5"/>
<line x1="503.9" y1="1142.8" x2="503.9" y2="1144" stroke="#666" stroke-width="0.5"/>
<line x1="507.3" y1="1142.8" x2="507.3" y2="1144" stroke="#666" stroke-width="0.5"/>
<line x1="510.7" y1="1142.8" x2="510.7" y2="1144" stroke="#666" stroke-width="0.5"/>
<line x1="514.1" y1="1142.8" x2="514.1" y2="1144" stroke="#666" stroke-width="0.5"/>
<line x1="517.5" y1="1142.8" x2="517.5" y2="1144" stroke="#666" stroke-width="0.5"/>
<line x1="520.9" y1="1142.8" x2="520.9" y2="1144" stroke="#666" stroke-width="0.5"/>
<line x1="524.3" y1="1142.8" x2="524.3" y2="1144" stroke="#666" stroke-width="0.5"/>
<line x1="527.7" y1="1142.8" x2="527.7" y2="1144" stroke="#666" stroke-width="0.5"/>
<line x1="429.4" y1="1142.8" x2="429.4" y2="1145.1" stroke="#444" stroke-width="0.6"/>
<text x="429.4" y="1152.9" font-size="5" text-anchor="middle" font-weight="normal" fill="#333">0</text>
<line x1="440.8" y1="1142.8" x2="440.8" y2="1145.1" stroke="#444" stroke-width="0.6"/>
<text x="440.8" y="1152.9" font-size="5" text-anchor="middle" font-weight="normal" fill="#333">10<tspan font-size="3.5" dy="-2.2">2</tspan></text>
<line x1="467.7" y1="1142.8" x2="467.7" y2="1145.1" stroke="#444" stroke-width="0.6"/>
<text x="467.7" y="1152.9" font-size="5" text-anchor="middle" font-weight="normal" fill="#333">10<tspan font-size="3.5" dy="-2.2">3</tspan></text>
<line x1="492.9" y1="1142.8" x2="492.9" y2="1145.1" stroke="#444" stroke-width="0.6"/>
<text x="492.9" y="1152.9" font-size="5" text-anchor="middle" font-weight="normal" fill="#333">10<tspan font-size="3.5" dy="-2.2">4</tspan></text>
<line x1="519.2" y1="1142.8" x2="519.2" y2="1145.1" stroke="#444" stroke-width="0.6"/>
<text x="519.2" y="1152.9" font-size="5" text-anchor="middle" font-weight="normal" fill="#333">10<tspan font-size="3.5" dy="-2.2">5</tspan></text>
<line x1="445.4" y1="1028.5" x2="445.4" y2="1142.8" stroke="#333" stroke-width="1.1"/>
<line x1="445.4" y1="1049.9" x2="530.1" y2="1049.9" stroke="#333" stroke-width="1.0"/>
<line x1="529.8" y1="1047.4" x2="529.8" y2="1052.4" stroke="#333" stroke-width="1.0"/>
<text x="525.8" y="1042.7" font-size="15" text-anchor="end" textLength="47.1" lengthAdjust="spacingAndGlyphs">CD11c</text>
<path d="M420.7 1142.8 L422.8 1122.6 L425 1094.2 L426.8 1065.7 L428.3 1043.8 L429.9 1036.1 L431.6 1041.6 L433.8 1065.7 L436 1094.2 L438.2 1118.2 L440.4 1135.8 L442.6 1142.3 L443.6 1142.8Z" fill="#b3b3b7" stroke="#333" stroke-width="0.8" stroke-linejoin="round"/>
<path d="M418 1135.8 L420.7 1118.2 L422.8 1096.3 L425 1070.1 L427.2 1048.2 L429.4 1037.2 L431.6 1039.4 L433.8 1052.6 L436.4 1070.1 L438.6 1089.8 L440.8 1107.3 L442.6 1120.4 L445.2 1131.4 L448 1137.9 L453.5 1141.2 L460.1 1142.3" fill="none" stroke="#231f20" stroke-width="1.05" stroke-linejoin="round" stroke-dasharray="2.4 1.7"/>
<path d="M418 1124.8 L420.2 1120.4 L422.4 1102.9 L424.6 1078.8 L426.8 1052.6 L429 1037.2 L430.5 1036.1 L432.7 1046 L434.9 1061.3 L437.1 1065.7 L439.3 1083.2 L441.5 1102.9 L443 1109.5 L444.7 1127 L446.5 1133.6 L448 1131.4 L449.6 1134.7 L451.7 1131.4 L453.5 1137.9 L455.7 1140.1 L460.1 1140.1 L463.4 1139 L465.5 1137.9 L467.7 1141.2 L473.2 1141.2 L477.6 1140.1 L479.8 1139.7 L483.1 1141.2 L487.4 1141.9 L490.7 1141.2 L495.1 1142.8" fill="none" stroke="#231f20" stroke-width="1.05" stroke-linejoin="round"/>
<path d="M577.3 1025.3 H653.4 V1139.8 H577.3Z" fill="none" stroke="#231f20" stroke-width="1.9"/>
<line x1="573.8" y1="1025.3" x2="577.3" y2="1025.3" stroke="#231f20" stroke-width="1.6"/>
<text x="573.3" y="1028.5" font-size="9" text-anchor="end">50</text>
<line x1="573.8" y1="1048.2" x2="577.3" y2="1048.2" stroke="#231f20" stroke-width="1.6"/>
<text x="573.3" y="1051.4" font-size="9" text-anchor="end">40</text>
<line x1="573.8" y1="1071.1" x2="577.3" y2="1071.1" stroke="#231f20" stroke-width="1.6"/>
<text x="573.3" y="1074.3" font-size="9" text-anchor="end">30</text>
<line x1="573.8" y1="1094" x2="577.3" y2="1094" stroke="#231f20" stroke-width="1.6"/>
<text x="573.3" y="1097.2" font-size="9" text-anchor="end">20</text>
<line x1="573.8" y1="1116.9" x2="577.3" y2="1116.9" stroke="#231f20" stroke-width="1.6"/>
<text x="573.3" y="1120.1" font-size="9" text-anchor="end">10</text>
<line x1="573.8" y1="1139.8" x2="577.3" y2="1139.8" stroke="#231f20" stroke-width="1.6"/>
<text x="573.3" y="1143" font-size="9" text-anchor="end">0</text>
<line x1="596.4" y1="1113.2" x2="596.4" y2="1114.5" stroke="#231f20" stroke-width="1.3"/>
<line x1="589.9" y1="1113.2" x2="602.9" y2="1113.2" stroke="#231f20" stroke-width="1.3"/>
<rect x="583.1" y="1114.5" width="26.6" height="25.3" fill="#231f20"/>
<rect x="622.3" y="1134.4" width="24.4" height="5.4" fill="#fff" stroke="#231f20" stroke-width="1.6"/>
<path d="M594.9 1108 V1103.4 H635.8 V1108" fill="none" stroke="#231f20" stroke-width="2.8" stroke-linecap="round" stroke-linejoin="round"/>
<text x="615.3" y="1103.2" font-size="10.5" text-anchor="middle">**</text>
<text x="648.5" y="1042.7" font-size="15" text-anchor="end" textLength="47" lengthAdjust="spacingAndGlyphs">CD11c</text>
<text x="555.5" y="1080.5" font-size="9.5" text-anchor="middle" textLength="104.2" lengthAdjust="spacingAndGlyphs" transform="rotate(-90 555.5 1080.5)">% of nMZ or FO B cells</text>
<text x="597.9" y="1151" font-size="11" text-anchor="middle" textLength="21" lengthAdjust="spacingAndGlyphs">nMZ</text>
<text x="597.4" y="1162.3" font-size="11" text-anchor="middle" textLength="32.9" lengthAdjust="spacingAndGlyphs">B cells</text>
<text x="636.7" y="1151" font-size="11" text-anchor="middle" textLength="13.8" lengthAdjust="spacingAndGlyphs">FO</text>
<text x="636.2" y="1162.3" font-size="11" text-anchor="middle" textLength="32.9" lengthAdjust="spacingAndGlyphs">B cells</text>
</g>
</svg>
</body></html>
